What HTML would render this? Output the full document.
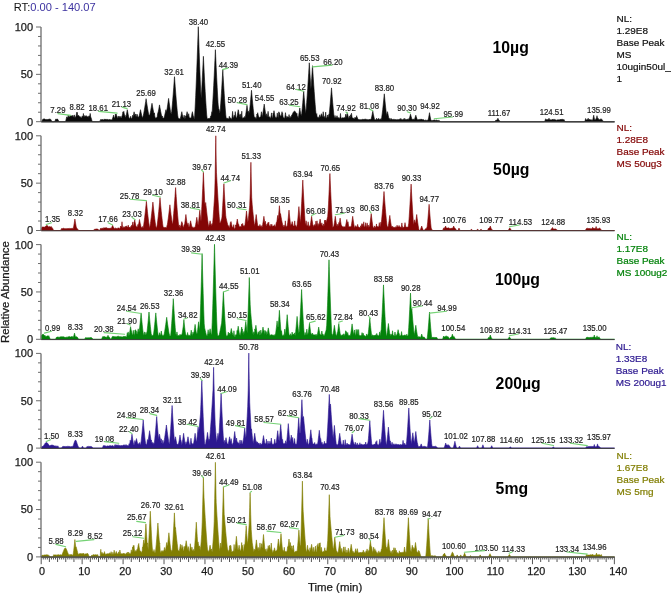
<!DOCTYPE html>
<html><head><meta charset="utf-8"><style>
html,body{margin:0;padding:0;background:#fff;}
svg{display:block;will-change:transform;}
</style></head><body>
<svg width="672" height="593" viewBox="0 0 672 593">
<rect width="672" height="593" fill="#fff"/>
<path d="M41.2,121.7 41.2,121.7 41.7,121.21 42.2,120.44 42.7,119.53 42.9,119.14 43.2,119.29 43.7,118.78 43.709,118.76 44.2,118.92 44.7,119.03 45.2,119.29 45.208,119.29 45.7,119.52 46.2,119.57 46.7,119.49 46.927,119.3 47.2,119.45 47.7,119.52 48.2,119.58 48.674,119.02 48.7,119.1 49.2,119.21 49.7,118.97 50.2,118.93 50.213,118.93 50.7,119.45 51.2,120.23 51.7,121.09 52.2,121.7 54.2,121.7 54.7,121.37 55.2,120.45 55.7,119.11 56.2,119.27 56.7,119.24 57.2,119.08 57.658,119.08 57.7,119.24 58.2,120.07 58.7,121.07 59.2,121.7 65.2,121.7 65.7,120.88 66.2,119.01 66.7,116.83 67.2,117.5 67.7,117.75 68.195,115.06 68.2,115.11 68.7,117.18 69.2,116.98 69.7,116.43 69.768,116.02 70.2,115.4 70.7,116.38 70.867,115.59 71.2,116.28 71.7,116.08 72.2,116.33 72.304,115.32 72.7,116.82 73.11,115.5 73.2,116.26 73.7,117.17 74.2,116.54 74.363,114.9 74.7,117.24 75.2,117.5 75.36,116.72 75.7,117.68 76.2,115.35 76.7,112.75 76.8,112.2 77.2,113.16 77.285,112.49 77.7,115.66 78.2,116.11 78.254,115.93 78.5,115.1 78.7,115.78 79.2,116.47 79.386,116.41 79.7,116.39 80.2,116.66 80.372,116.69 80.7,117.21 81.2,117.63 81.7,117.64 82.173,115.89 82.2,116.13 82.7,117.12 83.2,115.28 83.392,113.48 83.7,116.32 84.2,116.97 84.7,115.84 84.763,115.5 85.2,116.12 85.7,116.16 86.2,116.56 86.544,115.65 86.7,116.41 87,116.2 87.2,116.77 87.7,116.97 88.2,116.62 88.281,116.25 88.7,117.42 89.2,115.91 89.23,115.67 89.7,117.15 90.173,113.4 90.2,113.62 90.7,116.92 91.2,118.08 91.7,119.69 92.2,121.7 99.2,121.7 99.7,121.22 100.2,120.4 100.7,119.43 100.8,119.23 101.2,119.63 101.7,119.65 102.2,119.66 102.369,119.18 102.7,119.97 103.2,120.03 103.7,119.89 104.141,118.93 104.2,119.15 104.7,119.57 105.2,119.25 105.264,119.01 105.7,119.6 106.2,119.52 106.7,119.39 106.929,119.35 107.2,119.36 107.7,119.51 107.813,119.56 108.2,119.74 108.7,119.89 108.957,119.38 109.2,119.88 109.7,119.5 109.862,119.18 110.2,119.8 110.7,119.88 111.042,119.66 111.2,119.89 111.7,119.75 112.151,119.45 112.2,119.39 112.7,118.07 113.2,116.62 113.5,115.14 113.7,116.32 114.2,117.79 114.7,118.14 115.2,115.51 115.365,114.26 115.7,115.26 116.1,114 116.2,114.32 116.598,115.56 116.7,115.86 117.2,117.32 117.7,118.61 118.2,116.3 118.241,115.99 118.7,118.33 119.2,117.22 119.403,116.31 119.7,117.62 120.2,118.01 120.7,116.7 120.803,116.22 121.2,117.95 121.7,117.89 122.003,115.72 122.2,115.7 122.7,113.32 123,111.8 123.2,112.82 123.7,111.84 123.8,111.3 123.914,111.91 124.2,113.41 124.7,115.88 125.104,115.36 125.2,116.33 125.7,117.84 126.2,115.52 126.67,113.14 126.7,112.99 127.2,110.26 127.3,109.7 127.7,111.92 127.731,112.09 128.2,114.53 128.7,116.94 128.779,117.18 129.2,118.23 129.7,118.56 130.2,118.02 130.628,116.29 130.7,116.59 131.2,118.57 131.7,118.51 132.2,117.54 132.533,115.29 132.7,116.44 133.2,116.16 133.7,113.81 134.1,111.8 134.2,112.31 134.35,113.07 134.7,114.77 135.2,116.12 135.462,113.94 135.7,115.93 136.2,117.04 136.594,115.58 136.7,115.18 137,114 137.2,114.79 137.651,115.97 137.7,116.22 138.2,118.07 138.514,116.86 138.7,117.59 139.2,115.74 139.7,113.53 140.2,111.18 140.246,110.95 140.5,109.7 140.7,110.69 141.134,112.76 141.2,113.07 141.7,115.31 142.2,117.38 142.7,117.34 142.754,117.08 143.2,116.1 143.7,113.52 144.127,111.15 144.2,110.73 144.7,107.77 145.2,104.65 145.648,101.74 145.7,101.4 146.1,98.7 146.2,99.38 146.7,102.71 147.2,105.92 147.563,108.15 147.7,108.97 148.2,111.87 148.7,114.58 149.155,114.99 149.2,115.25 149.7,115.33 150.2,112.97 150.7,110.45 150.748,110.2 151.2,107.8 151.7,105.02 152,103.3 152.2,104.45 152.501,106.15 152.7,107.25 153.2,109.93 153.7,112.48 154.2,114.46 154.387,112.88 154.7,115.48 155.2,118.19 155.7,118.03 156.092,117.58 156.2,117.92 156.7,118.12 157.2,116.82 157.7,113.33 157.715,113.19 158.2,112.04 158.7,109.4 158.867,108.49 159.2,106.63 159.5,104.9 159.7,106.06 160.002,107.76 160.2,108.86 160.7,111.52 161.2,114.04 161.21,114.09 161.7,116.37 162.2,116.6 162.331,115.96 162.7,117.74 163.2,118.32 163.7,118.04 163.789,117.75 164.2,117.38 164.7,115.31 164.753,115.08 165.2,113.07 165.7,110.69 165.9,109.7 166.2,111.18 166.7,111.26 166.742,111 167.2,108.11 167.7,104.78 168.2,101.29 168.6,98.4 168.7,99.13 168.731,99.36 169.2,102.71 169.7,106.13 170.149,109.07 170.2,109.39 170.7,112.46 171.2,114.35 171.315,113.5 171.7,111.42 172.2,106.11 172.379,104.1 172.7,100.34 173.2,94.19 173.7,87.7 174.152,81.57 174.2,80.91 174.5,76.7 174.7,79.52 175.2,86.36 175.629,92.01 175.7,92.92 176.2,99.14 176.7,104.99 177.2,110.4 177.557,113.93 177.7,115.26 178.2,118.27 178.7,118.52 178.996,118.14 179.2,118.82 179.7,118.99 180.2,118.81 180.7,116.99 180.935,115.94 181.2,114.7 181.7,112.22 181.8,111.7 182.2,113.73 182.342,114.42 182.7,116.1 183.2,117.93 183.7,117.84 184.166,115.12 184.2,115.38 184.7,118.42 185.2,118.34 185.64,115.89 185.7,116.24 186.2,116.1 186.7,113.73 186.976,112.34 187.1,111.7 187.2,112.22 187.7,114.7 188.2,116.99 188.691,113.7 188.7,113.77 189.2,117.23 189.7,117.98 190.2,117.96 190.216,117.87 190.7,118.22 191.2,117.43 191.7,115.18 191.98,113.24 192.2,112.73 192.4,111.7 192.7,113.23 193.2,115.64 193.607,116.57 193.7,117.1 194.2,118.66 194.47,118.3 194.7,115.19 195.2,106.15 195.621,97.38 195.7,95.64 196.2,84.03 196.7,71.51 197.2,58.22 197.234,57.29 197.7,44.26 198.2,29.68 198.3,26.7 198.7,38.5 198.987,46.73 199.2,52.71 199.7,66.28 200.2,79.12 200.233,79.94 200.7,91.12 201.2,98.54 201.287,97.07 201.7,89.85 202.2,80.57 202.7,70.77 202.832,68.11 203.2,60.52 203.4,56.3 203.7,62.6 203.791,64.49 204.2,72.77 204.65,81.52 204.7,82.47 205.2,91.64 205.7,100.2 206.168,107.55 206.2,108.03 206.7,114.92 207.2,118.92 207.7,118.76 207.902,118.4 208.2,118.56 208.7,118.52 209.077,118.21 209.2,118.53 209.7,118.51 210.2,118 210.597,116.31 210.7,116.76 211.2,115.18 211.7,112.73 211.9,111.7 212.109,112.69 212.2,111.39 212.7,103.62 213.2,94.97 213.345,92.32 213.7,85.61 214.2,75.65 214.7,65.16 214.916,60.48 215.2,54.2 215.4,49.7 215.7,56.43 216.2,67.3 216.7,77.68 216.768,79.06 217.2,87.53 217.7,96.76 218.058,102.92 218.2,105 218.7,108.83 219.2,109.7 219.7,112.72 219.9,113.19 220.2,110.56 220.7,103.88 221.2,96.57 221.403,93.44 221.7,88.72 222.2,80.41 222.7,71.69 222.8,69.9 223.109,75.38 223.2,76.97 223.7,85.44 224.2,93.49 224.526,98.46 224.7,101.03 225.2,107.97 225.7,114.18 225.774,115.02 226.2,118.36 226.7,118.35 227.2,118.34 227.594,118.19 227.7,118.5 228.2,118.81 228.7,118.99 229.2,117 229.335,116.24 229.7,118.22 230.2,118.14 230.294,117.82 230.7,118.23 231.2,118.61 231.7,119.46 232.2,115.95 232.6,111.37 232.7,112.57 233.2,117.29 233.7,117.74 234.2,115.53 234.254,115.13 234.7,117.33 235.2,112.48 235.28,111.64 235.7,115.87 236.2,118.1 236.7,118.05 237.195,115.55 237.2,115.52 237.7,112.72 238.2,109.7 238.624,111.02 238.7,111.82 239.2,115.52 239.528,114.66 239.7,116.23 240.2,117.58 240.7,114.19 240.731,113.92 241.2,117.66 241.7,112.36 241.77,111.22 242.2,117.66 242.7,118.41 242.949,117.67 243.2,118.11 243.7,117.77 244.2,117.65 244.565,116.52 244.7,117.28 245.2,117.58 245.7,114.56 246.2,111.21 246.541,108.77 246.7,107.59 247,105.3 247.2,106.83 247.7,110.51 248.2,113.92 248.424,111.2 248.7,114.99 249.2,112.07 249.234,111.74 249.7,109.42 250.2,104.53 250.7,99.29 251.126,94.59 251.2,93.75 251.5,90.3 251.7,92.61 252.2,98.21 252.657,103.06 252.7,103.51 253.2,108.47 253.69,112.95 253.7,113.04 254.2,117.09 254.7,117.45 255.093,116.91 255.2,117.5 255.7,118.22 256.2,118.42 256.7,116.17 256.959,114 257.2,114.97 257.7,112.7 258.2,114.97 258.352,115.62 258.7,117.07 259.2,117.56 259.7,117.19 260.2,117.03 260.316,117.05 260.7,116.77 261.2,113.23 261.395,111.74 261.7,114.05 262.2,117.04 262.62,114.66 262.7,114.18 263.2,111.04 263.7,107.67 263.953,105.89 264.2,104.1 264.7,107.67 265.2,111.04 265.615,113.66 265.7,114.18 266.2,117.04 266.7,113.81 266.708,113.75 267.2,117.22 267.7,114.71 268.09,111.37 268.2,112.34 268.7,116.45 269.2,117.98 269.7,116.69 269.721,116.6 270.2,118.32 270.7,118.08 271.2,115.53 271.502,112.9 271.7,114.64 272.2,117.95 272.7,117.27 273.121,113.24 273.2,114.04 273.7,112.38 274,110.7 274.2,111.83 274.7,114.52 274.881,115.45 275.2,117 275.7,117.83 276.131,117.46 276.2,117.78 276.7,117.86 277.2,113.79 277.293,112.94 277.7,116.48 278.2,117.85 278.7,113.18 278.814,111.79 279.2,113.62 279.4,112.7 279.7,114.08 280.2,116.25 280.7,115.95 280.753,115.68 281.2,115.64 281.7,113.23 282,111.7 282.2,112.73 282.6,113.04 282.7,114.2 283.2,117.43 283.676,117.65 283.7,117.77 284.2,118.15 284.7,117.97 285.2,114.64 285.467,112.66 285.7,114.4 286.2,117.82 286.7,117.62 286.94,116.2 287.2,117.2 287.7,117.06 288.002,117.16 288.2,117.27 288.7,116.76 289.056,114.57 289.2,115.48 289.7,117.66 290.2,117.7 290.672,116.49 290.7,116.64 291.2,117.01 291.7,115.1 291.701,115.09 292.2,114.6 292.522,113.84 292.7,113.44 293.2,112.43 293.7,111.69 294.141,111.3 294.2,111.27 294.7,111.23 295.2,111.57 295.447,111.87 295.7,112.26 296.2,113.22 296.7,114.36 296.87,113.22 297.2,115.58 297.7,116.78 298.2,117.89 298.606,115.81 298.7,115.25 299.2,112.11 299.7,108.71 299.8,108 300.115,110.2 300.2,110.78 300.7,114.03 301.063,114.94 301.2,115.65 301.7,113.62 302.2,108.67 302.7,103.23 302.774,102.39 303.2,97.39 303.7,91.2 304.092,96.08 304.2,97.39 304.7,103.23 305.2,108.67 305.7,113.62 305.92,111.83 306.2,108.79 306.7,102.5 307.2,95.69 307.585,90.13 307.7,88.43 308.2,80.79 308.661,73.43 308.7,72.8 309.2,64.5 309.3,62.8 309.613,68.07 309.7,69.51 310.2,77.63 310.7,85.42 310.9,88.43 311.023,88.31 311.2,85.75 311.7,78.28 311.844,76.07 312.2,70.5 312.5,65.7 312.681,68.61 312.7,68.91 313.2,76.75 313.7,84.28 313.758,85.13 314.2,91.48 314.7,98.3 315.2,104.68 315.629,109.76 315.7,110.55 316.2,115.77 316.7,113.91 316.745,113.5 317.2,117.36 317.7,117.53 318.172,116.79 318.2,117.01 318.7,118.33 319.2,117.62 319.7,115.07 319.757,114.76 320.2,117.06 320.7,116.48 321.2,114.52 321.4,113.7 321.653,114.29 321.7,114.6 322.2,116.85 322.7,116.32 323.2,111.82 323.207,111.75 323.7,116.2 324.2,117.77 324.517,116.53 324.7,117.54 325.2,117.91 325.661,112.08 325.7,112.62 326.2,118.08 326.7,118.32 327.2,116.48 327.461,114.96 327.7,116.35 328.2,117.52 328.664,114.71 328.7,114.96 329.2,114.06 329.7,109.15 330.2,103.74 330.6,99.12 330.7,97.92 331.2,91.75 331.5,87.9 331.619,89.44 331.7,90.48 332.2,96.71 332.7,102.61 332.817,103.93 333.2,108.1 333.7,113.13 333.845,114.47 334.2,117.53 334.7,117.48 335.026,115.47 335.2,116.56 335.7,118.02 336.2,117.65 336.7,116.62 336.962,115.82 337,115.7 337.2,116.32 337.7,117.79 338.2,118.16 338.633,117.47 338.7,117.74 339.2,118.14 339.7,118.29 340.2,116.69 340.478,113.44 340.7,116.07 341.2,118.54 341.7,118.14 341.819,118.05 342.2,117.84 342.662,117.8 342.7,117.8 343.2,117.89 343.7,117.87 344.2,117.7 344.259,117.68 344.7,117.6 345.2,117.79 345.7,114.53 345.747,114.09 346.2,117.46 346.7,115.4 347.2,113.17 347.3,112.7 347.452,113.4 347.7,114.53 348.2,116.66 348.7,118.41 349.2,117.45 349.377,115.89 349.7,117.85 350.2,117.32 350.582,114.77 350.7,115.58 351.2,115.3 351.488,113.25 351.7,114.77 352.2,118.06 352.7,118.02 353.2,118.11 353.219,118 353.7,118.44 354.2,118.71 354.7,118.56 355.03,117.12 355.2,117.88 355.7,118.02 356.2,117.83 356.646,115.66 356.7,115.93 357.2,118.3 357.468,117.63 357.7,118.61 358.2,120.28 358.6,119.29 358.7,119.57 359.2,119.51 359.7,119.75 360.2,119.66 360.235,119.55 360.7,119.79 361.2,119.73 361.465,119.57 361.7,119.76 362.2,119.84 362.584,118.95 362.7,119.38 363.2,119.6 363.7,119.36 364.056,119.27 364.2,119.27 364.7,119.35 365.2,119.48 365.7,119.11 365.803,118.86 366.2,119.49 366.7,119.52 367.2,119.68 367.61,119.38 367.7,119.61 368.2,119.98 368.7,119.86 369.06,119.02 369.2,119.38 369.7,119.56 370.2,119.57 370.7,119.27 370.71,119.24 371.2,118.92 371.7,116.76 372.11,114.8 372.2,114.35 372.7,111.74 372.8,111.2 373.2,113.33 373.481,114.76 373.7,115.82 374.2,118.09 374.613,119.55 374.7,119.72 375.2,119.75 375.7,119.85 376.2,119.47 376.605,118.22 376.7,118.52 377.2,119.49 377.7,119.32 377.719,119.32 378.2,119.33 378.7,118.29 378.705,118.28 379.2,119.49 379.7,119.44 380.051,119.32 380.2,119.42 380.7,119.37 380.911,118.64 381.2,119.63 381.7,117.58 382.2,113.83 382.556,110.86 382.7,109.6 383.2,104.99 383.7,100.07 384.092,96.01 384.2,94.87 384.3,93.8 384.7,98.02 385.2,103.06 385.7,107.8 386.061,111.01 386.2,112.19 386.7,115.64 387.2,113.23 387.5,111.7 387.7,112.73 387.824,113.35 388.2,115.18 388.7,117.43 389.2,119.43 389.7,118.39 389.714,118.34 390.2,119.87 390.7,119.46 391.048,118.29 391.2,118.81 391.7,119.36 392.2,119.42 392.606,119.47 392.7,119.47 393.2,119.42 393.7,119.36 394.2,119.43 394.544,119.27 394.7,119.64 395.2,119.87 395.7,119.51 395.783,119.29 396.2,119.83 396.7,119.7 397.2,119.68 397.7,119.47 397.712,119.44 398.2,119.67 398.7,119.48 399.2,119.28 399.631,119.2 399.7,119.23 400.2,119.37 400.7,118.89 400.862,118.34 401.2,119.46 401.7,119.63 401.882,119.2 402.2,119.64 402.7,119.76 403.2,119.92 403.7,118.87 403.784,118.66 404.2,119.68 404.7,118.53 404.743,118.36 405.2,119.42 405.7,119.44 406.036,119.44 406.2,119.49 406.7,119.44 407.2,119.33 407.228,119.33 407.7,119.32 408.2,119.5 408.7,118.96 408.823,118.6 409.2,118.81 409.7,117.16 410.2,115.35 410.487,114.25 410.5,114.2 410.7,114.97 411.2,116.81 411.7,118.49 411.827,118.9 412.2,119.61 412.7,119.38 412.824,119.15 413.2,119.24 413.7,119.3 414.2,119.47 414.422,119.41 414.7,118.64 415.2,117.15 415.583,115.92 415.7,115.54 415.8,115.2 416.2,116.52 416.7,118.06 417.2,119.46 417.509,119.5 417.7,119.89 418.2,119.68 418.7,119.52 419.2,119.49 419.481,119.31 419.7,119.52 420.2,119.48 420.631,119.23 420.7,119.35 421.2,119.27 421.7,119.36 421.994,119.02 422.2,119.45 422.7,119.8 423.2,119.84 423.7,119.59 423.713,119.57 424.2,119.92 424.7,120.47 425.2,120.42 425.6,119.87 425.7,120.01 426.2,120.45 426.7,120.33 427.2,120.32 427.7,120.15 427.903,119.85 428.2,119.76 428.7,117.33 429.2,114.53 429.5,112.7 429.7,113.93 429.905,115.14 430.2,116.8 430.7,119.32 431.2,120.4 431.7,120.61 432.2,120.51 432.7,120.47 433.2,120.49 433.491,120 433.7,120.36 434.2,119.7 434.7,120.31 435.2,120.31 435.7,120.42 436.2,120.55 436.604,119.76 436.7,119.99 437.2,120.58 437.7,120.56 438.2,120.19 438.226,120.14 438.7,120.66 439.2,120.44 439.7,120.95 440.2,121.28 440.7,121.7 494.2,121.7 494.7,121.38 495.2,120.86 495.7,120.43 496.2,120.29 496.497,120.01 496.7,120.24 497.2,119.79 497.7,118.68 497.9,118.2 498.2,118.91 498.7,120 499.2,120.51 499.7,120.88 500.2,121.27 500.7,121.7 544.2,121.7 544.7,121.24 545.2,120.13 545.6,118.75 545.7,119.12 546.2,119.72 546.7,119.62 546.852,119.61 547.2,119.65 547.7,119.83 547.918,119.42 548.2,120 548.7,118.91 549,118.2 549.2,118.68 549.659,119.71 549.7,119.79 550.2,120.04 550.7,119.91 550.906,119.52 551.2,120.07 551.7,119.9 552.2,119.69 552.485,119.02 552.7,119.61 553.2,119.69 553.7,119.75 554.028,118.95 554.2,119.38 554.7,119.81 555.2,119.83 555.7,119.97 555.795,119.75 556.2,120.15 556.7,120.22 557.2,119.86 557.262,119.77 557.7,119.96 558.2,119.86 558.42,119.86 558.7,119.87 559.2,119.88 559.7,119.78 560.113,119.27 560.2,119.52 560.7,119.59 561.2,119.62 561.324,119.32 561.7,119.91 562.168,118.91 562.2,119.01 562.7,120.04 563.2,120 563.7,119.71 563.863,119.18 564.2,120.23 564.7,120.7 565.2,121.16 565.7,121.7 584.2,121.7 584.7,121.32 585.2,120.37 585.6,118.47 585.7,118.98 586.2,120.05 586.7,120 587.037,119.43 587.2,119.77 587.7,119.57 588.164,118.2 588.2,118.31 588.7,119.76 589.2,119.92 589.666,119.17 589.7,119.3 590.2,119.97 590.7,119.93 590.973,119.47 591.2,119.86 591.7,120.22 592.2,120.24 592.7,120.1 592.96,119.01 593.2,117.86 593.7,115.2 594.2,117.86 594.513,119.34 594.7,119.86 595.2,119.81 595.7,119.5 596.04,118.71 596.2,119.09 596.7,117.21 596.871,116.36 597,115.7 597.2,116.72 597.7,119.05 598.077,118.26 598.2,118.6 598.7,119.86 598.973,119.46 599.2,120.05 599.7,119.81 599.811,119.55 600.2,120.09 600.7,118.96 600.8,118.7 601.2,119.7 601.598,118.88 601.7,119.13 602.2,119.89 602.7,120.5 603.2,121.13 603.7,121.7 614.2,121.7 614.6,121.7Z" fill="#0a0a0a" stroke="#0a0a0a" stroke-width="0.6" stroke-linejoin="round"/>
<line x1="41.2" y1="122.00" x2="614.6" y2="122.00" stroke="#3a3a3a" stroke-width="1"/>
<path d="M41.2,230.5 41.2,229.26 41.7,228.03 42.1,226.92 42.2,227.21 42.7,226.95 43.2,227.06 43.7,227.01 43.91,226.99 44.2,227 44.7,227.2 45.2,226.66 45.56,226.23 45.7,226.09 46.2,225.68 46.615,225.52 46.7,225.51 47.2,225.58 47.7,225.9 47.948,226.14 48.2,226.42 48.7,227.06 49.2,226.81 49.662,226.44 49.7,226.57 50.2,226.74 50.7,227.08 51.2,227.21 51.372,226.59 51.7,227.45 52.2,227.67 52.7,228.5 53.2,229.55 53.7,230.46 54.2,230.48 54.7,230.49 55.2,230.5 60.2,230.5 60.7,230.06 61.2,229.42 61.6,228.4 61.7,228.72 62.2,228.64 62.7,228.48 63.2,228.32 63.56,228.29 63.7,228.3 64.2,228.45 64.7,228.63 65.2,228.71 65.476,228.39 65.7,228.69 66.2,228.69 66.7,228.59 66.709,228.58 67.2,228.91 67.7,228.54 67.871,228.08 68.2,228.75 68.7,228.54 69.2,228.43 69.296,228.43 69.7,228.46 70.2,228.51 70.455,228.51 70.7,228.48 71.2,228.41 71.7,228.42 71.817,228.21 72.2,228.58 72.7,228.53 72.791,228.31 73.2,228.66 73.7,226.23 73.842,225.46 74.2,223.42 74.7,220.31 74.9,219 75.2,220.95 75.689,223.94 75.7,224 76.2,226.75 76.7,228.37 76.707,228.34 77.2,228.5 77.7,229.13 78.2,229.86 78.7,230.5 93.2,230.5 93.7,230.13 94.2,229.7 94.6,228.99 94.7,229.21 95.2,229.25 95.7,229.12 95.954,229 96.2,228.98 96.7,228.93 97.2,228.95 97.7,229.02 97.712,229 98.2,229.53 98.7,230.08 99.2,230.5 99.7,229.93 100.2,229.26 100.6,228.24 100.7,228.52 101.2,228.44 101.7,228.38 102.2,228.44 102.508,227.91 102.7,228.37 103.2,228.48 103.7,228.12 103.862,227.63 104.2,228.01 104.7,227.91 105.2,227.99 105.442,227.65 105.7,228.12 106.2,228.15 106.467,227.57 106.7,228.11 107.2,228.14 107.7,228.33 107.85,228.07 108.2,228.56 108.7,228.19 108.771,228.03 109.2,228.53 109.7,228.33 110.176,228.1 110.2,228.17 110.7,228.24 111.2,228.24 111.7,227.53 111.866,227.13 112.2,226.27 112.6,225.2 112.7,225.47 113.2,226.79 113.7,228.01 113.802,227.88 114.2,228.41 114.7,228.4 115.2,228.36 115.491,227.78 115.7,228.41 116.2,228.53 116.433,228.23 116.7,228.57 117.2,228.42 117.7,228.15 118.2,227.97 118.371,227.95 118.7,227.98 119.2,228.31 119.7,228.97 120.2,227.56 120.6,226.06 120.7,226.45 121.2,227.1 121.7,225.64 122.007,221.76 122.2,224.26 122.7,227.69 123.2,227.46 123.7,227.28 123.971,226.59 124.2,227.28 124.7,227.31 125.2,227.16 125.552,226.35 125.7,226.84 126.2,226.62 126.454,225.86 126.7,226.69 127.2,227 127.7,227.28 128.2,225.22 128.218,225.12 128.7,227.29 129.2,227.35 129.7,227.57 130.023,227.08 130.2,227.74 130.7,227.63 130.98,226.22 131.2,227.28 131.7,225.52 131.78,224.99 132.2,226.85 132.7,222.45 132.749,221.91 133.2,226.58 133.7,225.04 134.158,222.1 134.2,222.57 134.7,219.9 135.2,222.57 135.289,223.02 135.7,225.04 136.2,227.28 136.7,226.76 136.789,226.46 137.2,227.37 137.7,226.37 137.959,224.42 138.2,226.24 138.7,223.84 139.032,222.1 139.2,221.18 139.5,219.5 139.7,220.63 140.2,223.32 140.6,224.45 140.7,225.33 141.2,227.46 141.7,227.56 142.2,227.53 142.438,226.5 142.7,227.56 143.2,227.76 143.7,224.92 144.2,221.24 144.348,220.08 144.7,217.18 145.2,212.81 145.7,208.18 145.716,208.03 146.2,203.31 146.4,201.3 146.7,204.3 147.2,209.12 147.436,211.32 147.7,213.71 148.2,218.02 148.7,222.01 149.2,225.6 149.414,226.98 149.7,227.91 150.2,225.07 150.421,223.54 150.7,221.49 151.2,217.55 151.7,213.3 152.2,208.79 152.415,206.78 152.7,204.05 152.9,202.1 153.2,205.02 153.7,209.71 154.2,214.17 154.323,215.23 154.7,218.36 155.128,221.71 155.2,222.24 155.7,225.73 155.986,226.94 156.2,227.44 156.7,227.61 157.2,225 157.691,221.04 157.7,220.96 158.2,216.48 158.7,211.64 159.2,206.49 159.572,202.48 159.7,201.07 160,197.7 160.2,199.96 160.7,205.43 161.2,210.63 161.291,211.55 161.7,215.54 162.2,220.1 162.571,223.21 162.7,224.23 163.2,227.79 163.7,227.3 163.825,226.89 164.2,227.74 164.7,227.71 165.192,226.97 165.2,227.01 165.7,227.9 166.2,227.76 166.7,227.33 167.022,225.41 167.2,225.59 167.7,222.35 168.2,218.78 168.7,214.93 168.836,213.85 169.2,210.85 169.7,206.57 169.9,204.8 169.923,205 170.2,207.44 170.7,211.69 171.031,214.38 171.2,215.72 171.7,219.52 172.2,223.03 172.208,223.08 172.7,224.27 173.2,219.13 173.7,213.38 173.936,210.49 174.2,207.13 174.7,200.47 174.982,196.55 175.2,193.45 175.6,187.6 175.7,189.08 176.2,196.3 176.225,196.65 176.7,203.18 177.2,209.68 177.698,215.72 177.7,215.74 178.2,221.27 178.7,226.1 179.2,225.39 179.289,224.92 179.7,227 180.2,227.64 180.538,225.86 180.7,226.31 181.2,224.27 181.7,222.06 181.8,221.6 182.2,223.4 182.29,222.8 182.7,225.52 183.2,227.25 183.7,226.88 184.127,224.87 184.2,225.22 184.7,223.66 185.2,220.06 185.7,216.14 185.9,214.5 185.913,214.61 186.2,216.95 186.7,220.81 186.818,221.67 187.2,224.34 187.7,224.77 188.033,222.88 188.2,223.84 188.7,226.54 189.2,227 189.584,225.58 189.7,225.07 190.2,222.77 190.6,220.8 190.7,221.3 191.2,223.71 191.45,224.85 191.7,225.94 192.2,227.72 192.7,227.52 192.882,226.74 193.2,228.01 193.7,227.83 194.2,227.49 194.436,227.35 194.7,227.25 195.2,227 195.7,224.29 196.02,222.38 196.2,221.26 196.7,217.98 196.8,217.3 197.2,219.98 197.7,223.11 197.881,224.18 198.2,225.12 198.7,220.95 199.2,216.29 199.7,211.25 199.702,211.23 199.8,210.2 200.2,214.32 200.7,219.14 201.04,221.14 201.2,218.52 201.7,209.49 201.854,206.5 202.2,199.45 202.7,188.57 203.2,177 203.4,172.2 203.469,173.87 203.7,179.37 204.2,190.81 204.7,201.53 205.2,207.25 205.408,205.3 205.7,202.5 206.2,207.25 206.7,211.79 207.131,215.51 207.2,216.09 207.7,220.1 208.2,223.79 208.382,224.99 208.7,226.65 209.2,225.07 209.467,223.86 209.7,222.77 210.1,220.8 210.2,221.3 210.593,223.21 210.7,223.71 211.2,225.94 211.7,225.1 211.932,223.66 212.2,225.31 212.7,222.73 213.132,217.4 213.2,216.51 213.7,209.56 214.2,202.03 214.7,194 215.11,178.35 215.2,173.14 215.7,142.31 215.8,135.8 216.2,161.18 216.457,172.27 216.7,176.7 217.2,185.54 217.7,194 217.907,197.38 218.2,202.03 218.7,209.56 218.981,213.54 219.2,216.51 219.7,222.73 219.866,222.76 220.2,223.22 220.7,221.71 221.2,220.14 221.7,218.5 221.852,218 222,216.68 222.2,213.67 222.7,205.62 223.2,196.92 223.332,194.52 223.7,187.65 223.9,183.8 224.2,189.54 224.7,198.7 224.98,203.59 225.2,207.29 225.7,215.19 226,217.5 226.2,218.39 226.7,220.56 226.839,221.15 227.2,222.63 227.7,224.57 228.2,226.38 228.7,226.25 228.82,225.57 229.2,227.65 229.7,227.03 230.2,223.73 230.36,222.51 230.7,222.88 231,221.5 231.2,222.42 231.7,224.63 232.023,225.96 232.2,226.65 232.7,227.35 233.2,227.53 233.7,225.08 233.752,224.63 234.2,228.22 234.7,228.87 235.2,228.1 235.6,224.9 235.7,225.76 236.2,225.09 236.7,222.45 237.146,219.91 237.2,219.59 237.3,219 237.7,221.33 238.2,224.06 238.7,224.34 238.714,224.25 239.2,226.4 239.7,226.76 240.2,226.84 240.378,226.38 240.7,226.75 241.2,226.77 241.662,223.95 241.7,224.31 242.2,225.78 242.654,223.42 242.7,223.66 243.2,226.23 243.7,226.12 244.033,225.57 244.2,226.03 244.7,226.19 244.965,224.84 245.2,222.99 245.7,218.69 246.2,213.99 246.482,211.18 246.5,211 246.7,213 247.2,217.78 247.654,221.78 247.7,222.17 248.2,220.17 248.7,215.71 249.2,210.92 249.542,207.47 249.7,205.84 250.2,193.35 250.7,171.6 250.9,162.3 250.954,164.84 251,166.99 251.2,176.13 251.7,197.41 252.2,204.79 252.585,208.77 252.7,209.93 252.9,211.9 253.2,214.78 253.7,219.31 254.2,223.44 254.239,223.74 254.7,225.64 255.2,222.26 255.24,221.98 255.7,218.53 256.2,214.5 256.636,218.03 256.7,218.53 257.2,222.26 257.7,225.64 258.2,225.9 258.227,225.76 258.7,226.3 259.2,226.24 259.7,226.08 259.932,224.48 260.2,226.1 260.7,226.45 261.2,225.81 261.235,225.62 261.7,227.14 262.2,227.03 262.7,224.43 262.712,224.36 263.2,221.24 263.7,217.76 263.9,216.3 264.2,218.47 264.251,218.84 264.7,221.9 265.2,224.52 265.475,221.28 265.7,223.95 266.2,226 266.7,225.55 267.015,223.96 267.2,224.9 267.7,224.06 267.919,222.62 268.2,224.47 268.7,222.31 268.73,222.06 269.2,225.73 269.7,226.54 269.926,225.42 270.2,226.77 270.7,225.73 270.974,224.13 271.2,225.45 271.7,225.78 271.886,224.35 272.2,226.34 272.7,226.29 273.2,226.07 273.7,225.96 273.744,225.97 274.2,226.18 274.55,224.68 274.7,225.53 275.2,227 275.7,225.98 276.2,223.09 276.318,222.36 276.7,222.73 277.2,219.2 277.7,215.4 278.029,217.93 278.2,219.2 278.7,214.32 279.2,208.25 279.4,205.7 279.7,209.5 279.705,209.56 280.2,215.34 280.5,213.6 280.7,214.76 281.2,217.58 281.602,219.75 281.7,220.26 282.2,222.79 282.488,223.77 282.7,225.02 283.2,227.22 283.7,226.37 283.954,225.05 284.2,226.33 284.7,226.48 285.2,222.94 285.341,220.83 285.7,225.96 286.2,226.38 286.7,226.15 287.198,225.91 287.2,225.91 287.7,222.64 288.2,218.14 288.281,217.37 288.7,213.22 289,210.1 289.2,212.2 289.271,212.93 289.7,217.19 290.2,221.78 290.7,225.86 291.112,224.68 291.2,225.1 291.7,223.84 292.2,221.6 292.7,223.84 293.092,225.49 293.2,225.92 293.7,226.09 294.2,225.95 294.7,221.05 294.714,220.9 295.2,225.7 295.7,225.59 295.738,225.41 296.2,226.68 296.7,227.09 297.2,224.3 297.462,221.36 297.7,220.29 298.2,214.91 298.7,209.06 298.9,206.6 298.912,206.75 299.2,210.26 299.7,216.02 300.2,221.3 300.423,222.63 300.7,218.64 301.2,210.63 301.588,203.82 301.7,201.77 302.2,192.22 302.7,182.09 302.771,180.61 302.8,180 303.2,188.24 303.7,198.03 304.095,205.31 304.2,207.18 304.7,215.55 304.984,219.89 305.2,222.94 305.7,224.81 306.137,220.78 306.2,221.38 306.7,225.87 307.021,225.35 307.2,226.07 307.7,225.48 308.143,221.76 308.2,222.26 308.7,226.21 309.2,226.17 309.353,225.68 309.7,226.43 310.2,225.62 310.7,222.55 311.083,219.99 311.2,219.18 311.6,216.3 311.7,217.03 311.996,219.15 312.2,220.56 312.7,223.82 313.2,226.67 313.7,225.68 313.741,225.5 314.2,226.11 314.7,224.74 314.75,224.39 315.2,225.93 315.7,223.88 315.951,221.09 316.2,223.85 316.7,224.4 317.023,220.8 317.2,222.82 317.7,226.49 318.15,223.55 318.2,223.89 318.7,226.54 319.2,224.06 319.7,221.33 320.038,219.37 320.1,219 320.2,219.59 320.7,222.45 321.2,225.09 321.7,224.27 321.89,222.9 322.2,225.1 322.7,226.05 323.2,226.18 323.636,223.96 323.7,224.6 324.2,225.76 324.643,220.15 324.7,220.92 325.2,222.37 325.473,220.04 325.7,221.99 326.2,222.56 326.363,220.82 326.7,220.59 327.2,218.53 327.582,216.9 327.7,216.39 328.2,209.96 328.5,204.17 328.551,203.16 328.7,200.14 329.2,189.51 329.7,178.2 329.9,173.5 330.2,180.51 330.6,189.51 330.7,191.69 331.2,202.17 331.681,211.47 331.7,211.82 332.2,220.41 332.7,227.49 333.179,226.79 333.2,226.87 333.7,226.74 334.2,223.82 334.437,222.31 334.7,220.56 335.2,217.03 335.3,216.3 335.7,219.18 336.03,221.44 336.2,222.55 336.7,225.62 337.2,226.6 337.7,224.29 337.729,224.15 338.2,226.34 338.7,223.78 338.84,222.57 339.2,223.56 339.7,220.61 339.764,220.22 340.1,218.1 340.2,218.74 340.7,221.82 341.2,224.66 341.7,225.88 341.73,225.76 342.2,226.65 342.7,226.74 343.11,226.38 343.2,226.79 343.7,227.13 344.2,227.11 344.346,226.64 344.7,227.1 345.2,227.29 345.7,225.32 346.2,222.8 346.283,222.36 346.7,220.07 346.8,219.5 347.2,221.73 347.7,223.46 347.958,221.73 348.2,223.35 348.7,226.42 349.2,227.02 349.7,226.78 349.749,226.55 350.2,226.66 350.7,226.81 351.2,226.19 351.367,225.23 351.7,223.19 352.2,219.88 352.225,219.7 352.7,216.3 353.2,219.88 353.7,223.19 353.796,223.79 354.2,226.19 354.7,227.45 355.2,227.08 355.7,225.87 355.764,225.62 356.2,226.71 356.7,226.89 357.2,227.04 357.645,224.36 357.7,224.87 358.2,226.98 358.7,227.11 359.2,227.44 359.451,227.15 359.7,227.73 360.2,227.75 360.691,225.74 360.7,225.78 361.2,227.24 361.7,224.3 361.79,223.64 362.2,226.55 362.7,224.39 362.773,223.85 363.2,226.87 363.7,222.52 363.765,221.82 364.2,226.26 364.7,226.97 365.2,226.15 365.603,222.72 365.7,223.58 366.2,227.4 366.7,225.68 367.141,222.88 367.2,223.27 367.7,226.38 368.2,225.66 368.304,225.09 368.7,227.2 369.2,226.94 369.7,225.36 370.101,222.54 370.2,221.8 370.7,217.86 370.915,216.06 371.2,213.6 371.7,217.86 372.2,221.8 372.7,225.36 372.81,226.09 373.2,227.59 373.7,227.76 374.2,227.59 374.492,225.92 374.7,227.13 375.2,227.26 375.7,227.3 376.2,225.85 376.461,223.96 376.7,225.7 377.2,226.74 377.7,226.61 377.859,226.63 378.2,226.79 378.7,226.9 379.2,223.47 379.313,222.63 379.7,225.42 380.2,226.75 380.7,223.79 380.956,222.14 381.2,223.71 381.7,219.16 382.2,213.83 382.673,208.4 382.7,208.07 383.2,201.95 383.7,195.51 384,191.5 384.174,193.84 384.2,194.18 384.7,200.69 385.2,206.88 385.361,208.8 385.7,212.71 386.2,218.13 386.418,220.35 386.7,223.05 387.2,227.28 387.7,226.82 387.739,226.6 388.2,226.5 388.7,223.39 389.2,219.93 389.397,218.48 389.7,216.18 389.8,215.4 390.2,218.46 390.554,221.03 390.7,222.05 391.2,225.31 391.7,226.67 392.2,226.94 392.48,226.27 392.7,227.18 393.2,227.23 393.7,227.2 394.2,227.29 394.277,227.19 394.7,227.55 395.2,227.76 395.625,226.69 395.7,227.08 396.2,227.37 396.7,227.05 397.081,225.18 397.2,225.92 397.7,227.02 398.2,227.02 398.7,226.87 399.054,225.41 399.2,226.24 399.7,226.81 400.2,227.15 400.7,227.27 400.823,226.89 401.2,227.63 401.7,224.47 401.87,222.93 402.2,225.83 402.7,227.43 403.2,227.52 403.529,227.12 403.7,227.43 404.2,227.11 404.7,224.7 405.019,222.65 405.2,223.83 405.7,226.82 406.2,227.05 406.7,227.14 406.929,227.01 407.2,227.1 407.7,227.14 408.2,226.82 408.7,223.56 408.771,222.66 409.2,216.77 409.7,209.07 409.764,208.03 410.2,200.66 410.7,191.67 410.857,188.73 411.1,184.1 411.2,186.02 411.7,195.33 411.976,200.24 412.2,204.1 412.7,212.24 413.2,219.61 413.474,223.23 413.7,224.51 414.2,221.97 414.6,219.8 414.7,220.35 415.2,223.01 415.426,222.95 415.7,222.26 416.2,218.53 416.418,216.81 416.7,214.5 417.2,218.53 417.7,222.26 418.2,225.64 418.7,228.53 419.2,230.5 419.7,230.5 420.2,229.94 420.7,228.83 421.2,227.49 421.7,226 422.2,227.49 422.7,228.83 423.2,229.94 423.7,230.5 424.2,230.36 424.7,229.84 425.2,229.2 425.6,228.62 425.7,228.77 426.2,228.4 426.7,228.3 427.2,226.4 427.583,222.71 427.7,221.49 428.2,215.83 428.7,209.61 429.1,204.3 429.114,204.49 429.2,205.65 429.7,212.16 430.2,218.17 430.7,223.56 431.092,227.2 431.2,228.08 431.7,229.28 432.2,229.83 432.7,230.5 442.2,230.5 442.7,229.97 443.2,229.14 443.6,227.93 443.7,228.25 444.2,228.59 444.578,227.72 444.7,228.02 445.2,227.21 445.6,226 445.7,226.31 446.2,227.77 446.463,228.02 446.7,228.05 447.2,228.11 447.7,228.08 448.2,227.75 448.232,227.65 448.7,228 449.2,228.2 449.7,228.46 449.936,228.23 450.2,228.59 450.7,228.53 451.2,228.4 451.427,228 451.7,228.35 452.2,228.03 452.275,227.86 452.7,228.38 453.2,227.49 453.276,227.28 453.7,226 454.2,227.49 454.411,227.87 454.7,227.94 455.2,228.37 455.7,229.06 456.2,229.77 456.7,230.5 457.7,230.5 458.2,229.84 458.7,228.75 459,228 459.2,228.51 459.7,229.64 460.2,230.46 460.7,230.5 469.7,230.5 470.2,230.48 470.7,229.98 471.2,229.3 471.7,229.45 472.2,230.1 472.7,230.5 476.2,230.5 476.7,230.21 477.2,229.59 477.7,229.15 478.2,229.86 478.7,230.4 479.2,230.5 479.7,230.5 480.2,230.1 480.7,229.45 481.2,229.3 481.7,229.98 482.2,230.48 482.7,230.5 487.2,230.5 487.7,229.91 488.2,228.97 488.6,228.1 488.7,228.32 489.2,227.92 489.7,227.77 490.076,226.69 490.2,226.31 490.3,226 490.7,227.21 491.2,228.58 491.7,229.15 492.2,229.81 492.7,230.5 507.7,230.5 508.2,230.28 508.7,229.64 509.2,228.86 509.7,227.99 509.8,227.8 510.2,228.52 510.7,229.35 511.2,230.05 511.7,230.5 549.7,230.5 550.2,230.49 550.7,230.02 551.2,229.34 551.6,228.71 551.7,228.87 552.2,228.26 552.5,227.5 552.688,227.98 552.7,228.01 553.2,228.89 553.7,229.05 554.2,229.11 554.676,228.96 554.7,229 555.2,229.08 555.694,228.9 555.7,228.91 556.2,229.33 556.7,229.66 557.2,230.03 557.7,230.5 584.7,230.5 585.2,230.31 585.7,229.71 586.2,228.96 586.6,228.29 586.7,228.47 587.2,228.44 587.468,228.23 587.7,228.35 588.2,228.4 588.7,228.6 589.2,228.79 589.386,228.28 589.7,228.87 590.2,228.81 590.7,228.7 590.806,228.4 591.2,228.75 591.7,228.8 592.2,228.56 592.552,227.46 592.6,227.3 592.7,227.63 593.2,228.37 593.7,228.31 593.82,228.32 594.2,228.41 594.7,228.54 594.979,228.46 595.2,228.59 595.7,228.08 596.1,226.5 596.103,226.51 596.2,226.91 596.7,228.74 597.2,228.91 597.7,228.56 597.722,228.52 598.2,228.83 598.7,228.64 598.863,228.55 599.2,228.55 599.6,227.8 599.7,228.08 600.042,228.45 600.2,228.75 600.7,229.2 601.2,229.8 601.7,230.5 614.2,230.5 614.6,230.5Z" fill="#830505" stroke="#830505" stroke-width="0.6" stroke-linejoin="round"/>
<line x1="41.2" y1="230.80" x2="614.6" y2="230.80" stroke="#3a3a3a" stroke-width="1"/>
<path d="M41.2,339.3 41.2,335.97 41.7,335.25 42.1,334.78 42.2,334.68 42.7,334.36 43.2,334.32 43.7,334.6 43.849,334.73 44.2,335.12 44.7,335.82 45.2,335.87 45.268,335.62 45.7,336.81 46.2,336.6 46.7,336.26 47.041,336.08 47.2,336.03 47.7,336.05 47.89,335.73 48.2,336.17 48.7,336.19 48.896,335.77 49.2,336.71 49.7,337.81 50.2,339.15 50.7,339.3 55.2,339.3 55.7,338.67 56.2,337.9 56.6,337.05 56.7,337.29 57.2,337.12 57.415,336.99 57.7,337.09 58.2,337.15 58.7,337.31 59.024,336.8 59.2,337.18 59.7,337.35 60.2,337.12 60.7,336.66 61.2,336.84 61.7,336.89 61.953,336.51 62.2,336.92 62.7,336.83 63.2,336.75 63.574,336.78 63.7,336.83 64.2,337.07 64.7,337.31 65.2,337.38 65.532,337 65.7,337.28 66.2,337.17 66.7,337.18 66.846,337.05 67.2,337.22 67.7,337.16 68.006,336.66 68.2,336.94 68.7,336.71 69.2,336.66 69.673,336.43 69.7,336.53 70.2,336.99 70.7,337.05 71.2,336.81 71.306,336.37 71.7,337.06 72.2,337.22 72.7,336.6 72.752,336.37 73.2,337.43 73.7,336.29 74.2,334.36 74.328,333.83 74.5,333.1 74.7,333.95 75.2,335.92 75.309,336.32 75.7,336.95 76.2,336.87 76.303,336.84 76.7,336.73 77.2,336.97 77.7,337.76 78.2,338.61 78.7,339.3 84.2,339.3 84.7,338.92 85.2,338.29 85.6,337.52 85.7,337.72 86.2,337.99 86.465,337.64 86.7,337.99 87.2,338.01 87.334,337.79 87.7,337.87 88.2,337.77 88.551,337.72 88.7,337.76 89.2,337.77 89.568,337.67 89.7,337.72 90.2,337.61 90.7,337.55 90.724,337.55 91.2,337.62 91.7,337.78 92.2,338.26 92.7,338.67 93.2,339.3 101.2,339.3 101.7,338.76 102.2,337.8 102.6,336.64 102.7,336.94 103.2,337.02 103.426,336.5 103.7,336.85 104.2,336.67 104.424,336.33 104.7,336.68 105.2,336.88 105.397,336.95 105.7,337.11 106.2,337.2 106.7,337.16 106.942,336.87 107.2,336.88 107.7,335.91 107.952,335.4 108,335.3 108.2,335.71 108.7,336.69 109.2,337.14 109.295,336.92 109.7,337.74 110.2,338.48 110.7,339.3 111.2,338.86 111.7,337.94 112.2,336.84 112.3,336.61 112.7,336.44 113.2,336.63 113.342,336.15 113.7,336.98 114.2,337.11 114.485,336.51 114.7,337 115.2,336.82 115.7,336.75 116.107,336.66 116.2,336.78 116.7,336.76 117.2,336.57 117.7,336.31 117.71,336.31 118.2,336.2 118.7,336.34 118.773,336.38 119.2,336.6 119.7,336.75 119.775,336.65 120.2,336.75 120.7,336.73 121.075,336.36 121.2,336.65 121.7,337.04 122.129,336.67 122.2,336.84 122.7,336.95 123.2,336.65 123.7,336.45 123.924,335.99 124.2,336.44 124.7,336.52 124.77,336.52 125.2,336.5 125.7,336.38 126.2,337.07 126.7,336.68 127.2,333.51 127.3,332.81 127.7,335.48 128.2,331.93 128.204,331.9 128.7,335.97 129.2,334.97 129.626,332.67 129.7,332.25 130.2,329.26 130.6,326.7 130.7,327.35 131.2,330.48 131.619,330.82 131.7,331.74 132.2,335.1 132.7,334.84 133.2,331.16 133.305,330.34 133.7,333.36 134.2,335.6 134.7,333.36 135.013,330.23 135.2,331.17 135.5,329.7 135.7,330.69 136.2,331.11 136.24,330.81 136.7,334.11 137.102,334.35 137.2,333.9 137.7,331.44 138.116,329.26 138.2,328.8 138.7,331.44 139.2,331.49 139.7,327.11 139.81,326.09 140.2,322.32 140.7,317.21 141.1,312.9 141.2,313.99 141.516,317.37 141.7,319.29 142.2,324.28 142.7,328.91 143.2,333.1 143.511,333.93 143.7,335.32 144.2,334.87 144.593,331.89 144.7,332.74 145.2,335.2 145.7,334.15 146,332.3 146.2,333.55 146.7,334.47 147.2,330.35 147.7,325.73 147.986,322.91 148.2,320.71 148.7,315.36 149,312 149.2,314.25 149.567,318.26 149.7,319.67 150.2,324.76 150.403,326.72 150.7,329.46 151.2,333.69 151.621,335.09 151.7,335.41 152.2,335.59 152.7,335.4 153.023,335.22 153.2,335.13 153.7,333.1 154.192,328.98 154.2,328.91 154.7,324.28 155.2,319.29 155.64,314.64 155.7,313.99 155.8,312.9 156.2,317.21 156.441,319.71 156.7,322.32 157.2,327.11 157.687,331.38 157.7,331.49 158.2,335.35 158.7,335.41 159.2,334.79 159.636,332.67 159.7,332.99 160.2,335.37 160.7,335.04 161.2,331.81 161.32,330.98 161.7,333.55 162.2,335.65 162.7,336.05 163.054,334.81 163.2,335.45 163.7,336.2 164.2,334.03 164.662,331.36 164.7,331.13 165.2,327.98 165.7,324.6 166.186,321.14 166.2,321.03 166.7,317.3 167.2,321.03 167.592,323.85 167.7,324.6 168.2,327.98 168.7,331.13 169.2,334.03 169.525,334.64 169.7,335.41 170.2,335.88 170.7,335.31 171.2,329.77 171.51,325.86 171.7,323.32 172.2,316.2 172.7,308.53 172.965,304.26 173.2,300.38 173.3,298.7 173.7,305.32 174.2,313.19 174.215,313.42 174.7,320.55 175.2,327.28 175.233,327.7 175.7,333.22 176.2,335.82 176.7,333.45 176.947,331.91 177.2,333.49 177.7,336.04 178.2,335.82 178.7,335.78 178.895,335.11 179.2,335.83 179.7,335.73 180.045,334.2 180.2,335.39 180.7,335.08 181.2,335.05 181.7,335.11 181.876,333.86 182.2,333.5 182.7,329.89 182.75,329.51 183.2,326.71 183.624,322.72 183.7,321.98 183.9,320 184.2,322.96 184.7,327.61 185.2,331.87 185.613,333.79 185.7,334.28 186.2,335.52 186.7,335.32 186.701,335.32 187.2,335.38 187.581,332.48 187.7,333.68 188.2,335.38 188.7,335.22 189.2,335.24 189.348,335.17 189.7,335.57 190.2,335.99 190.7,334.11 191.2,330.5 191.247,330.15 191.7,333.47 192.2,335.85 192.7,333.98 193.017,332.04 193.2,333.18 193.7,334.18 194.2,330.96 194.7,327.42 194.915,325.82 195.1,324.4 195.2,325.17 195.7,328.87 196.2,332.29 196.484,332.74 196.7,333.94 197.2,333.28 197.7,329.5 197.906,327.83 198.2,325.35 198.6,321.8 198.7,322.7 199.2,327.05 199.562,329.99 199.7,331.05 200.2,318.29 200.7,303.31 201.2,286.7 201.349,281.48 201.7,268.77 202.1,253.6 202.2,257.45 202.7,276.08 202.883,282.61 203,286.7 203.2,293.52 203.7,309.52 204.2,323.71 204.637,327.95 204.7,328.23 205.2,330.36 205.7,332.38 206.2,334.27 206.329,334.73 206.7,336 207.2,335.86 207.7,333.47 208.148,329.76 208.2,330.2 208.7,334.26 209.2,333.42 209.611,331.39 209.7,330.93 210.1,328.8 210.2,329.34 210.7,331.95 211.05,333.66 211.2,334.36 211.7,334.29 212.2,322.48 212.7,308.16 212.852,303.44 213.2,292.09 213.7,274.62 214.2,255.98 214.295,252.32 214.5,244.3 214.7,252.13 215.2,270.98 215.561,283.9 215.7,288.7 216.2,305.07 216.405,311.33 216.7,319.78 217.2,332.2 217.7,335.88 217.892,335.64 218.2,336.02 218.7,335.86 218.862,335.33 219.2,334.71 219.7,332.55 220.2,330.21 220.598,328.25 220.7,327.73 221.2,325.12 221.5,323.5 221.7,322.15 221.801,320.55 222.2,313.95 222.681,305.42 222.7,305.07 223.2,295.62 223.4,291.7 223.7,297.55 224.2,306.89 224.438,311.14 224.7,315.64 225.2,323.7 225.695,330.81 225.7,330.87 226.2,336.3 226.7,336.11 226.899,335.59 227.2,335.81 227.7,335.67 228.2,332.85 228.325,332.07 228.7,334.32 229.2,334.5 229.517,333.01 229.7,333.88 230.2,334.22 230.7,331.74 231.2,329.06 231.205,329.03 231.3,328.5 231.7,330.69 232.2,333.25 232.538,333.17 232.7,334.26 233.2,335.93 233.7,334.01 233.953,330.8 234.2,333.93 234.7,337.14 235.2,336.49 235.6,334.73 235.7,335.19 236.2,334.9 236.7,333.89 237.093,330.54 237.2,331.48 237.7,329.5 238.2,326.2 238.7,329.5 238.791,330.07 239.2,332.56 239.7,334.88 239.719,334.81 240.2,335.59 240.7,333.02 241.2,330.17 241.47,328.54 241.7,327.1 242.2,329.71 242.282,329.04 242.7,332.35 243.2,334.91 243.7,332.5 243.85,331.5 244.2,333.77 244.7,330.88 245.2,326.77 245.7,322.33 245.748,321.88 245.8,321.4 246.2,325.03 246.7,329.28 247.2,333.14 247.424,329.13 247.7,322.92 248.2,310.22 248.7,296.04 249.081,284.44 249.2,280.69 249.3,277.5 249.7,290.03 250,298.98 250.03,299.85 250.2,304.7 250.7,312.54 251.2,318.1 251.265,318.8 251.7,323.34 252.2,328.2 252.585,331.59 252.7,332.61 253.2,335.16 253.7,332.35 253.801,331.74 254.2,334.06 254.7,331.32 254.87,328.93 255.2,330.17 255.7,326.74 255.9,325.3 256.2,327.44 256.7,330.82 256.75,331.14 257.2,333.91 257.7,334.66 258.2,332.68 258.329,331.95 258.7,333.99 259.2,332.14 259.3,330.8 259.7,335.3 260.2,334.7 260.7,331.06 260.83,330.05 261.2,332.87 261.7,334.6 262.2,331.91 262.441,330.52 262.7,328.97 263,327.1 263.2,328.35 263.7,331.34 264.15,330.54 264.2,331.03 264.7,335.01 265.2,330.96 265.249,330.5 265.7,334.32 266.169,331.5 266.2,331.69 266.7,334.67 267.2,333.94 267.469,332.56 267.7,331.32 268.2,328.49 268.3,327.9 268.673,329.92 268.7,330.21 269.2,332.92 269.7,335.38 270.074,334.88 270.2,335.4 270.7,334.95 271.2,334.7 271.409,334.7 271.7,334.8 272.2,335.08 272.33,334.77 272.7,335.23 273.2,335.19 273.7,335.19 274.006,335.31 274.2,335.44 274.7,335.83 274.993,334.34 275.2,335.84 275.7,332.97 276.2,329 276.38,327.47 276.7,324.63 277.1,320.9 277.186,321.72 277.2,321.85 277.7,326.42 278.2,326.91 278.7,320.38 278.75,319.69 279.2,313.28 279.4,310.3 279.7,314.74 279.712,314.91 280.2,321.73 280.7,328.13 281.2,333.23 281.508,330.72 281.7,332.3 282.2,335.59 282.7,335.76 283.2,335.86 283.449,334.72 283.7,335.66 284.2,335.21 284.7,329.69 284.744,329.08 285.2,334.78 285.7,331.82 286.2,326.64 286.282,325.73 286.7,320.89 287.2,314.7 287.698,320.87 287.7,320.89 288.2,326.64 288.7,331.82 289.2,335.87 289.428,334.91 289.7,335.71 290.2,335.42 290.519,333.74 290.7,334.73 291.2,335.39 291.7,335.29 292.125,332.03 292.2,332.73 292.7,334.68 293.2,334.7 293.452,333.98 293.7,335.05 294.2,334.15 294.421,332.87 294.7,334.47 295.2,335.41 295.668,331.72 295.7,331.42 296.2,326.48 296.7,321.04 297.1,316.4 297.2,317.58 297.414,320.07 297.7,323.27 298.2,328.52 298.7,333.23 299.2,331.85 299.28,330.76 299.7,324.56 300.2,316.3 300.607,309.01 300.7,307.28 301.2,297.62 301.6,289.5 301.7,291.56 302.076,299.13 302.2,301.55 302.7,310.97 303.2,319.7 303.424,323.36 303.7,327.61 304.2,334.4 304.7,335.49 305.138,332.46 305.2,332.91 305.7,335.18 306.2,334.49 306.7,330.3 306.829,329.13 307.2,332.41 307.7,335.22 308.2,333.1 308.468,331.24 308.7,329.55 309.2,325.67 309.5,323.2 309.624,324.23 309.7,324.85 310.2,328.8 310.555,331.41 310.7,332.42 311.2,334.65 311.377,333.77 311.7,335.3 312.2,334.58 312.503,333.08 312.7,334.07 313.2,335.1 313.7,334.63 313.701,334.63 314.2,334.89 314.7,334.83 315.2,335.08 315.534,334.51 315.7,335.29 316.2,335.88 316.7,334.41 316.711,334.36 317.2,335.59 317.7,333.02 318.2,330.17 318.542,328.09 318.7,327.1 319.2,330.17 319.7,333.02 320.076,334.72 320.2,334.67 320.7,334.72 321.2,334.89 321.7,331.97 321.854,331.01 322.2,333.13 322.7,335.23 322.984,334.09 323.2,334.97 323.7,335.76 324.2,335.86 324.371,335.15 324.7,334.48 325.2,333.02 325.7,331.46 326.009,330.47 326.2,329.83 326.7,325.22 327.2,313.24 327.5,305.32 327.7,299.79 327.855,295.37 328.2,285.17 328.7,269.58 328.935,261.94 329,259.8 329.2,266.35 329.7,282.13 330.2,296.95 330.6,308.02 330.7,310.66 331.2,322.97 331.7,333.36 332.2,334.78 332.258,334.53 332.7,335.95 333.2,333.32 333.7,330.17 334.2,326.74 334.247,326.4 334.4,325.3 334.7,327.44 335.2,330.82 335.7,333.91 335.703,333.93 336.2,335.51 336.7,335.58 337.2,333.31 337.376,332.3 337.7,331.86 338.2,328.24 338.7,324.32 338.741,323.98 338.8,323.5 339.2,326.7 339.7,330.46 340.2,333.87 340.61,334.93 340.7,335.29 341.2,335.39 341.7,335.13 342.2,335.08 342.593,334.64 342.7,335.08 343.2,335.77 343.7,333.81 343.713,333.73 344.2,335.98 344.694,334.46 344.7,334.5 345.2,334.29 345.631,330.72 345.7,331.31 346.2,333.55 346.492,331.62 346.7,333.01 347.2,335.07 347.7,332.58 347.725,332.45 348.2,334.82 348.7,335.41 349.2,335.49 349.339,335.39 349.7,335.42 350.2,335.41 350.7,334 351.178,330.83 351.2,330.68 351.7,327.02 352.1,323.9 352.2,324.7 352.305,325.52 352.7,328.52 353.192,331.91 353.2,331.96 353.7,334.85 354.2,332.5 354.509,329.95 354.7,331.55 355.2,335.23 355.7,335.03 356.146,329.45 356.2,330.24 356.7,334.58 357.2,330.15 357.266,329.52 357.7,333.47 358.2,335.58 358.623,329.51 358.7,330.7 359.2,336.09 359.7,335.45 359.715,335.39 360.2,336.07 360.557,335.51 360.7,335.66 361.2,335.31 361.7,335.23 362.06,332.58 362.2,333.99 362.7,335.45 363.086,333.06 363.2,333.92 363.7,335.28 364.2,335.43 364.653,335.63 364.7,335.83 365.2,336.19 365.7,336.25 366.2,335.73 366.54,333.96 366.7,334.81 367.2,335.78 367.7,335.05 367.725,334.9 368.2,333.71 368.7,329.37 369.2,324.53 369.524,321.18 369.7,319.29 369.8,318.2 370.2,322.48 370.496,325.49 370.7,327.49 371.2,332.04 371.557,334.94 371.7,335.75 372.2,335.65 372.425,334.72 372.7,335.85 373.2,335.81 373.308,335.13 373.7,336.24 374.2,335.91 374.51,335.05 374.7,335.51 375.2,335.32 375.7,335.3 375.772,334.8 376.2,335.46 376.7,333.66 376.756,333.38 377.2,335.21 377.7,335.24 378.084,335.35 378.2,335.57 378.7,335.99 379.2,335.03 379.617,331.92 379.7,332.57 380.2,335.91 380.7,332.62 380.934,330.74 381.2,329.67 381.7,321.47 382.136,313.49 382.2,312.26 382.7,302.26 383.2,291.59 383.438,286.3 383.5,284.9 383.7,289.38 384.2,300.18 384.325,302.78 384.7,310.32 385.2,319.7 385.325,321.91 385.7,328.12 386.2,335.23 386.572,335.39 386.7,335.71 387.2,332.55 387.494,330.5 387.7,328.99 388.2,325.12 388.4,323.5 388.7,325.92 389.123,329.16 389.2,329.73 389.7,333.21 390.2,335.44 390.7,335.22 391.038,333.96 391.2,335.12 391.7,335.33 392.2,333.86 392.531,330.79 392.7,332.4 393.2,336.09 393.431,335.4 393.7,335.95 394.2,335.89 394.7,334.08 394.998,332.04 395.2,333.45 395.7,335.85 396.2,335.44 396.298,335.36 396.7,335.12 397.2,333.93 397.7,331.65 397.882,330.77 398.1,329.7 398.2,330.2 398.7,332.58 399.113,333.38 399.2,333.85 399.7,335.66 400.2,336 400.623,335.66 400.7,336.02 401.2,334.13 401.556,331.58 401.7,332.64 402.2,335.64 402.7,335.55 403.2,335.6 403.418,335.6 403.7,335.54 404.2,335.3 404.7,335.08 405.2,335.14 405.269,334.89 405.7,335.5 406.2,335.88 406.7,334.4 406.752,334.14 407.2,335.94 407.7,335.88 408.2,334.91 408.685,327.94 408.7,327.7 409.2,319.2 409.7,309.75 410.169,300.19 410.2,299.54 410.5,293.1 410.7,297.42 411.2,307.77 411.35,310.73 411.7,309.78 411.8,308.5 412.2,313.52 412.202,313.55 412.7,319.5 413.2,325.07 413.294,326.07 413.7,330.18 414.2,334.69 414.7,332.71 415.063,330.33 415.2,329.5 415.7,326.02 415.8,325.3 416.2,328.14 416.407,329.55 416.7,331.46 417.2,334.48 417.7,336.82 418.2,337.53 418.6,336.54 418.7,336.8 419.2,336.81 419.7,337.04 419.879,336.88 420.2,337.19 420.7,337.18 421.056,336.29 421.2,335.83 421.7,334.1 422.2,335.83 422.212,335.86 422.7,337.37 423.2,337.22 423.435,336.99 423.7,336.96 424.2,337.03 424.7,337.69 425.2,338.52 425.7,339.3 426.7,339.3 427.2,338.28 427.7,334.08 428.2,328.79 428.7,322.76 429.2,316.18 429.5,312 429.7,314.8 430.2,321.49 430.7,327.63 431.2,333.09 431.7,337.57 432.2,337.81 432.6,337.12 432.7,337.3 433.2,337.31 433.7,337.46 434.029,337.32 434.2,337.48 434.7,337.46 435.2,337.51 435.443,337.11 435.7,337.64 436.2,337.63 436.498,337.12 436.7,337.47 437.2,338.27 437.7,338.95 438.2,339.3 442.2,339.3 442.7,338.69 443.2,337.32 443.6,336.02 443.7,336.36 444.2,336.88 444.7,336.8 445.2,336.54 445.203,336.54 445.7,336.28 446.2,336.23 446.7,336.13 446.703,336.12 447.2,336.6 447.7,336.68 448.153,336.67 448.2,336.86 448.7,337.62 449.2,338.51 449.7,338.66 450.2,337.82 450.6,337.05 450.7,337.25 451.2,337.02 451.7,336.47 452.2,334.81 452.4,334.1 452.48,334.39 452.7,335.15 453.2,336.78 453.7,336.73 454.096,336.44 454.2,336.68 454.7,337.75 455.2,338.61 455.7,339.3 487.2,339.3 487.7,338.9 488.2,338.27 488.6,337.4 488.7,337.63 489.2,337.65 489.7,336.7 489.872,336.23 490.2,335.3 490.3,335 490.7,336.15 490.732,336.24 491.2,337.46 491.7,338.45 492.2,338.84 492.7,339.3 507.2,339.3 507.7,339.19 508.2,338.64 508.7,337.94 509.2,337.14 509.4,336.8 509.7,337.31 510.2,338.09 510.7,338.76 511.2,339.26 511.7,339.3 549.2,339.3 549.7,338.94 550.2,338.41 550.7,338.04 551.2,337.87 551.491,337.77 551.7,337.84 552.2,337.81 552.7,337.86 553.2,337.97 553.533,337.53 553.7,337.75 554.2,338.16 554.7,337.96 554.814,337.78 555.2,338.13 555.7,338.46 556.2,338.88 556.7,339.3 585.2,339.3 585.7,338.77 586.2,337.95 586.6,337.17 586.7,337.38 587.2,337.36 587.7,337.34 588.2,337.42 588.396,337.15 588.7,337.6 589.2,337.75 589.63,337.37 589.7,337.58 590.2,337.57 590.7,337.34 590.702,337.34 591.2,337.36 591.7,337.39 591.938,337.39 592.2,337.36 592.7,337.23 593.2,337.12 593.7,337.15 593.863,336.84 594.2,335.44 594.3,335 594.7,336.7 595.2,337.61 595.501,337.42 595.7,337.56 596.2,337.53 596.7,336.85 596.808,336.48 597,335.8 597.2,336.51 597.7,337.63 597.923,337.32 598.2,337.44 598.7,337.23 599.063,336.82 599.2,337.3 599.7,337.96 600.2,338.66 600.7,339.3 614.2,339.3 614.6,339.3Z" fill="#03820a" stroke="#03820a" stroke-width="0.6" stroke-linejoin="round"/>
<line x1="41.2" y1="339.60" x2="614.6" y2="339.60" stroke="#3a3a3a" stroke-width="1"/>
<path d="M41.2,448.1 41.2,447.61 41.7,446.94 42.1,446.16 42.2,446.43 42.7,446.5 43.188,446.1 43.2,446.13 43.7,445.46 44.2,444.7 44.413,444.38 44.7,443.95 45.2,443.27 45.7,442.78 46.141,442.54 46.2,442.52 46.7,442.55 47.2,442.86 47.587,443.26 47.7,443.4 48.2,444.09 48.7,444.86 48.771,444.97 49.2,445.61 49.7,445.86 50.2,445.59 50.271,445.56 50.7,445.37 51.2,445.2 51.7,445.11 52.001,445.1 52.2,445.11 52.7,445.18 52.982,445.26 53.2,445.33 53.7,445.54 54.2,445.81 54.42,445.93 54.7,446.08 55.2,446.02 55.308,445.77 55.7,446.17 56.2,446.38 56.617,445.74 56.7,445.95 57.2,446.53 57.7,446.33 57.905,445.86 58.2,446.53 58.7,447.44 59.2,447.93 59.7,447.99 60.2,448.03 60.7,448.06 61.2,448.07 61.7,447.7 62.2,447.18 62.6,446.45 62.7,446.65 63.2,446.57 63.689,446.19 63.7,446.21 64.2,446.76 64.7,446.67 64.918,446.12 65.2,446.83 65.7,446.69 65.911,446.42 66.2,446.56 66.7,446.52 67.195,446.16 67.2,446.17 67.7,446.53 68.117,446.46 68.2,446.44 68.7,446.36 69.2,446.41 69.7,446.47 69.781,446.3 70.2,446.72 70.7,446.77 71.2,446.64 71.397,446.27 71.7,446.69 72.2,446.38 72.226,446.32 72.7,446.7 73.2,445.63 73.697,444.22 73.7,444.21 74.2,442.6 74.7,441.16 75.179,440.28 75.2,440.26 75.7,440.17 76.048,440.62 76.2,440.93 76.7,442.29 77.2,443.89 77.7,445.37 78.2,446.52 78.7,447.28 79.2,447.72 79.7,447.94 80.2,448.04 80.7,448.08 81.2,448.09 81.7,447.57 82.2,446.7 82.5,446.1 82.7,446.51 83.2,447.41 83.7,448.07 84.2,448.1 85.7,448.1 86.2,447.68 86.7,447.07 87,446.55 87.2,446.81 87.7,446.5 88.2,446.4 88.52,446.4 88.7,446.42 89.2,446.49 89.436,446.45 89.7,446.52 90.2,446.48 90.7,446.48 91.2,446.59 91.307,446.6 91.7,446.75 92.2,447.16 92.7,447.51 93.2,448.1 102.2,448.1 102.7,447.2 103.2,446.01 103.4,445.44 103.7,445.92 104.2,445.76 104.7,445.85 104.962,445.53 105.2,446.08 105.7,446.23 105.834,445.88 106.2,446.32 106.7,446.21 107.2,446.09 107.7,445.92 107.756,445.77 108.2,446.12 108.7,446.05 109.2,445.85 109.7,445.66 109.701,445.66 110.2,445.64 110.7,445.8 111.008,445.62 111.2,445.98 111.7,446.05 112.2,445.95 112.365,445.36 112.7,446.05 113.2,445.88 113.263,445.77 113.7,446.54 114.2,446.59 114.7,445.25 114.9,444.66 115.2,445.51 115.7,445.2 115.916,444.64 116.2,445.29 116.7,445.33 116.893,445.02 117.2,445.25 117.7,445.13 118.2,444.79 118.215,444.71 118.7,445.39 119.2,445.69 119.656,445.15 119.7,445.28 120.2,445.77 120.7,445.64 121.2,445.63 121.568,445.15 121.7,445.55 122.2,445.67 122.7,445.45 123.2,445.16 123.315,445.11 123.7,445.02 124.2,445.13 124.7,445.33 125.034,444.63 125.2,445.07 125.7,445.43 126.2,445.11 126.359,444.69 126.7,445.58 127.2,445.83 127.7,445.57 127.796,445.37 128.2,446.2 128.7,445.25 129.1,443.73 129.2,444.12 129.7,444.29 130.2,440.46 130.231,440.17 130.7,442.75 131.2,439.68 131.26,439.29 131.7,436.33 132,434.2 132.2,435.63 132.7,439.03 132.957,440.68 133.2,442.16 133.7,444.86 134.2,444.47 134.7,441.79 134.924,440.49 135.2,442.08 135.7,442.35 136.2,440.05 136.5,438.6 136.571,438.95 136.7,439.58 137.2,441.9 137.7,443.93 138.2,444.15 138.407,443.58 138.7,444.33 139.2,444.31 139.7,442.69 139.764,442.39 140.2,444.33 140.7,444.63 141.197,440.68 141.2,440.65 141.7,436.09 142.2,431.08 142.7,425.7 142.763,425 143.2,420 143.7,425.7 143.835,427.18 144.2,431.08 144.7,436.09 144.829,437.32 145.2,440.65 145.671,443.91 145.7,443.93 146.2,444.28 146.7,444.65 147.2,441.44 147.431,439.54 147.7,441.74 148.2,440.06 148.235,439.85 148.7,436.91 149.2,433.54 149.6,430.7 149.642,431 149.7,431.42 150.2,434.91 150.7,438.2 151.2,441.25 151.471,440.18 151.7,441.63 152.2,444.25 152.7,442.79 152.801,442.3 153.2,444.16 153.7,443.94 153.927,442.97 154.2,444.12 154.7,439.73 154.859,438.16 155.2,434.6 155.7,428.96 155.8,427.78 156.2,422.91 156.7,416.5 157.2,422.91 157.7,428.96 157.726,429.26 158.2,434.6 158.574,438.49 158.7,438.64 159.2,435.91 159.5,434.2 159.7,435.35 160.103,437.58 160.2,438.1 160.7,440.7 161.2,440.66 161.356,438.85 161.7,442.71 162.2,443.86 162.7,441 162.836,440.17 163.2,442.34 163.7,443.69 164.2,440.78 164.484,438.98 164.7,437.56 165.2,434.11 165.666,430.7 165.7,430.44 166.2,426.59 166.4,425 166.691,427.3 166.7,427.37 167.2,431.19 167.7,434.82 167.716,434.93 168.2,438.23 168.7,441.38 169.2,444.22 169.525,443.32 169.7,441.72 170.2,435.49 170.7,428.42 170.801,426.91 171.2,420.71 171.7,412.45 171.975,407.7 172.1,405.5 172.2,407.26 172.7,415.81 173.2,423.86 173.7,431.34 173.823,433.07 174.2,438.1 174.7,441.26 175.2,438.53 175.5,436.8 175.7,437.96 175.762,438.31 176.2,440.73 176.7,443.27 177.2,444.97 177.612,444.22 177.7,444.59 178.2,444.25 178.696,443.11 178.7,443.09 179.2,440.23 179.7,437.09 179.803,436.42 180,435.1 180.2,436.44 180.7,439.62 181.115,440.8 181.2,441.32 181.7,444.21 181.953,444.4 182.2,443.01 182.7,439.81 182.764,439.38 183.2,436.3 183.6,433.3 183.7,434.06 184.122,437.18 184.2,437.74 184.7,441.14 185.2,444.18 185.7,444.3 186.005,441.78 186.2,443.56 186.7,443.75 187.2,441.26 187.579,439.05 187.7,438.53 188,436.8 188.2,437.96 188.7,440.73 189.2,443.27 189.536,444.47 189.7,444.74 190.2,445.05 190.7,441.03 190.984,438.26 191.2,440.39 191.7,443.72 191.839,443.09 192.2,444.28 192.7,444.31 192.815,443.86 193.2,444.33 193.7,443.01 194.2,439.81 194.25,439.48 194.7,436.3 195.1,433.3 195.2,434.06 195.413,435.66 195.7,437.74 196.2,441.14 196.7,440.88 197.154,436.78 197.2,436.34 197.7,431.36 198.1,427.1 198.2,428.19 198.557,431.95 198.7,432.5 199.2,427.68 199.7,422.59 200.2,417.25 200.493,414.01 200.7,409.47 200.9,404.44 201.2,396.64 201.7,383.01 201.8,380.2 201.986,385.41 202.2,391.27 202.7,404.44 203.2,416.74 203.7,428 203.81,430.32 204.2,437.94 204.7,444.98 204.999,444.12 205.2,444.64 205.7,443.32 206.166,439.91 206.2,440.17 206.7,438.59 207.2,434.8 207.5,432.4 207.51,432.48 207.7,434.01 208.2,437.86 208.7,441.39 209.02,439.14 209.2,440.75 209.7,438.75 210.2,432.73 210.441,429.61 210.7,426.11 211.2,418.98 211.7,411.43 212.113,404.9 212.2,403.49 212.7,395.22 213,390.1 213.054,389.45 213.2,383.69 213.6,367.3 213.7,371.48 214.2,391.55 214.7,410.08 214.702,410.15 215.2,424.72 215.7,431.45 216.014,435.39 216.2,437.6 216.7,442.4 216.824,441.62 217.2,439.14 217.7,435.57 218,433.3 218.149,434.44 218.2,434.82 218.7,438.44 219.2,431.82 219.7,422.7 220.016,416.49 220.2,412.73 220.7,402.07 220.817,399.49 221.1,393.1 221.2,395.38 221.7,406.41 222.157,415.94 222.2,416.81 222.7,426.46 223.2,435.19 223.208,435.32 223.7,442.33 224.2,440.82 224.244,440.27 224.7,444.09 225.2,441.8 225.7,439.29 226,437.7 226.2,438.77 226.7,441.31 227.2,443.66 227.684,444.05 227.7,444.05 228.2,444.14 228.7,441.77 229.2,439.09 229.269,438.71 229.6,436.8 229.7,437.38 230.2,440.19 230.7,442.29 231.142,438.65 231.2,439.14 231.7,443.17 232.2,444.91 232.679,443.72 232.7,443.81 233.2,443.06 233.7,439.56 234.2,435.68 234.7,431.5 235.2,435.68 235.6,438.61 235.7,439.46 236.2,441.44 236.584,438.01 236.7,439.08 237.2,443.34 237.7,442.53 237.781,441.72 238.2,444.19 238.7,442.93 238.709,442.87 239.2,444.7 239.7,442.25 240.045,439.97 240.2,441.01 240.7,444.12 241.2,443.83 241.7,440.49 241.721,440.3 242.2,443.92 242.7,443.67 243.2,440.7 243.259,440.33 243.7,437.75 244.2,433.06 244.491,430.16 244.7,428 245.2,433.06 245.7,437.75 246.052,436.41 246.2,434.12 246.7,425.74 247.014,420.06 247.2,416.56 247.7,406.71 248.2,390.56 248.287,385.4 248.7,359.63 248.8,353.1 249.092,371.87 249.2,378.56 249.7,402.6 250.2,412.7 250.7,422.16 250.895,425.66 251.2,430.88 251.5,428.9 251.7,430.87 252.2,435.57 252.7,439.89 252.784,440.17 253.2,443.6 253.7,440.48 253.973,438.63 254.2,437.03 254.7,433.3 255.2,437.03 255.7,440.33 255.724,440.09 256.2,443.6 256.7,441.67 256.747,441.38 257.2,443.52 257.603,442.01 257.7,442.76 258.2,444.05 258.7,443.29 258.752,442.99 259.2,444.59 259.7,444.47 260.131,442.91 260.2,443.19 260.7,444.47 261.2,444.6 261.489,443.92 261.7,444.48 262.2,443.29 262.7,440.53 262.723,440.4 263.2,437.51 263.5,435.6 263.606,436.28 263.7,436.88 264.2,439.94 264.598,442.21 264.7,442.76 265.2,443.92 265.7,444.01 266.2,441.77 266.422,439.14 266.7,442.41 267.2,444.84 267.7,442.96 267.997,440.93 268.2,442.34 268.7,444.06 269.2,444.09 269.7,442.77 269.928,441.19 270.2,443.07 270.7,443.54 271.2,439.47 271.331,438.01 271.7,442.01 272.2,444.23 272.501,444.1 272.7,444.47 273.2,444.43 273.606,443.99 273.7,444.29 274.2,443 274.7,439.53 274.738,439.25 275.2,442.5 275.7,444.35 276.2,442.81 276.584,440.03 276.7,439.14 277.2,435.08 277.7,430.7 277.943,432.87 278.2,435.08 278.7,439.14 279.2,440.93 279.278,440.19 279.7,435.95 280.164,430.85 280.2,430.44 280.7,424.5 281.009,428.22 281.2,430.44 281.7,435.95 282.2,440.93 282.587,439.38 282.7,440.42 283.2,444.22 283.688,443.5 283.7,443.54 284.2,443.65 284.7,443.43 285.2,443.58 285.592,440.77 285.7,442.02 286.2,444.3 286.7,441.61 286.742,441.21 287.2,436.57 287.554,432.64 287.7,430.95 288.2,424.87 288.3,423.6 288.7,428.57 288.989,431.99 289.2,434.38 289.7,439.67 290.123,441.8 290.2,441.98 290.7,439 291.075,436.6 291.2,435.77 291.3,435.1 291.7,437.74 292.2,440.82 292.689,437.45 292.7,437.57 293.2,442.84 293.7,444.29 294.2,440.87 294.497,438.49 294.7,440.14 295.2,443.84 295.7,444.31 296.2,444.3 296.347,444.04 296.7,444.36 297.2,438.92 297.7,432.55 298.122,426.64 298.2,425.5 298.7,417.9 299.2,425.5 299.239,426.08 299.7,432.55 300.2,432.98 300.7,424.12 300.856,421.18 301.2,414.42 301.7,404.03 301.9,399.7 302.2,406.16 302.552,413.46 302.7,416.42 303.2,419.75 303.5,416.5 303.7,418.67 304.15,423.43 304.2,423.94 304.7,428.96 305.2,433.69 305.7,438.08 305.712,438.18 306.2,442.06 306.7,443.65 307.2,440.21 307.32,439.25 307.7,442.22 308.2,444.69 308.451,444.13 308.7,444.59 309.2,442.85 309.504,440.04 309.7,439.49 310.2,435.29 310.7,430.75 310.8,429.8 311.127,432.85 311.2,433.51 311.7,437.86 311.98,438.01 312.2,441.11 312.7,443.62 313.2,443.93 313.573,443.92 313.7,444.1 314.2,444.07 314.684,442.46 314.7,442.59 315.2,444.32 315.7,444.68 316.2,444.85 316.596,443.81 316.7,444.16 317.2,444.23 317.7,443.38 318.013,441.15 318.2,439.72 318.7,435.64 319.2,431.22 319.3,430.3 319.589,432.93 319.7,433.91 320.2,438.14 320.7,438.82 320.72,438.65 321.2,442.47 321.7,443.76 321.991,442.15 322.2,443.31 322.7,444.42 323.177,444.06 323.2,444.19 323.7,444.52 324.2,442.61 324.425,441.33 324.7,442.89 325.2,443.91 325.304,443.81 325.7,443.56 326.2,443.56 326.7,442.82 326.718,442.58 327.2,435.49 327.648,427.9 327.7,426.97 328.2,417.55 328.7,407.4 328.799,405.31 329.2,396.62 329.3,394.4 329.7,403.16 330.2,408.62 330.5,404.1 330.6,405.62 330.7,407.13 331.2,414.46 331.7,421.45 332.2,428.03 332.264,428.84 332.7,434.15 333.2,438.4 333.7,433.29 333.898,431.14 334.2,427.73 334.4,425.4 334.7,428.88 335.2,434.35 335.535,437.76 335.7,439.36 336.2,443.76 336.7,444.98 337.137,444.5 337.2,444.69 337.7,445.25 338.2,443.6 338.7,440.48 338.86,439.41 339.2,437.03 339.7,433.3 340.2,437.03 340.491,439.07 340.7,440.48 341.2,443.6 341.665,444.52 341.7,444.52 342.2,444.59 342.7,444.69 343.2,440.84 343.282,440.15 343.7,443.5 344.2,445.19 344.7,444.94 345.2,439.78 345.207,439.7 345.7,444.87 346.2,444.83 346.7,444.6 347.086,443.05 347.2,443.89 347.7,444.22 348.2,444.44 348.7,444.78 348.836,444.2 349.2,444.97 349.7,444.95 350.2,444.92 350.7,443.32 350.775,442.89 351.2,440.32 351.7,437.02 351.856,435.94 352.1,434.2 352.2,434.92 352.7,438.37 352.748,438.69 353.2,441.56 353.619,442.51 353.7,442.98 354.2,444.58 354.7,444.58 355.2,443 355.296,442.23 355.7,444.44 356.2,444.67 356.7,445.06 357.2,443.1 357.228,442.91 357.7,445.26 358.2,445.05 358.677,444.77 358.7,444.85 359.2,444.96 359.7,444.22 359.899,442.74 360.2,444.78 360.7,444.44 361.033,444.12 361.2,444.22 361.7,444.3 361.904,444.41 362.2,444.59 362.7,444.83 363.002,444.77 363.2,444.86 363.7,444.83 364.2,444.73 364.408,444.08 364.7,444.99 365.2,445.04 365.679,442.03 365.7,442.17 366.2,444.9 366.7,444.59 367.119,443.86 367.2,444.16 367.7,443.96 368.2,440.81 368.427,438.45 368.7,435.3 369.2,429.06 369.7,422.31 369.8,420.9 369.806,420.98 370.2,426.42 370.7,432.87 371.2,438.74 371.673,443.6 371.7,443.85 372.2,444.98 372.7,445.02 373.135,444.8 373.2,445.01 373.7,444.98 374.146,444 374.2,444.24 374.7,444.31 375.2,444.25 375.7,443.18 375.919,441.67 376.2,443.59 376.7,441.57 376.788,440.67 377.2,444.65 377.7,444.79 377.93,444.4 378.2,445.05 378.7,445.33 379.2,443.44 379.7,440.18 379.836,439.23 380.2,441.72 380.7,444.62 381.2,441.41 381.615,436.73 381.7,435.71 382.2,429.31 382.7,422.36 382.917,419.2 383.2,414.95 383.5,410.3 383.7,413.41 384.2,420.92 384.513,425.39 384.7,427.97 385.2,434.48 385.7,440.33 385.723,440.58 386.2,445.04 386.7,443.33 387.166,439.43 387.2,439.13 387.7,434.4 388.2,429.26 388.368,427.45 388.4,427.1 388.7,430.32 389.2,435.38 389.7,440.01 390.2,441.56 390.308,440.97 390.7,443.07 391.2,444.64 391.7,444.49 392.073,442.23 392.2,443.02 392.7,445.39 393.2,444.02 393.291,443.7 393.7,444.96 394.2,444.75 394.7,444.74 395.02,443.69 395.2,444.34 395.7,444.63 396.2,444.37 396.379,444.29 396.7,444.23 397.2,444.4 397.516,444.62 397.7,444.76 398.2,444.87 398.349,444.25 398.7,445.07 399.2,444.99 399.7,445.01 400.2,444.31 400.229,444.18 400.7,445.26 401.2,445.08 401.7,444.7 402.2,444.4 402.214,444.39 402.7,443.5 403.048,440.36 403.2,441.77 403.7,444.62 404.2,444.57 404.68,443.17 404.7,443.31 405.2,444.67 405.7,445.02 406.2,444.98 406.642,441.51 406.7,440.81 407.2,434.17 407.7,426.68 408.2,418.52 408.282,417.13 408.7,409.8 408.8,408 409.2,415.1 409.7,423.49 409.774,424.68 410.2,431.26 410.7,438.27 411.2,444.05 411.338,443.22 411.7,440.9 412.2,437.39 412.7,433.59 412.8,432.8 413.2,435.9 413.221,436.06 413.7,439.54 414.165,442.62 414.2,442.84 414.7,440.29 415.2,436.48 415.7,432.36 415.762,431.83 415.8,431.5 416.2,434.87 416.7,438.81 417.2,442.39 417.38,442.78 417.7,444.3 418.2,446.41 418.6,446.55 418.7,446.69 419.2,446.6 419.451,446.27 419.7,446.65 420.2,446.32 420.274,446.18 420.7,445.29 421.2,443.9 421.7,445.29 422.033,446.14 422.2,446.54 422.7,446.66 423.2,446.54 423.7,446.39 423.974,446.34 424.2,446.33 424.7,446.41 425.109,446.44 425.2,446.55 425.7,446.63 426.2,446.76 426.7,447.15 427.2,447.64 427.7,445.51 428.2,440.65 428.7,434.88 429.2,428.43 429.7,421.45 429.8,420 430.2,425.7 430.7,432.37 431.2,438.44 431.7,443.7 432.2,446.9 432.6,446.21 432.7,446.42 433.2,446.39 433.7,446.54 433.991,446.17 434.2,446.51 434.7,446.44 435.2,446.4 435.676,446.19 435.7,446.23 436.2,446.61 436.7,446.97 437.2,447.47 437.7,448.1 443.7,448.1 444.2,447.48 444.7,446.24 445.2,444.76 445.4,444.11 445.7,443.1 446.2,444.72 446.7,445.04 446.83,444.94 447.2,445.35 447.7,445.44 447.98,444.54 448.2,445.26 448.7,445.28 449.2,445.48 449.7,446.24 450.2,447.01 450.7,448.1 452.7,448.1 453.2,447.79 453.7,446.3 454.2,444.4 454.7,442.23 454.9,441.3 455.2,442.68 455.7,444.8 456.2,446.64 456.7,448 457.2,448.1 458.2,448.1 458.7,447.57 459.2,446.7 459.5,446.1 459.7,446.51 460.2,447.41 460.7,448.07 461.2,448.1 476.2,448.1 476.7,447.64 477.2,446.65 477.6,445.7 477.7,445.95 478.2,447.07 478.7,447.95 479.2,448.1 481.2,448.1 481.7,448.05 482.2,446.96 482.7,445.47 482.9,444.8 483.2,445.79 483.7,447.23 484.2,448.1 490.2,448.1 490.7,447.8 491.2,446.86 491.7,445.7 492.2,446.86 492.7,447.8 493.2,448.1 508.7,448.1 509.2,448 509.7,447.46 510.2,446.75 510.7,447.19 511.2,447.81 511.7,448.1 551.7,448.1 552.2,448 552.7,447.46 553.2,446.75 553.7,447.19 554.2,447.81 554.7,448.1 585.2,448.1 585.7,447.69 586.2,447.21 586.6,446.57 586.7,446.81 587.2,446.72 587.7,446.69 588.2,446.4 588.247,446.28 588.7,446.77 589.2,446.81 589.593,446.26 589.7,446.48 590.2,446.55 590.522,446.45 590.7,446.42 591.2,446.4 591.7,446.47 592.2,446.52 592.358,446.52 592.7,446.49 593.2,446.47 593.7,446.54 593.763,446.36 594.2,444.87 594.3,444.5 594.7,445.92 594.94,446.58 595.2,446.84 595.7,446.74 596.2,446.64 596.598,446.58 596.7,446.62 597.2,445.16 597.5,443.9 597.7,444.75 598.2,446.46 598.299,446.36 598.7,446.35 599.2,446.52 599.7,447.06 600.2,447.62 600.7,448.1 614.2,448.1 614.6,448.1Z" fill="#2c1890" stroke="#2c1890" stroke-width="0.6" stroke-linejoin="round"/>
<line x1="41.2" y1="448.40" x2="614.6" y2="448.40" stroke="#3a3a3a" stroke-width="1"/>
<path d="M41.2,556.9 41.2,556.44 41.7,555.82 42.1,554.97 42.2,555.27 42.7,555.33 43.2,555.33 43.7,555.16 44.099,555 44.2,554.97 44.7,554.88 45.2,554.91 45.7,554.93 45.999,554.73 46.2,554.86 46.7,554.76 47.2,554.78 47.692,554.95 47.7,554.95 48.2,555.17 48.7,555.27 49.2,555.64 49.7,556.09 50.2,556.9 52.2,556.9 52.7,556.57 53.2,555.85 53.7,554.99 53.9,554.61 54.2,555.08 54.7,554.97 55.2,554.98 55.7,555.01 55.765,554.85 56.2,555.28 56.7,555.24 57.04,554.6 57.2,554.91 57.7,555.08 58.2,554.96 58.662,554.53 58.7,554.6 59.2,554.97 59.7,554.91 60.2,554.77 60.269,554.76 60.7,554.72 61.2,554.93 61.386,554.92 61.7,555.14 62.2,554.22 62.7,553.08 63.2,551.77 63.7,550.44 64.2,549.25 64.588,548.55 64.7,548.39 65.2,548.01 65.7,548.18 66.047,548.6 66.2,548.86 66.7,549.93 67.2,551.23 67.583,552.26 67.7,552.57 68.2,553.79 68.7,554.8 69.2,555.47 69.7,554.56 69.8,554.36 70.2,555.03 70.7,554.97 70.9,554.31 71.2,554.83 71.7,554.66 72.2,554.84 72.7,555.45 73.2,554.11 73.7,550.44 74.2,546.18 74.7,541.48 74.9,539.5 75.2,542.45 75.7,547.07 76.2,546.9 76.7,548.93 77.2,550.84 77.6,552.28 77.7,552.63 78.2,554.25 78.7,554.26 79.2,553.95 79.367,553.82 79.7,553.62 80.2,553.51 80.7,553.61 80.932,553.67 81.2,553.72 81.7,553.69 81.822,553.51 82.2,553.61 82.7,553.68 83.2,553.97 83.674,553.06 83.7,553.13 84.2,554.4 84.7,554.25 85.2,553.96 85.245,553.85 85.7,553.96 86.2,554 86.7,553.96 87.059,553.23 87.2,553.69 87.7,553.45 88.2,554.24 88.7,555.35 89.2,556.9 90.2,556.9 90.7,556.65 91.2,556.04 91.7,555.29 91.9,554.97 92.2,555.4 92.7,555.19 93.2,554.94 93.441,554.46 93.7,554.84 94.2,554.85 94.494,554.89 94.7,554.91 95.2,554.89 95.677,554.54 95.7,554.61 96.2,554.8 96.7,554.94 97.2,555.16 97.633,554.44 97.7,554.66 98.2,555.95 98.7,556.48 99.2,556.9 99.7,556.9 100.2,555.56 100.7,550.49 100.8,549.3 101.2,553.62 101.7,553.15 102,552.2 102.109,552.55 102.2,552.84 102.7,553.74 103.2,553.82 103.232,553.72 103.7,553.95 104.2,552.6 104.441,551.61 104.7,552.67 105.2,554.28 105.7,554.45 106.074,553.85 106.2,554.15 106.7,554.04 107.2,553.77 107.492,553.71 107.7,553.71 108.2,553.77 108.596,553.64 108.7,553.76 109.2,553.61 109.7,553.28 109.87,552.68 110.2,553.61 110.7,553.94 111.132,551.68 111.2,552.13 111.7,554.31 112.2,554.2 112.7,553.52 112.872,552.29 113.2,554.15 113.7,554.07 114.16,550.19 114.2,550.56 114.7,553.8 115.2,553.5 115.7,553.13 115.709,553.09 116.2,551.78 116.3,551.4 116.7,552.87 116.957,553.6 117.2,553.87 117.7,553.83 118.2,553.75 118.635,551.88 118.7,552.17 119.2,553.67 119.7,551.13 119.904,550.01 120.2,551.63 120.7,553.93 121.2,553.8 121.376,553.66 121.7,553.83 122.2,553.83 122.281,553.8 122.7,553.67 123.2,553.48 123.7,553.47 124.082,553.08 124.2,553.44 124.7,554.07 125.2,554.15 125.303,553.77 125.7,554.19 126.2,553.91 126.472,552.96 126.7,553.76 127.2,552.66 127.317,552.11 127.7,553.85 128.2,554.01 128.665,552.06 128.7,552.22 129.2,553.48 129.7,553.56 130.2,553.73 130.37,553.77 130.7,553.8 131.2,550.65 131.309,549.86 131.7,552.58 132.2,551.54 132.6,547.01 132.7,548.44 133.2,546.09 133.3,545.5 133.7,547.46 133.916,545.36 134.2,548.1 134.7,551.59 135.2,551.59 135.7,550.84 135.787,550.4 136.2,551.37 136.7,550.92 137.1,549.34 137.2,550.36 137.7,548.15 138.2,545.2 138.7,543.97 138.751,543.43 139,546.02 139.2,547.21 139.669,549.7 139.7,549.85 140.2,551.96 140.517,550.91 140.7,551.8 141.2,552.4 141.7,552.11 142.2,550.76 142.466,547.29 142.7,548.15 143.2,544.18 143.7,539.9 144,542.5 144.2,544.18 144.7,542.8 145.2,535.37 145.7,527.29 145.9,523.9 145.949,524.74 146.2,528.95 146.7,536.91 147.2,544.19 147.485,542.95 147.7,545.52 148.2,549.89 148.435,546.43 148.7,542.19 149.2,533.38 149.7,523.71 150.186,513.65 150.2,513.35 150.3,511.2 150.7,519.65 151.2,529.6 151.497,535.16 151.7,538.78 152.2,546.97 152.7,551.85 153.09,551.22 153.2,551.78 153.7,551.82 154.027,549.53 154.2,550.94 154.7,552.46 155.2,552.38 155.7,549.94 155.787,549.07 156.2,544.69 156.7,538.84 157.064,534.28 157.2,532.52 157.7,525.79 157.9,523 158.091,525.67 158.2,527.17 158.7,533.82 159.2,540.05 159.7,543.86 159.735,543.21 160.2,550.9 160.7,552.43 161.2,552.23 161.565,550.69 161.7,551.39 162.2,551.86 162.525,550.68 162.7,551.95 163.2,551.83 163.418,550.72 163.7,551.44 164.2,549.37 164.44,547.51 164.7,549.53 165.2,550.96 165.7,548.94 165.842,547.92 166.2,546.13 166.7,542.5 166.796,543.21 167.2,546.13 167.626,544.7 167.7,544.06 168.2,539.57 168.7,534.79 168.9,532.8 168.946,533.26 169.2,535.76 169.7,540.49 170.2,544.92 170.49,547.34 170.7,549 171.2,551.36 171.7,551.25 171.922,550.27 172.2,550.95 172.7,544.31 173.2,536.02 173.7,526.87 173.79,525.14 174.2,517.01 174.4,512.9 174.7,519.04 174.926,523.51 175.2,528.76 175.5,527.5 175.7,529.52 175.756,530.08 176.2,534.43 176.7,539.09 176.869,540.61 177.2,543.49 177.7,547.58 177.973,549.65 178.2,550.77 178.7,550.83 179.2,551.21 179.7,548.68 179.769,548.27 180.2,545.59 180.4,544.3 180.7,546.23 180.871,547.29 181.2,549.27 181.7,548.04 181.956,544.84 182.2,547.91 182.7,547.42 182.789,546.57 183.2,550.32 183.7,551.25 184.2,546.85 184.216,546.7 184.7,549.55 185.088,546.1 185.2,547.09 185.7,543.99 185.895,542.72 186.2,540.7 186.7,543.99 186.822,544.76 187.2,547.09 187.7,549.98 188.2,547.7 188.336,546.6 188.7,549.49 189.2,551.94 189.7,550.85 190.2,545.67 190.309,543.72 190.6,546.1 190.7,546.66 191.2,549.34 191.7,549.45 191.956,547.12 192.2,549.35 192.7,551.06 193.2,551.34 193.606,549.39 193.7,550.3 194.2,551.27 194.7,545.73 195.2,539.04 195.31,537.47 195.7,531.7 196.2,523.83 196.3,522.2 196.7,528.61 197.2,536.17 197.235,536.68 197.7,543.14 198,541.9 198.042,542.12 198.2,542.93 198.7,545.43 199.2,547.81 199.582,545.91 199.7,547.37 200.2,550.45 200.662,547.05 200.7,547.3 201.2,541.13 201.7,534.34 202.2,522.75 202.22,522.07 202.7,504.77 203.2,485.21 203.4,477 203.652,487.31 203.7,489.23 204,497.4 204.2,500.91 204.7,509.47 205.2,517.68 205.374,520.45 205.7,525.51 206.2,532.91 206.7,539.82 207.046,544.26 207.2,546.13 207.7,551.15 207.94,550.45 208.2,551.15 208.7,551.55 209.2,550.35 209.7,546.96 209.773,546.18 210.1,545.2 210.2,545.8 210.7,548.71 211.2,551.39 211.526,548.98 211.7,550.74 212.2,551.66 212.7,546.13 212.955,542.99 213.2,539.82 213.7,532.91 214.2,521.78 214.208,521.43 214.7,498.62 215.2,473.08 215.4,462.3 215.7,478.36 215.9,488.67 216.091,498.18 216.2,502.65 216.7,511.14 216.974,515.64 217.2,519.28 217.7,527.03 218.2,534.34 218.54,539.02 218.7,541.13 219.2,547.3 219.7,550.88 220.2,547.25 220.449,543.07 220.7,545.2 221.2,548.15 221.7,540.96 222.124,529.2 222.2,526.94 222.7,511.16 223.2,494 223.4,486.8 223.439,488.22 223.7,497.53 224.2,514.44 224.3,515.1 224.7,520 225.058,524.26 225.2,525.92 225.7,531.58 226.048,535.36 226.2,536.97 226.7,542.04 227.2,546.73 227.7,550.73 227.819,549.84 228.2,551.12 228.7,551.54 229.2,549.8 229.63,545.65 229.7,546.35 230.2,546.99 230.5,545.2 230.7,546.4 230.92,545.85 231.2,548.74 231.7,551.9 232.2,552.01 232.7,551.44 232.765,551.08 233.2,551.22 233.7,550.34 234.108,544.47 234.2,545.85 234.7,552.22 235.2,548.1 235.6,544.42 235.7,543.46 236.2,538.42 236.4,536.3 236.7,539.45 236.752,539.99 237.2,544.42 237.7,548.97 238.2,550.35 238.21,550.3 238.7,547.57 239.1,545.2 239.2,545.8 239.7,548.71 240.16,550.51 240.2,550.76 240.7,551 241.2,548.06 241.682,542.56 241.7,542.76 242.2,548.44 242.579,545.28 242.7,546.69 243.2,551.46 243.7,550.18 244.16,544.38 244.2,544.9 244.7,547.42 245.2,540.84 245.7,533.56 246.002,528.87 246.2,525.7 246.7,533.56 246.835,535.58 247.2,540.84 247.7,543.7 248.2,537.5 248.547,532.89 248.7,530.79 249.2,523.67 249.401,517.5 249.7,507.36 250,496.67 250.1,493 250.2,496.67 250.7,514.2 250.707,514.44 251.2,529.4 251.547,534.16 251.7,536.19 252.2,542.5 252.4,543.4 252.7,545.47 253.057,547.82 253.2,548.72 253.7,551.7 254.2,550.43 254.356,549.18 254.7,550.87 255.2,549.63 255.7,545.81 255.807,544.94 256.2,541.65 256.4,539.9 256.7,542.5 257.2,546.6 257.7,549.3 257.788,548.75 258.2,551.23 258.7,547.75 258.757,547.33 259.2,550.48 259.7,547.38 259.972,542.92 260.2,546.7 260.7,550.61 261.2,545.82 261.412,543.62 261.7,546.58 262.2,548.27 262.7,543.33 262.816,542.12 263.2,537.93 263.5,534.5 263.7,536.8 264.007,540.22 264.2,542.29 264.7,547.33 265.2,551.81 265.634,549.29 265.7,549.69 266.2,552.14 266.7,550.75 267.058,548.54 267.2,549.44 267.7,551.71 268.2,546.06 268.231,545.65 268.7,549.81 269.2,546.99 269.5,545.2 269.538,545.43 269.7,546.4 270.2,549.27 270.7,549.87 271.2,543.84 271.266,543 271.7,548.37 272.2,552.32 272.7,552.49 273.032,550.38 273.2,551.47 273.7,551.39 274.2,549.19 274.339,548.55 274.5,547.8 274.7,548.73 275.2,550.96 275.7,551.31 276.043,550.96 276.2,550.82 276.7,550.68 277.2,549.25 277.301,548.47 277.7,545.22 278.2,540.84 278.4,539 278.7,541.74 278.919,543.67 279.2,546.06 279.7,547.96 279.807,546.92 280.2,542.85 280.7,537.25 281,533.7 281.2,536.08 281.464,539.13 281.7,541.76 282.2,546.99 282.7,551.07 282.834,550.21 283.2,551.29 283.7,551.25 284.2,548.07 284.269,547.28 284.7,550.99 285.2,551.39 285.7,552.01 286.108,551.29 286.2,551.77 286.7,552.33 287.2,550.17 287.644,546.8 287.7,547.24 288.2,546.06 288.7,541.74 289,539 289.179,540.65 289.2,540.84 289.7,545.22 290.2,546.35 290.419,542.53 290.7,547.37 291.2,548.93 291.458,545.81 291.7,548.75 292.2,550.36 292.7,547.75 293,546.1 293.2,547.21 293.389,545.32 293.7,548.44 294.2,552.28 294.7,552.36 295.2,551.81 295.352,551.49 295.7,551.33 296.2,551.23 296.7,551.34 296.981,551.36 297.2,550.81 297.7,545.45 298.058,541.19 298.2,539.41 298.7,532.85 298.9,530.1 299.2,534.2 299.7,540.67 299.827,542.23 300.2,546.58 300.7,544.42 301.01,535.19 301.2,528.76 301.7,510.21 302.2,489.74 302.4,481.1 302.7,493.97 302.978,505.37 303.1,509.8 303.2,511.43 303.7,519.35 304.2,526.91 304.277,528.04 304.7,534.05 305.2,540.7 305.231,541.09 305.7,546.77 306.2,551.44 306.451,551.21 306.7,551.57 307.2,548.8 307.535,545.25 307.7,547.03 308.2,551.54 308.547,549.69 308.7,550.52 309.2,551.61 309.7,551.39 310.006,547.73 310.2,550.29 310.7,549.85 311.196,546.88 311.2,546.86 311.6,544.3 311.7,544.95 312.2,548.08 312.7,550.97 312.769,551.21 313.2,551.71 313.7,547.31 313.707,547.24 314.2,551.6 314.7,551.94 315.2,548.26 315.459,546.15 315.7,548.13 316.2,551.89 316.7,551.75 317.124,545.32 317.2,546.65 317.7,546.35 317.943,543.61 318.2,546.51 318.7,547.17 319.155,544.04 319.2,543.72 319.3,543 319.7,545.82 320.113,542.76 320.2,544.58 320.7,551.71 321.2,549.21 321.407,547.34 321.7,549.96 322.2,552.35 322.7,551.88 323.099,551.54 323.2,551.59 323.7,551.59 324.2,551.62 324.7,548.21 324.732,547.75 325.2,550.92 325.7,550.69 325.751,550.7 326.2,550.96 326.7,550.45 326.828,549.43 327.2,546.3 327.7,540.42 328.2,527.63 328.526,518.47 328.7,513.36 329.2,497.91 329.3,494.7 329.7,507.31 330,516.32 330.2,519.26 330.6,523.88 330.7,525.01 331.2,530.53 331.7,535.8 331.876,537.59 332.2,540.78 332.7,545.42 333.2,549.66 333.636,548.02 333.7,547.63 334.2,543.11 334.7,538.22 334.8,537.2 335.2,541.2 335.494,543.99 335.7,545.87 336.2,550.12 336.7,552.04 336.83,551.34 337.2,553.03 337.7,552.58 337.799,552.18 338.2,552.25 338.7,549.02 339.2,545.45 339.466,543.43 339.7,541.6 340.2,545.45 340.285,546.08 340.7,549.02 341.2,552.07 341.7,548.43 341.709,548.36 342.2,551.94 342.7,553.33 343.2,550.24 343.578,546.91 343.7,548.02 344.2,552.21 344.7,550.44 345.028,546.88 345.2,548.79 345.7,552.62 346.2,552.71 346.7,551.78 346.888,549.89 347.2,552.46 347.7,552.53 348.2,549.26 348.349,548.18 348.7,550.66 349.2,553.54 349.7,552.26 350.15,549.87 350.2,550.14 350.7,547.47 351.2,544.3 351.379,545.46 351.7,547.47 352.2,550.41 352.7,552.39 353.138,551.3 353.2,551.74 353.7,552.45 354.2,552.8 354.415,552.9 354.7,552.68 355.2,550.76 355.554,549.32 355.7,548.7 356.2,550.76 356.7,552.68 357.2,550.1 357.394,548.67 357.7,550.89 358.2,552.94 358.543,552.72 358.7,552.67 359.2,552.67 359.7,552.75 360.078,552.14 360.2,552.66 360.7,552.44 361.2,552.37 361.28,552.39 361.7,552.65 362.2,553.12 362.516,551.94 362.7,553.14 363.2,550.87 363.329,550.14 363.7,552.19 364.2,553.17 364.7,552.42 364.84,551.72 365.2,553.31 365.7,553.06 366.11,550.78 366.2,551.62 366.7,551.59 367.095,548.91 367.2,549.64 367.7,552.63 368.2,550.7 368.241,550.44 368.7,552.84 369.2,549.98 369.263,549.54 369.7,546.33 370.2,542.36 370.4,540.7 370.575,542.16 370.7,543.18 371.2,547.09 371.7,546.78 371.709,546.71 372.2,550.36 372.7,552.77 373.2,550.84 373.634,547.18 373.7,547.76 374.2,551.87 374.7,549.8 374.877,548.71 375.2,550.67 375.7,551.31 375.8,550.46 376.2,553.24 376.7,552.76 376.877,551.79 377.2,553.24 377.7,553.18 378.2,553.3 378.7,551.74 378.858,550.85 379.2,552.74 379.7,552.88 379.964,552.07 380.2,552.46 380.7,552.34 381.2,550.25 381.337,549.25 381.7,549.96 382.2,544.05 382.588,538.96 382.7,537.42 383.2,530.21 383.7,522.52 384,517.7 384.054,518.58 384.2,520.93 384.7,528.71 385.2,536.02 385.7,542.78 385.848,544.65 386.2,548.85 386.7,548.42 386.861,547.08 387.2,549.46 387.7,545.55 388.2,541.29 388.4,539.5 388.645,541.68 388.7,542.16 389.2,546.36 389.7,550.2 389.889,550.17 390.2,552.16 390.7,553.19 391.102,550.85 391.2,551.64 391.7,553.26 392.2,553.47 392.697,550.02 392.7,550.04 393.2,552.68 393.7,549.23 393.91,547.66 394.2,549.81 394.7,550.95 395.127,547.89 395.2,548.43 395.7,551.93 396.195,550.14 396.2,550.18 396.7,552.59 397.2,552.89 397.398,552.47 397.7,553.34 398.2,553.6 398.7,553.49 399.2,551.67 399.348,550.82 399.7,552.78 400.2,553.05 400.627,552.26 400.7,552.57 401.2,552.83 401.7,552.45 401.924,552.03 402.2,552.23 402.7,552.38 403.2,552.77 403.513,552.25 403.7,553.06 404.2,549.64 404.514,547.06 404.7,548.61 405.2,552.42 405.399,551.87 405.7,553.43 406.2,552.06 406.7,545.69 407.2,538.3 407.382,535.41 407.7,530.14 408.2,521.37 408.4,517.7 408.7,523.17 409.2,531.83 409.354,534.37 409.7,539.84 410.2,547.06 410.45,549.54 410.7,550.94 411.2,551.39 411.7,548.71 411.784,548.24 412.2,545.8 412.3,545.2 412.7,547.57 413.097,547.11 413.2,548.15 413.7,550.35 413.983,548.13 414.2,549.84 414.7,548.18 415.2,544.7 415.5,542.5 415.7,543.98 415.873,545.23 416.2,547.51 416.7,550.75 417.2,552.88 417.689,552.06 417.7,552.1 418.2,552.44 418.573,550.42 418.7,551.13 419.2,552.15 419.4,551.4 419.7,552.52 420.2,554.23 420.7,555.72 421.2,556.82 421.7,556.9 425.7,556.9 426.2,552.17 426.7,545.26 427.2,537.19 427.7,528.24 428.2,518.6 428.7,528.24 429.2,537.19 429.7,545.26 430.2,552.17 430.7,555.71 431.2,555.75 431.7,555.74 432.2,555.75 432.7,555.68 433.2,555.93 433.7,555.98 434.2,555.91 434.7,555.8 435.2,555.84 435.7,556.15 436.2,556.53 436.7,556.9 441.7,556.9 442.2,556.83 442.7,556.04 443.2,555 443.6,554.04 443.7,554.29 444.2,553.87 444.416,553.32 444.5,553.1 444.7,553.62 445.2,554.75 445.7,555.36 446.2,556.16 446.7,556.9 449.7,556.9 450.2,556.77 450.7,555.9 451.2,554.78 451.6,553.76 451.7,553.95 452.2,552.58 452.4,551.9 452.7,552.91 453.2,554.17 453.346,553.6 453.7,554.94 454.2,555.98 454.7,556.9 455.7,556.9 456.2,556.65 456.7,555.87 457.2,554.9 457.7,555.87 458.2,556.65 458.7,556.9 459.2,556.9 459.7,556.65 460.2,555.87 460.7,554.9 461.2,555.87 461.7,556.65 462.2,556.9 462.7,556.9 463.2,556.26 463.7,555.28 464.2,554.12 464.6,553.1 464.7,553.36 465.2,554.6 465.7,555.7 466.2,556.59 466.7,556.9 469.2,556.9 469.7,556.5 470.2,555.85 470.7,555.7 471.2,556.38 471.7,556.88 472.2,556.9 478.7,556.9 479.2,556.65 479.7,555.87 480.2,554.9 480.7,555.87 481.2,556.65 481.7,556.9 487.7,556.9 488.2,556.85 488.7,556.21 489.2,555.35 489.7,554.35 490,553.7 490.2,554.14 490.7,555.16 491.2,556.05 491.7,556.75 492.2,556.9 507.2,556.9 507.7,556.79 508.2,556.26 508.7,555.59 509.2,554.83 509.4,554.5 509.7,554.99 510.2,555.74 510.7,556.38 511.2,556.86 511.7,556.9 585.2,556.9 585.7,556.44 586.2,555.41 586.6,554.41 586.7,554.67 587.2,555.29 587.568,555.01 587.7,555.15 588.2,555.06 588.7,555.08 589.2,555.08 589.461,555.02 589.7,554.97 590.2,554.79 590.7,554.69 591.177,554.76 591.2,554.76 591.7,554.95 592.2,555.08 592.6,554.2 592.7,554.48 592.785,554.57 593.2,555.08 593.7,555.13 594.2,555.16 594.252,555.02 594.7,555.33 595.2,555.24 595.7,555.03 596.2,554.24 596.204,554.23 596.5,553.1 596.7,553.87 597.2,554.89 597.7,554.91 598.177,554.82 598.2,554.84 598.7,554.79 599.2,554.88 599.412,554.54 599.7,555.09 600.2,555.28 600.7,555.3 601.2,554.79 601.298,554.52 601.7,555.56 602.2,556.32 602.7,556.9 614.2,556.9 614.6,556.9Z" fill="#817e02" stroke="#817e02" stroke-width="0.6" stroke-linejoin="round"/>
<line x1="41.2" y1="557.20" x2="614.6" y2="557.20" stroke="#3a3a3a" stroke-width="1"/>
<line x1="41" y1="27.00" x2="41" y2="121.70" stroke="#6d6d6d" stroke-width="1.3"/>
<line x1="36.00" y1="121.70" x2="41" y2="121.70" stroke="#6d6d6d" stroke-width="1"/>
<line x1="38.00" y1="112.23" x2="41" y2="112.23" stroke="#6d6d6d" stroke-width="1"/>
<line x1="38.00" y1="102.76" x2="41" y2="102.76" stroke="#6d6d6d" stroke-width="1"/>
<line x1="38.00" y1="93.29" x2="41" y2="93.29" stroke="#6d6d6d" stroke-width="1"/>
<line x1="38.00" y1="83.82" x2="41" y2="83.82" stroke="#6d6d6d" stroke-width="1"/>
<line x1="36.00" y1="74.35" x2="41" y2="74.35" stroke="#6d6d6d" stroke-width="1"/>
<line x1="38.00" y1="64.88" x2="41" y2="64.88" stroke="#6d6d6d" stroke-width="1"/>
<line x1="38.00" y1="55.41" x2="41" y2="55.41" stroke="#6d6d6d" stroke-width="1"/>
<line x1="38.00" y1="45.94" x2="41" y2="45.94" stroke="#6d6d6d" stroke-width="1"/>
<line x1="38.00" y1="36.47" x2="41" y2="36.47" stroke="#6d6d6d" stroke-width="1"/>
<line x1="36.00" y1="27.00" x2="41" y2="27.00" stroke="#6d6d6d" stroke-width="1"/>
<text x="33" y="125.60" font-size="11" text-anchor="end" fill="#1a1a1a" stroke="#1a1a1a" stroke-width="0.25" font-family="Liberation Sans, sans-serif">0</text>
<text x="33" y="78.25" font-size="11" text-anchor="end" fill="#1a1a1a" stroke="#1a1a1a" stroke-width="0.25" font-family="Liberation Sans, sans-serif">50</text>
<text x="33" y="30.90" font-size="11" text-anchor="end" fill="#1a1a1a" stroke="#1a1a1a" stroke-width="0.25" font-family="Liberation Sans, sans-serif">100</text>
<line x1="41" y1="135.80" x2="41" y2="230.50" stroke="#6d6d6d" stroke-width="1.3"/>
<line x1="36.00" y1="230.50" x2="41" y2="230.50" stroke="#6d6d6d" stroke-width="1"/>
<line x1="38.00" y1="221.03" x2="41" y2="221.03" stroke="#6d6d6d" stroke-width="1"/>
<line x1="38.00" y1="211.56" x2="41" y2="211.56" stroke="#6d6d6d" stroke-width="1"/>
<line x1="38.00" y1="202.09" x2="41" y2="202.09" stroke="#6d6d6d" stroke-width="1"/>
<line x1="38.00" y1="192.62" x2="41" y2="192.62" stroke="#6d6d6d" stroke-width="1"/>
<line x1="36.00" y1="183.15" x2="41" y2="183.15" stroke="#6d6d6d" stroke-width="1"/>
<line x1="38.00" y1="173.68" x2="41" y2="173.68" stroke="#6d6d6d" stroke-width="1"/>
<line x1="38.00" y1="164.21" x2="41" y2="164.21" stroke="#6d6d6d" stroke-width="1"/>
<line x1="38.00" y1="154.74" x2="41" y2="154.74" stroke="#6d6d6d" stroke-width="1"/>
<line x1="38.00" y1="145.27" x2="41" y2="145.27" stroke="#6d6d6d" stroke-width="1"/>
<line x1="36.00" y1="135.80" x2="41" y2="135.80" stroke="#6d6d6d" stroke-width="1"/>
<text x="33" y="234.40" font-size="11" text-anchor="end" fill="#1a1a1a" stroke="#1a1a1a" stroke-width="0.25" font-family="Liberation Sans, sans-serif">0</text>
<text x="33" y="187.05" font-size="11" text-anchor="end" fill="#1a1a1a" stroke="#1a1a1a" stroke-width="0.25" font-family="Liberation Sans, sans-serif">50</text>
<text x="33" y="139.70" font-size="11" text-anchor="end" fill="#1a1a1a" stroke="#1a1a1a" stroke-width="0.25" font-family="Liberation Sans, sans-serif">100</text>
<line x1="41" y1="244.60" x2="41" y2="339.30" stroke="#6d6d6d" stroke-width="1.3"/>
<line x1="36.00" y1="339.30" x2="41" y2="339.30" stroke="#6d6d6d" stroke-width="1"/>
<line x1="38.00" y1="329.83" x2="41" y2="329.83" stroke="#6d6d6d" stroke-width="1"/>
<line x1="38.00" y1="320.36" x2="41" y2="320.36" stroke="#6d6d6d" stroke-width="1"/>
<line x1="38.00" y1="310.89" x2="41" y2="310.89" stroke="#6d6d6d" stroke-width="1"/>
<line x1="38.00" y1="301.42" x2="41" y2="301.42" stroke="#6d6d6d" stroke-width="1"/>
<line x1="36.00" y1="291.95" x2="41" y2="291.95" stroke="#6d6d6d" stroke-width="1"/>
<line x1="38.00" y1="282.48" x2="41" y2="282.48" stroke="#6d6d6d" stroke-width="1"/>
<line x1="38.00" y1="273.01" x2="41" y2="273.01" stroke="#6d6d6d" stroke-width="1"/>
<line x1="38.00" y1="263.54" x2="41" y2="263.54" stroke="#6d6d6d" stroke-width="1"/>
<line x1="38.00" y1="254.07" x2="41" y2="254.07" stroke="#6d6d6d" stroke-width="1"/>
<line x1="36.00" y1="244.60" x2="41" y2="244.60" stroke="#6d6d6d" stroke-width="1"/>
<text x="33" y="343.20" font-size="11" text-anchor="end" fill="#1a1a1a" stroke="#1a1a1a" stroke-width="0.25" font-family="Liberation Sans, sans-serif">0</text>
<text x="33" y="295.85" font-size="11" text-anchor="end" fill="#1a1a1a" stroke="#1a1a1a" stroke-width="0.25" font-family="Liberation Sans, sans-serif">50</text>
<text x="33" y="248.50" font-size="11" text-anchor="end" fill="#1a1a1a" stroke="#1a1a1a" stroke-width="0.25" font-family="Liberation Sans, sans-serif">100</text>
<line x1="41" y1="353.40" x2="41" y2="448.10" stroke="#6d6d6d" stroke-width="1.3"/>
<line x1="36.00" y1="448.10" x2="41" y2="448.10" stroke="#6d6d6d" stroke-width="1"/>
<line x1="38.00" y1="438.63" x2="41" y2="438.63" stroke="#6d6d6d" stroke-width="1"/>
<line x1="38.00" y1="429.16" x2="41" y2="429.16" stroke="#6d6d6d" stroke-width="1"/>
<line x1="38.00" y1="419.69" x2="41" y2="419.69" stroke="#6d6d6d" stroke-width="1"/>
<line x1="38.00" y1="410.22" x2="41" y2="410.22" stroke="#6d6d6d" stroke-width="1"/>
<line x1="36.00" y1="400.75" x2="41" y2="400.75" stroke="#6d6d6d" stroke-width="1"/>
<line x1="38.00" y1="391.28" x2="41" y2="391.28" stroke="#6d6d6d" stroke-width="1"/>
<line x1="38.00" y1="381.81" x2="41" y2="381.81" stroke="#6d6d6d" stroke-width="1"/>
<line x1="38.00" y1="372.34" x2="41" y2="372.34" stroke="#6d6d6d" stroke-width="1"/>
<line x1="38.00" y1="362.87" x2="41" y2="362.87" stroke="#6d6d6d" stroke-width="1"/>
<line x1="36.00" y1="353.40" x2="41" y2="353.40" stroke="#6d6d6d" stroke-width="1"/>
<text x="33" y="452.00" font-size="11" text-anchor="end" fill="#1a1a1a" stroke="#1a1a1a" stroke-width="0.25" font-family="Liberation Sans, sans-serif">0</text>
<text x="33" y="404.65" font-size="11" text-anchor="end" fill="#1a1a1a" stroke="#1a1a1a" stroke-width="0.25" font-family="Liberation Sans, sans-serif">50</text>
<text x="33" y="357.30" font-size="11" text-anchor="end" fill="#1a1a1a" stroke="#1a1a1a" stroke-width="0.25" font-family="Liberation Sans, sans-serif">100</text>
<line x1="41" y1="462.20" x2="41" y2="556.90" stroke="#6d6d6d" stroke-width="1.3"/>
<line x1="36.00" y1="556.90" x2="41" y2="556.90" stroke="#6d6d6d" stroke-width="1"/>
<line x1="38.00" y1="547.43" x2="41" y2="547.43" stroke="#6d6d6d" stroke-width="1"/>
<line x1="38.00" y1="537.96" x2="41" y2="537.96" stroke="#6d6d6d" stroke-width="1"/>
<line x1="38.00" y1="528.49" x2="41" y2="528.49" stroke="#6d6d6d" stroke-width="1"/>
<line x1="38.00" y1="519.02" x2="41" y2="519.02" stroke="#6d6d6d" stroke-width="1"/>
<line x1="36.00" y1="509.55" x2="41" y2="509.55" stroke="#6d6d6d" stroke-width="1"/>
<line x1="38.00" y1="500.08" x2="41" y2="500.08" stroke="#6d6d6d" stroke-width="1"/>
<line x1="38.00" y1="490.61" x2="41" y2="490.61" stroke="#6d6d6d" stroke-width="1"/>
<line x1="38.00" y1="481.14" x2="41" y2="481.14" stroke="#6d6d6d" stroke-width="1"/>
<line x1="38.00" y1="471.67" x2="41" y2="471.67" stroke="#6d6d6d" stroke-width="1"/>
<line x1="36.00" y1="462.20" x2="41" y2="462.20" stroke="#6d6d6d" stroke-width="1"/>
<text x="33" y="560.80" font-size="11" text-anchor="end" fill="#1a1a1a" stroke="#1a1a1a" stroke-width="0.25" font-family="Liberation Sans, sans-serif">0</text>
<text x="33" y="513.45" font-size="11" text-anchor="end" fill="#1a1a1a" stroke="#1a1a1a" stroke-width="0.25" font-family="Liberation Sans, sans-serif">50</text>
<text x="33" y="466.10" font-size="11" text-anchor="end" fill="#1a1a1a" stroke="#1a1a1a" stroke-width="0.25" font-family="Liberation Sans, sans-serif">100</text>
<line x1="41" y1="557.00" x2="614.6" y2="557.00" stroke="#555" stroke-width="1.2"/>
<line x1="41.20" y1="557.00" x2="41.20" y2="564.20" stroke="#555" stroke-width="1"/>
<line x1="43.25" y1="557.00" x2="43.25" y2="559.50" stroke="#555" stroke-width="1"/>
<line x1="45.29" y1="557.00" x2="45.29" y2="559.50" stroke="#555" stroke-width="1"/>
<line x1="47.34" y1="557.00" x2="47.34" y2="559.50" stroke="#555" stroke-width="1"/>
<line x1="49.39" y1="557.00" x2="49.39" y2="562.00" stroke="#555" stroke-width="1"/>
<line x1="51.44" y1="557.00" x2="51.44" y2="559.50" stroke="#555" stroke-width="1"/>
<line x1="53.48" y1="557.00" x2="53.48" y2="559.50" stroke="#555" stroke-width="1"/>
<line x1="55.53" y1="557.00" x2="55.53" y2="559.50" stroke="#555" stroke-width="1"/>
<line x1="57.58" y1="557.00" x2="57.58" y2="562.00" stroke="#555" stroke-width="1"/>
<line x1="59.62" y1="557.00" x2="59.62" y2="559.50" stroke="#555" stroke-width="1"/>
<line x1="61.67" y1="557.00" x2="61.67" y2="559.50" stroke="#555" stroke-width="1"/>
<line x1="63.72" y1="557.00" x2="63.72" y2="559.50" stroke="#555" stroke-width="1"/>
<line x1="65.76" y1="557.00" x2="65.76" y2="562.00" stroke="#555" stroke-width="1"/>
<line x1="67.81" y1="557.00" x2="67.81" y2="559.50" stroke="#555" stroke-width="1"/>
<line x1="69.86" y1="557.00" x2="69.86" y2="559.50" stroke="#555" stroke-width="1"/>
<line x1="71.91" y1="557.00" x2="71.91" y2="559.50" stroke="#555" stroke-width="1"/>
<line x1="73.95" y1="557.00" x2="73.95" y2="562.00" stroke="#555" stroke-width="1"/>
<line x1="76.00" y1="557.00" x2="76.00" y2="559.50" stroke="#555" stroke-width="1"/>
<line x1="78.05" y1="557.00" x2="78.05" y2="559.50" stroke="#555" stroke-width="1"/>
<line x1="80.09" y1="557.00" x2="80.09" y2="559.50" stroke="#555" stroke-width="1"/>
<line x1="82.14" y1="557.00" x2="82.14" y2="564.20" stroke="#555" stroke-width="1"/>
<line x1="84.19" y1="557.00" x2="84.19" y2="559.50" stroke="#555" stroke-width="1"/>
<line x1="86.23" y1="557.00" x2="86.23" y2="559.50" stroke="#555" stroke-width="1"/>
<line x1="88.28" y1="557.00" x2="88.28" y2="559.50" stroke="#555" stroke-width="1"/>
<line x1="90.33" y1="557.00" x2="90.33" y2="562.00" stroke="#555" stroke-width="1"/>
<line x1="92.38" y1="557.00" x2="92.38" y2="559.50" stroke="#555" stroke-width="1"/>
<line x1="94.42" y1="557.00" x2="94.42" y2="559.50" stroke="#555" stroke-width="1"/>
<line x1="96.47" y1="557.00" x2="96.47" y2="559.50" stroke="#555" stroke-width="1"/>
<line x1="98.52" y1="557.00" x2="98.52" y2="562.00" stroke="#555" stroke-width="1"/>
<line x1="100.56" y1="557.00" x2="100.56" y2="559.50" stroke="#555" stroke-width="1"/>
<line x1="102.61" y1="557.00" x2="102.61" y2="559.50" stroke="#555" stroke-width="1"/>
<line x1="104.66" y1="557.00" x2="104.66" y2="559.50" stroke="#555" stroke-width="1"/>
<line x1="106.70" y1="557.00" x2="106.70" y2="562.00" stroke="#555" stroke-width="1"/>
<line x1="108.75" y1="557.00" x2="108.75" y2="559.50" stroke="#555" stroke-width="1"/>
<line x1="110.80" y1="557.00" x2="110.80" y2="559.50" stroke="#555" stroke-width="1"/>
<line x1="112.85" y1="557.00" x2="112.85" y2="559.50" stroke="#555" stroke-width="1"/>
<line x1="114.89" y1="557.00" x2="114.89" y2="562.00" stroke="#555" stroke-width="1"/>
<line x1="116.94" y1="557.00" x2="116.94" y2="559.50" stroke="#555" stroke-width="1"/>
<line x1="118.99" y1="557.00" x2="118.99" y2="559.50" stroke="#555" stroke-width="1"/>
<line x1="121.03" y1="557.00" x2="121.03" y2="559.50" stroke="#555" stroke-width="1"/>
<line x1="123.08" y1="557.00" x2="123.08" y2="564.20" stroke="#555" stroke-width="1"/>
<line x1="125.13" y1="557.00" x2="125.13" y2="559.50" stroke="#555" stroke-width="1"/>
<line x1="127.17" y1="557.00" x2="127.17" y2="559.50" stroke="#555" stroke-width="1"/>
<line x1="129.22" y1="557.00" x2="129.22" y2="559.50" stroke="#555" stroke-width="1"/>
<line x1="131.27" y1="557.00" x2="131.27" y2="562.00" stroke="#555" stroke-width="1"/>
<line x1="133.31" y1="557.00" x2="133.31" y2="559.50" stroke="#555" stroke-width="1"/>
<line x1="135.36" y1="557.00" x2="135.36" y2="559.50" stroke="#555" stroke-width="1"/>
<line x1="137.41" y1="557.00" x2="137.41" y2="559.50" stroke="#555" stroke-width="1"/>
<line x1="139.46" y1="557.00" x2="139.46" y2="562.00" stroke="#555" stroke-width="1"/>
<line x1="141.50" y1="557.00" x2="141.50" y2="559.50" stroke="#555" stroke-width="1"/>
<line x1="143.55" y1="557.00" x2="143.55" y2="559.50" stroke="#555" stroke-width="1"/>
<line x1="145.60" y1="557.00" x2="145.60" y2="559.50" stroke="#555" stroke-width="1"/>
<line x1="147.64" y1="557.00" x2="147.64" y2="562.00" stroke="#555" stroke-width="1"/>
<line x1="149.69" y1="557.00" x2="149.69" y2="559.50" stroke="#555" stroke-width="1"/>
<line x1="151.74" y1="557.00" x2="151.74" y2="559.50" stroke="#555" stroke-width="1"/>
<line x1="153.79" y1="557.00" x2="153.79" y2="559.50" stroke="#555" stroke-width="1"/>
<line x1="155.83" y1="557.00" x2="155.83" y2="562.00" stroke="#555" stroke-width="1"/>
<line x1="157.88" y1="557.00" x2="157.88" y2="559.50" stroke="#555" stroke-width="1"/>
<line x1="159.93" y1="557.00" x2="159.93" y2="559.50" stroke="#555" stroke-width="1"/>
<line x1="161.97" y1="557.00" x2="161.97" y2="559.50" stroke="#555" stroke-width="1"/>
<line x1="164.02" y1="557.00" x2="164.02" y2="564.20" stroke="#555" stroke-width="1"/>
<line x1="166.07" y1="557.00" x2="166.07" y2="559.50" stroke="#555" stroke-width="1"/>
<line x1="168.11" y1="557.00" x2="168.11" y2="559.50" stroke="#555" stroke-width="1"/>
<line x1="170.16" y1="557.00" x2="170.16" y2="559.50" stroke="#555" stroke-width="1"/>
<line x1="172.21" y1="557.00" x2="172.21" y2="562.00" stroke="#555" stroke-width="1"/>
<line x1="174.25" y1="557.00" x2="174.25" y2="559.50" stroke="#555" stroke-width="1"/>
<line x1="176.30" y1="557.00" x2="176.30" y2="559.50" stroke="#555" stroke-width="1"/>
<line x1="178.35" y1="557.00" x2="178.35" y2="559.50" stroke="#555" stroke-width="1"/>
<line x1="180.40" y1="557.00" x2="180.40" y2="562.00" stroke="#555" stroke-width="1"/>
<line x1="182.44" y1="557.00" x2="182.44" y2="559.50" stroke="#555" stroke-width="1"/>
<line x1="184.49" y1="557.00" x2="184.49" y2="559.50" stroke="#555" stroke-width="1"/>
<line x1="186.54" y1="557.00" x2="186.54" y2="559.50" stroke="#555" stroke-width="1"/>
<line x1="188.58" y1="557.00" x2="188.58" y2="562.00" stroke="#555" stroke-width="1"/>
<line x1="190.63" y1="557.00" x2="190.63" y2="559.50" stroke="#555" stroke-width="1"/>
<line x1="192.68" y1="557.00" x2="192.68" y2="559.50" stroke="#555" stroke-width="1"/>
<line x1="194.73" y1="557.00" x2="194.73" y2="559.50" stroke="#555" stroke-width="1"/>
<line x1="196.77" y1="557.00" x2="196.77" y2="562.00" stroke="#555" stroke-width="1"/>
<line x1="198.82" y1="557.00" x2="198.82" y2="559.50" stroke="#555" stroke-width="1"/>
<line x1="200.87" y1="557.00" x2="200.87" y2="559.50" stroke="#555" stroke-width="1"/>
<line x1="202.91" y1="557.00" x2="202.91" y2="559.50" stroke="#555" stroke-width="1"/>
<line x1="204.96" y1="557.00" x2="204.96" y2="564.20" stroke="#555" stroke-width="1"/>
<line x1="207.01" y1="557.00" x2="207.01" y2="559.50" stroke="#555" stroke-width="1"/>
<line x1="209.05" y1="557.00" x2="209.05" y2="559.50" stroke="#555" stroke-width="1"/>
<line x1="211.10" y1="557.00" x2="211.10" y2="559.50" stroke="#555" stroke-width="1"/>
<line x1="213.15" y1="557.00" x2="213.15" y2="562.00" stroke="#555" stroke-width="1"/>
<line x1="215.19" y1="557.00" x2="215.19" y2="559.50" stroke="#555" stroke-width="1"/>
<line x1="217.24" y1="557.00" x2="217.24" y2="559.50" stroke="#555" stroke-width="1"/>
<line x1="219.29" y1="557.00" x2="219.29" y2="559.50" stroke="#555" stroke-width="1"/>
<line x1="221.34" y1="557.00" x2="221.34" y2="562.00" stroke="#555" stroke-width="1"/>
<line x1="223.38" y1="557.00" x2="223.38" y2="559.50" stroke="#555" stroke-width="1"/>
<line x1="225.43" y1="557.00" x2="225.43" y2="559.50" stroke="#555" stroke-width="1"/>
<line x1="227.48" y1="557.00" x2="227.48" y2="559.50" stroke="#555" stroke-width="1"/>
<line x1="229.52" y1="557.00" x2="229.52" y2="562.00" stroke="#555" stroke-width="1"/>
<line x1="231.57" y1="557.00" x2="231.57" y2="559.50" stroke="#555" stroke-width="1"/>
<line x1="233.62" y1="557.00" x2="233.62" y2="559.50" stroke="#555" stroke-width="1"/>
<line x1="235.67" y1="557.00" x2="235.67" y2="559.50" stroke="#555" stroke-width="1"/>
<line x1="237.71" y1="557.00" x2="237.71" y2="562.00" stroke="#555" stroke-width="1"/>
<line x1="239.76" y1="557.00" x2="239.76" y2="559.50" stroke="#555" stroke-width="1"/>
<line x1="241.81" y1="557.00" x2="241.81" y2="559.50" stroke="#555" stroke-width="1"/>
<line x1="243.85" y1="557.00" x2="243.85" y2="559.50" stroke="#555" stroke-width="1"/>
<line x1="245.90" y1="557.00" x2="245.90" y2="564.20" stroke="#555" stroke-width="1"/>
<line x1="247.95" y1="557.00" x2="247.95" y2="559.50" stroke="#555" stroke-width="1"/>
<line x1="249.99" y1="557.00" x2="249.99" y2="559.50" stroke="#555" stroke-width="1"/>
<line x1="252.04" y1="557.00" x2="252.04" y2="559.50" stroke="#555" stroke-width="1"/>
<line x1="254.09" y1="557.00" x2="254.09" y2="562.00" stroke="#555" stroke-width="1"/>
<line x1="256.13" y1="557.00" x2="256.13" y2="559.50" stroke="#555" stroke-width="1"/>
<line x1="258.18" y1="557.00" x2="258.18" y2="559.50" stroke="#555" stroke-width="1"/>
<line x1="260.23" y1="557.00" x2="260.23" y2="559.50" stroke="#555" stroke-width="1"/>
<line x1="262.28" y1="557.00" x2="262.28" y2="562.00" stroke="#555" stroke-width="1"/>
<line x1="264.32" y1="557.00" x2="264.32" y2="559.50" stroke="#555" stroke-width="1"/>
<line x1="266.37" y1="557.00" x2="266.37" y2="559.50" stroke="#555" stroke-width="1"/>
<line x1="268.42" y1="557.00" x2="268.42" y2="559.50" stroke="#555" stroke-width="1"/>
<line x1="270.46" y1="557.00" x2="270.46" y2="562.00" stroke="#555" stroke-width="1"/>
<line x1="272.51" y1="557.00" x2="272.51" y2="559.50" stroke="#555" stroke-width="1"/>
<line x1="274.56" y1="557.00" x2="274.56" y2="559.50" stroke="#555" stroke-width="1"/>
<line x1="276.61" y1="557.00" x2="276.61" y2="559.50" stroke="#555" stroke-width="1"/>
<line x1="278.65" y1="557.00" x2="278.65" y2="562.00" stroke="#555" stroke-width="1"/>
<line x1="280.70" y1="557.00" x2="280.70" y2="559.50" stroke="#555" stroke-width="1"/>
<line x1="282.75" y1="557.00" x2="282.75" y2="559.50" stroke="#555" stroke-width="1"/>
<line x1="284.79" y1="557.00" x2="284.79" y2="559.50" stroke="#555" stroke-width="1"/>
<line x1="286.84" y1="557.00" x2="286.84" y2="564.20" stroke="#555" stroke-width="1"/>
<line x1="288.89" y1="557.00" x2="288.89" y2="559.50" stroke="#555" stroke-width="1"/>
<line x1="290.93" y1="557.00" x2="290.93" y2="559.50" stroke="#555" stroke-width="1"/>
<line x1="292.98" y1="557.00" x2="292.98" y2="559.50" stroke="#555" stroke-width="1"/>
<line x1="295.03" y1="557.00" x2="295.03" y2="562.00" stroke="#555" stroke-width="1"/>
<line x1="297.08" y1="557.00" x2="297.08" y2="559.50" stroke="#555" stroke-width="1"/>
<line x1="299.12" y1="557.00" x2="299.12" y2="559.50" stroke="#555" stroke-width="1"/>
<line x1="301.17" y1="557.00" x2="301.17" y2="559.50" stroke="#555" stroke-width="1"/>
<line x1="303.22" y1="557.00" x2="303.22" y2="562.00" stroke="#555" stroke-width="1"/>
<line x1="305.26" y1="557.00" x2="305.26" y2="559.50" stroke="#555" stroke-width="1"/>
<line x1="307.31" y1="557.00" x2="307.31" y2="559.50" stroke="#555" stroke-width="1"/>
<line x1="309.36" y1="557.00" x2="309.36" y2="559.50" stroke="#555" stroke-width="1"/>
<line x1="311.40" y1="557.00" x2="311.40" y2="562.00" stroke="#555" stroke-width="1"/>
<line x1="313.45" y1="557.00" x2="313.45" y2="559.50" stroke="#555" stroke-width="1"/>
<line x1="315.50" y1="557.00" x2="315.50" y2="559.50" stroke="#555" stroke-width="1"/>
<line x1="317.55" y1="557.00" x2="317.55" y2="559.50" stroke="#555" stroke-width="1"/>
<line x1="319.59" y1="557.00" x2="319.59" y2="562.00" stroke="#555" stroke-width="1"/>
<line x1="321.64" y1="557.00" x2="321.64" y2="559.50" stroke="#555" stroke-width="1"/>
<line x1="323.69" y1="557.00" x2="323.69" y2="559.50" stroke="#555" stroke-width="1"/>
<line x1="325.73" y1="557.00" x2="325.73" y2="559.50" stroke="#555" stroke-width="1"/>
<line x1="327.78" y1="557.00" x2="327.78" y2="564.20" stroke="#555" stroke-width="1"/>
<line x1="329.83" y1="557.00" x2="329.83" y2="559.50" stroke="#555" stroke-width="1"/>
<line x1="331.87" y1="557.00" x2="331.87" y2="559.50" stroke="#555" stroke-width="1"/>
<line x1="333.92" y1="557.00" x2="333.92" y2="559.50" stroke="#555" stroke-width="1"/>
<line x1="335.97" y1="557.00" x2="335.97" y2="562.00" stroke="#555" stroke-width="1"/>
<line x1="338.01" y1="557.00" x2="338.01" y2="559.50" stroke="#555" stroke-width="1"/>
<line x1="340.06" y1="557.00" x2="340.06" y2="559.50" stroke="#555" stroke-width="1"/>
<line x1="342.11" y1="557.00" x2="342.11" y2="559.50" stroke="#555" stroke-width="1"/>
<line x1="344.16" y1="557.00" x2="344.16" y2="562.00" stroke="#555" stroke-width="1"/>
<line x1="346.20" y1="557.00" x2="346.20" y2="559.50" stroke="#555" stroke-width="1"/>
<line x1="348.25" y1="557.00" x2="348.25" y2="559.50" stroke="#555" stroke-width="1"/>
<line x1="350.30" y1="557.00" x2="350.30" y2="559.50" stroke="#555" stroke-width="1"/>
<line x1="352.34" y1="557.00" x2="352.34" y2="562.00" stroke="#555" stroke-width="1"/>
<line x1="354.39" y1="557.00" x2="354.39" y2="559.50" stroke="#555" stroke-width="1"/>
<line x1="356.44" y1="557.00" x2="356.44" y2="559.50" stroke="#555" stroke-width="1"/>
<line x1="358.49" y1="557.00" x2="358.49" y2="559.50" stroke="#555" stroke-width="1"/>
<line x1="360.53" y1="557.00" x2="360.53" y2="562.00" stroke="#555" stroke-width="1"/>
<line x1="362.58" y1="557.00" x2="362.58" y2="559.50" stroke="#555" stroke-width="1"/>
<line x1="364.63" y1="557.00" x2="364.63" y2="559.50" stroke="#555" stroke-width="1"/>
<line x1="366.67" y1="557.00" x2="366.67" y2="559.50" stroke="#555" stroke-width="1"/>
<line x1="368.72" y1="557.00" x2="368.72" y2="564.20" stroke="#555" stroke-width="1"/>
<line x1="370.77" y1="557.00" x2="370.77" y2="559.50" stroke="#555" stroke-width="1"/>
<line x1="372.81" y1="557.00" x2="372.81" y2="559.50" stroke="#555" stroke-width="1"/>
<line x1="374.86" y1="557.00" x2="374.86" y2="559.50" stroke="#555" stroke-width="1"/>
<line x1="376.91" y1="557.00" x2="376.91" y2="562.00" stroke="#555" stroke-width="1"/>
<line x1="378.96" y1="557.00" x2="378.96" y2="559.50" stroke="#555" stroke-width="1"/>
<line x1="381.00" y1="557.00" x2="381.00" y2="559.50" stroke="#555" stroke-width="1"/>
<line x1="383.05" y1="557.00" x2="383.05" y2="559.50" stroke="#555" stroke-width="1"/>
<line x1="385.10" y1="557.00" x2="385.10" y2="562.00" stroke="#555" stroke-width="1"/>
<line x1="387.14" y1="557.00" x2="387.14" y2="559.50" stroke="#555" stroke-width="1"/>
<line x1="389.19" y1="557.00" x2="389.19" y2="559.50" stroke="#555" stroke-width="1"/>
<line x1="391.24" y1="557.00" x2="391.24" y2="559.50" stroke="#555" stroke-width="1"/>
<line x1="393.28" y1="557.00" x2="393.28" y2="562.00" stroke="#555" stroke-width="1"/>
<line x1="395.33" y1="557.00" x2="395.33" y2="559.50" stroke="#555" stroke-width="1"/>
<line x1="397.38" y1="557.00" x2="397.38" y2="559.50" stroke="#555" stroke-width="1"/>
<line x1="399.43" y1="557.00" x2="399.43" y2="559.50" stroke="#555" stroke-width="1"/>
<line x1="401.47" y1="557.00" x2="401.47" y2="562.00" stroke="#555" stroke-width="1"/>
<line x1="403.52" y1="557.00" x2="403.52" y2="559.50" stroke="#555" stroke-width="1"/>
<line x1="405.57" y1="557.00" x2="405.57" y2="559.50" stroke="#555" stroke-width="1"/>
<line x1="407.61" y1="557.00" x2="407.61" y2="559.50" stroke="#555" stroke-width="1"/>
<line x1="409.66" y1="557.00" x2="409.66" y2="564.20" stroke="#555" stroke-width="1"/>
<line x1="411.71" y1="557.00" x2="411.71" y2="559.50" stroke="#555" stroke-width="1"/>
<line x1="413.75" y1="557.00" x2="413.75" y2="559.50" stroke="#555" stroke-width="1"/>
<line x1="415.80" y1="557.00" x2="415.80" y2="559.50" stroke="#555" stroke-width="1"/>
<line x1="417.85" y1="557.00" x2="417.85" y2="562.00" stroke="#555" stroke-width="1"/>
<line x1="419.90" y1="557.00" x2="419.90" y2="559.50" stroke="#555" stroke-width="1"/>
<line x1="421.94" y1="557.00" x2="421.94" y2="559.50" stroke="#555" stroke-width="1"/>
<line x1="423.99" y1="557.00" x2="423.99" y2="559.50" stroke="#555" stroke-width="1"/>
<line x1="426.04" y1="557.00" x2="426.04" y2="562.00" stroke="#555" stroke-width="1"/>
<line x1="428.08" y1="557.00" x2="428.08" y2="559.50" stroke="#555" stroke-width="1"/>
<line x1="430.13" y1="557.00" x2="430.13" y2="559.50" stroke="#555" stroke-width="1"/>
<line x1="432.18" y1="557.00" x2="432.18" y2="559.50" stroke="#555" stroke-width="1"/>
<line x1="434.22" y1="557.00" x2="434.22" y2="562.00" stroke="#555" stroke-width="1"/>
<line x1="436.27" y1="557.00" x2="436.27" y2="559.50" stroke="#555" stroke-width="1"/>
<line x1="438.32" y1="557.00" x2="438.32" y2="559.50" stroke="#555" stroke-width="1"/>
<line x1="440.37" y1="557.00" x2="440.37" y2="559.50" stroke="#555" stroke-width="1"/>
<line x1="442.41" y1="557.00" x2="442.41" y2="562.00" stroke="#555" stroke-width="1"/>
<line x1="444.46" y1="557.00" x2="444.46" y2="559.50" stroke="#555" stroke-width="1"/>
<line x1="446.51" y1="557.00" x2="446.51" y2="559.50" stroke="#555" stroke-width="1"/>
<line x1="448.55" y1="557.00" x2="448.55" y2="559.50" stroke="#555" stroke-width="1"/>
<line x1="450.60" y1="557.00" x2="450.60" y2="564.20" stroke="#555" stroke-width="1"/>
<line x1="452.65" y1="557.00" x2="452.65" y2="559.50" stroke="#555" stroke-width="1"/>
<line x1="454.69" y1="557.00" x2="454.69" y2="559.50" stroke="#555" stroke-width="1"/>
<line x1="456.74" y1="557.00" x2="456.74" y2="559.50" stroke="#555" stroke-width="1"/>
<line x1="458.79" y1="557.00" x2="458.79" y2="562.00" stroke="#555" stroke-width="1"/>
<line x1="460.84" y1="557.00" x2="460.84" y2="559.50" stroke="#555" stroke-width="1"/>
<line x1="462.88" y1="557.00" x2="462.88" y2="559.50" stroke="#555" stroke-width="1"/>
<line x1="464.93" y1="557.00" x2="464.93" y2="559.50" stroke="#555" stroke-width="1"/>
<line x1="466.98" y1="557.00" x2="466.98" y2="562.00" stroke="#555" stroke-width="1"/>
<line x1="469.02" y1="557.00" x2="469.02" y2="559.50" stroke="#555" stroke-width="1"/>
<line x1="471.07" y1="557.00" x2="471.07" y2="559.50" stroke="#555" stroke-width="1"/>
<line x1="473.12" y1="557.00" x2="473.12" y2="559.50" stroke="#555" stroke-width="1"/>
<line x1="475.16" y1="557.00" x2="475.16" y2="562.00" stroke="#555" stroke-width="1"/>
<line x1="477.21" y1="557.00" x2="477.21" y2="559.50" stroke="#555" stroke-width="1"/>
<line x1="479.26" y1="557.00" x2="479.26" y2="559.50" stroke="#555" stroke-width="1"/>
<line x1="481.31" y1="557.00" x2="481.31" y2="559.50" stroke="#555" stroke-width="1"/>
<line x1="483.35" y1="557.00" x2="483.35" y2="562.00" stroke="#555" stroke-width="1"/>
<line x1="485.40" y1="557.00" x2="485.40" y2="559.50" stroke="#555" stroke-width="1"/>
<line x1="487.45" y1="557.00" x2="487.45" y2="559.50" stroke="#555" stroke-width="1"/>
<line x1="489.49" y1="557.00" x2="489.49" y2="559.50" stroke="#555" stroke-width="1"/>
<line x1="491.54" y1="557.00" x2="491.54" y2="564.20" stroke="#555" stroke-width="1"/>
<line x1="493.59" y1="557.00" x2="493.59" y2="559.50" stroke="#555" stroke-width="1"/>
<line x1="495.63" y1="557.00" x2="495.63" y2="559.50" stroke="#555" stroke-width="1"/>
<line x1="497.68" y1="557.00" x2="497.68" y2="559.50" stroke="#555" stroke-width="1"/>
<line x1="499.73" y1="557.00" x2="499.73" y2="562.00" stroke="#555" stroke-width="1"/>
<line x1="501.78" y1="557.00" x2="501.78" y2="559.50" stroke="#555" stroke-width="1"/>
<line x1="503.82" y1="557.00" x2="503.82" y2="559.50" stroke="#555" stroke-width="1"/>
<line x1="505.87" y1="557.00" x2="505.87" y2="559.50" stroke="#555" stroke-width="1"/>
<line x1="507.92" y1="557.00" x2="507.92" y2="562.00" stroke="#555" stroke-width="1"/>
<line x1="509.96" y1="557.00" x2="509.96" y2="559.50" stroke="#555" stroke-width="1"/>
<line x1="512.01" y1="557.00" x2="512.01" y2="559.50" stroke="#555" stroke-width="1"/>
<line x1="514.06" y1="557.00" x2="514.06" y2="559.50" stroke="#555" stroke-width="1"/>
<line x1="516.10" y1="557.00" x2="516.10" y2="562.00" stroke="#555" stroke-width="1"/>
<line x1="518.15" y1="557.00" x2="518.15" y2="559.50" stroke="#555" stroke-width="1"/>
<line x1="520.20" y1="557.00" x2="520.20" y2="559.50" stroke="#555" stroke-width="1"/>
<line x1="522.25" y1="557.00" x2="522.25" y2="559.50" stroke="#555" stroke-width="1"/>
<line x1="524.29" y1="557.00" x2="524.29" y2="562.00" stroke="#555" stroke-width="1"/>
<line x1="526.34" y1="557.00" x2="526.34" y2="559.50" stroke="#555" stroke-width="1"/>
<line x1="528.39" y1="557.00" x2="528.39" y2="559.50" stroke="#555" stroke-width="1"/>
<line x1="530.43" y1="557.00" x2="530.43" y2="559.50" stroke="#555" stroke-width="1"/>
<line x1="532.48" y1="557.00" x2="532.48" y2="564.20" stroke="#555" stroke-width="1"/>
<line x1="534.53" y1="557.00" x2="534.53" y2="559.50" stroke="#555" stroke-width="1"/>
<line x1="536.57" y1="557.00" x2="536.57" y2="559.50" stroke="#555" stroke-width="1"/>
<line x1="538.62" y1="557.00" x2="538.62" y2="559.50" stroke="#555" stroke-width="1"/>
<line x1="540.67" y1="557.00" x2="540.67" y2="562.00" stroke="#555" stroke-width="1"/>
<line x1="542.72" y1="557.00" x2="542.72" y2="559.50" stroke="#555" stroke-width="1"/>
<line x1="544.76" y1="557.00" x2="544.76" y2="559.50" stroke="#555" stroke-width="1"/>
<line x1="546.81" y1="557.00" x2="546.81" y2="559.50" stroke="#555" stroke-width="1"/>
<line x1="548.86" y1="557.00" x2="548.86" y2="562.00" stroke="#555" stroke-width="1"/>
<line x1="550.90" y1="557.00" x2="550.90" y2="559.50" stroke="#555" stroke-width="1"/>
<line x1="552.95" y1="557.00" x2="552.95" y2="559.50" stroke="#555" stroke-width="1"/>
<line x1="555.00" y1="557.00" x2="555.00" y2="559.50" stroke="#555" stroke-width="1"/>
<line x1="557.04" y1="557.00" x2="557.04" y2="562.00" stroke="#555" stroke-width="1"/>
<line x1="559.09" y1="557.00" x2="559.09" y2="559.50" stroke="#555" stroke-width="1"/>
<line x1="561.14" y1="557.00" x2="561.14" y2="559.50" stroke="#555" stroke-width="1"/>
<line x1="563.19" y1="557.00" x2="563.19" y2="559.50" stroke="#555" stroke-width="1"/>
<line x1="565.23" y1="557.00" x2="565.23" y2="562.00" stroke="#555" stroke-width="1"/>
<line x1="567.28" y1="557.00" x2="567.28" y2="559.50" stroke="#555" stroke-width="1"/>
<line x1="569.33" y1="557.00" x2="569.33" y2="559.50" stroke="#555" stroke-width="1"/>
<line x1="571.37" y1="557.00" x2="571.37" y2="559.50" stroke="#555" stroke-width="1"/>
<line x1="573.42" y1="557.00" x2="573.42" y2="564.20" stroke="#555" stroke-width="1"/>
<line x1="575.47" y1="557.00" x2="575.47" y2="559.50" stroke="#555" stroke-width="1"/>
<line x1="577.51" y1="557.00" x2="577.51" y2="559.50" stroke="#555" stroke-width="1"/>
<line x1="579.56" y1="557.00" x2="579.56" y2="559.50" stroke="#555" stroke-width="1"/>
<line x1="581.61" y1="557.00" x2="581.61" y2="562.00" stroke="#555" stroke-width="1"/>
<line x1="583.66" y1="557.00" x2="583.66" y2="559.50" stroke="#555" stroke-width="1"/>
<line x1="585.70" y1="557.00" x2="585.70" y2="559.50" stroke="#555" stroke-width="1"/>
<line x1="587.75" y1="557.00" x2="587.75" y2="559.50" stroke="#555" stroke-width="1"/>
<line x1="589.80" y1="557.00" x2="589.80" y2="562.00" stroke="#555" stroke-width="1"/>
<line x1="591.84" y1="557.00" x2="591.84" y2="559.50" stroke="#555" stroke-width="1"/>
<line x1="593.89" y1="557.00" x2="593.89" y2="559.50" stroke="#555" stroke-width="1"/>
<line x1="595.94" y1="557.00" x2="595.94" y2="559.50" stroke="#555" stroke-width="1"/>
<line x1="597.98" y1="557.00" x2="597.98" y2="562.00" stroke="#555" stroke-width="1"/>
<line x1="600.03" y1="557.00" x2="600.03" y2="559.50" stroke="#555" stroke-width="1"/>
<line x1="602.08" y1="557.00" x2="602.08" y2="559.50" stroke="#555" stroke-width="1"/>
<line x1="604.13" y1="557.00" x2="604.13" y2="559.50" stroke="#555" stroke-width="1"/>
<line x1="606.17" y1="557.00" x2="606.17" y2="562.00" stroke="#555" stroke-width="1"/>
<line x1="608.22" y1="557.00" x2="608.22" y2="559.50" stroke="#555" stroke-width="1"/>
<line x1="610.27" y1="557.00" x2="610.27" y2="559.50" stroke="#555" stroke-width="1"/>
<line x1="612.31" y1="557.00" x2="612.31" y2="559.50" stroke="#555" stroke-width="1"/>
<line x1="614.36" y1="557.00" x2="614.36" y2="564.20" stroke="#555" stroke-width="1"/>
<text x="42.00" y="575.2" font-size="10.8" text-anchor="middle" fill="#1a1a1a" stroke="#1a1a1a" stroke-width="0.25" font-family="Liberation Sans, sans-serif">0</text>
<text x="84.34" y="575.2" font-size="10.8" text-anchor="middle" fill="#1a1a1a" stroke="#1a1a1a" stroke-width="0.25" font-family="Liberation Sans, sans-serif">10</text>
<text x="125.28" y="575.2" font-size="10.8" text-anchor="middle" fill="#1a1a1a" stroke="#1a1a1a" stroke-width="0.25" font-family="Liberation Sans, sans-serif">20</text>
<text x="166.22" y="575.2" font-size="10.8" text-anchor="middle" fill="#1a1a1a" stroke="#1a1a1a" stroke-width="0.25" font-family="Liberation Sans, sans-serif">30</text>
<text x="207.16" y="575.2" font-size="10.8" text-anchor="middle" fill="#1a1a1a" stroke="#1a1a1a" stroke-width="0.25" font-family="Liberation Sans, sans-serif">40</text>
<text x="248.10" y="575.2" font-size="10.8" text-anchor="middle" fill="#1a1a1a" stroke="#1a1a1a" stroke-width="0.25" font-family="Liberation Sans, sans-serif">50</text>
<text x="289.04" y="575.2" font-size="10.8" text-anchor="middle" fill="#1a1a1a" stroke="#1a1a1a" stroke-width="0.25" font-family="Liberation Sans, sans-serif">60</text>
<text x="329.98" y="575.2" font-size="10.8" text-anchor="middle" fill="#1a1a1a" stroke="#1a1a1a" stroke-width="0.25" font-family="Liberation Sans, sans-serif">70</text>
<text x="370.92" y="575.2" font-size="10.8" text-anchor="middle" fill="#1a1a1a" stroke="#1a1a1a" stroke-width="0.25" font-family="Liberation Sans, sans-serif">80</text>
<text x="411.86" y="575.2" font-size="10.8" text-anchor="middle" fill="#1a1a1a" stroke="#1a1a1a" stroke-width="0.25" font-family="Liberation Sans, sans-serif">90</text>
<text x="454.40" y="575.2" font-size="10.8" text-anchor="middle" fill="#1a1a1a" stroke="#1a1a1a" stroke-width="0.25" font-family="Liberation Sans, sans-serif">100</text>
<text x="495.34" y="575.2" font-size="10.8" text-anchor="middle" fill="#1a1a1a" stroke="#1a1a1a" stroke-width="0.25" font-family="Liberation Sans, sans-serif">110</text>
<text x="536.28" y="575.2" font-size="10.8" text-anchor="middle" fill="#1a1a1a" stroke="#1a1a1a" stroke-width="0.25" font-family="Liberation Sans, sans-serif">120</text>
<text x="577.22" y="575.2" font-size="10.8" text-anchor="middle" fill="#1a1a1a" stroke="#1a1a1a" stroke-width="0.25" font-family="Liberation Sans, sans-serif">130</text>
<text x="618.16" y="575.2" font-size="10.8" text-anchor="middle" fill="#1a1a1a" stroke="#1a1a1a" stroke-width="0.25" font-family="Liberation Sans, sans-serif">140</text>
<text x="307.9" y="590.6" font-size="11.2" fill="#1a1a1a" stroke="#1a1a1a" stroke-width="0.25" font-family="Liberation Sans, sans-serif" textLength="54.3" lengthAdjust="spacingAndGlyphs">Time (min)</text>
<text transform="translate(9.1,292.1) rotate(-90)" font-size="11" text-anchor="middle" fill="#1a1a1a" stroke="#1a1a1a" stroke-width="0.25" font-family="Liberation Sans, sans-serif" textLength="102" lengthAdjust="spacingAndGlyphs">Relative Abundance</text>
<text x="13.75" y="11" font-size="10" font-family="Liberation Sans, sans-serif" textLength="82" lengthAdjust="spacingAndGlyphs"><tspan fill="#111">RT:</tspan><tspan fill="#3c32a0">0.00 - 140.07</tspan></text>
<text transform="translate(616.50,21.90) scale(1.07,1)" font-size="9.3" fill="#111111" stroke="#111111" stroke-width="0.2" font-family="Liberation Sans, sans-serif">NL:</text>
<text transform="translate(616.50,33.85) scale(1.07,1)" font-size="9.3" fill="#111111" stroke="#111111" stroke-width="0.2" font-family="Liberation Sans, sans-serif">1.29E8</text>
<text transform="translate(616.50,45.80) scale(1.07,1)" font-size="9.3" fill="#111111" stroke="#111111" stroke-width="0.2" font-family="Liberation Sans, sans-serif">Base Peak</text>
<text transform="translate(616.50,57.75) scale(1.07,1)" font-size="9.3" fill="#111111" stroke="#111111" stroke-width="0.2" font-family="Liberation Sans, sans-serif">MS</text>
<text transform="translate(616.50,69.70) scale(1.07,1)" font-size="9.3" fill="#111111" stroke="#111111" stroke-width="0.2" font-family="Liberation Sans, sans-serif">10ugin50ul_</text>
<text transform="translate(616.50,81.65) scale(1.07,1)" font-size="9.3" fill="#111111" stroke="#111111" stroke-width="0.2" font-family="Liberation Sans, sans-serif">1</text>
<text transform="translate(616.50,130.70) scale(1.07,1)" font-size="9.3" fill="#830505" stroke="#830505" stroke-width="0.2" font-family="Liberation Sans, sans-serif">NL:</text>
<text transform="translate(616.50,142.65) scale(1.07,1)" font-size="9.3" fill="#830505" stroke="#830505" stroke-width="0.2" font-family="Liberation Sans, sans-serif">1.28E8</text>
<text transform="translate(616.50,154.60) scale(1.07,1)" font-size="9.3" fill="#830505" stroke="#830505" stroke-width="0.2" font-family="Liberation Sans, sans-serif">Base Peak</text>
<text transform="translate(616.50,166.55) scale(1.07,1)" font-size="9.3" fill="#830505" stroke="#830505" stroke-width="0.2" font-family="Liberation Sans, sans-serif">MS 50ug3</text>
<text transform="translate(616.50,239.70) scale(1.07,1)" font-size="9.3" fill="#03820a" stroke="#03820a" stroke-width="0.2" font-family="Liberation Sans, sans-serif">NL:</text>
<text transform="translate(616.50,251.65) scale(1.07,1)" font-size="9.3" fill="#03820a" stroke="#03820a" stroke-width="0.2" font-family="Liberation Sans, sans-serif">1.17E8</text>
<text transform="translate(616.50,263.60) scale(1.07,1)" font-size="9.3" fill="#03820a" stroke="#03820a" stroke-width="0.2" font-family="Liberation Sans, sans-serif">Base Peak</text>
<text transform="translate(616.50,275.55) scale(1.07,1)" font-size="9.3" fill="#03820a" stroke="#03820a" stroke-width="0.2" font-family="Liberation Sans, sans-serif">MS 100ug2</text>
<text transform="translate(615.70,350.10) scale(1.07,1)" font-size="9.3" fill="#2c1890" stroke="#2c1890" stroke-width="0.2" font-family="Liberation Sans, sans-serif">NL:</text>
<text transform="translate(615.70,362.05) scale(1.07,1)" font-size="9.3" fill="#2c1890" stroke="#2c1890" stroke-width="0.2" font-family="Liberation Sans, sans-serif">1.33E8</text>
<text transform="translate(615.70,374.00) scale(1.07,1)" font-size="9.3" fill="#2c1890" stroke="#2c1890" stroke-width="0.2" font-family="Liberation Sans, sans-serif">Base Peak</text>
<text transform="translate(615.70,385.95) scale(1.07,1)" font-size="9.3" fill="#2c1890" stroke="#2c1890" stroke-width="0.2" font-family="Liberation Sans, sans-serif">MS 200ug1</text>
<text transform="translate(616.50,458.85) scale(1.07,1)" font-size="9.3" fill="#817e02" stroke="#817e02" stroke-width="0.2" font-family="Liberation Sans, sans-serif">NL:</text>
<text transform="translate(616.50,470.80) scale(1.07,1)" font-size="9.3" fill="#817e02" stroke="#817e02" stroke-width="0.2" font-family="Liberation Sans, sans-serif">1.67E8</text>
<text transform="translate(616.50,482.75) scale(1.07,1)" font-size="9.3" fill="#817e02" stroke="#817e02" stroke-width="0.2" font-family="Liberation Sans, sans-serif">Base Peak</text>
<text transform="translate(616.50,494.70) scale(1.07,1)" font-size="9.3" fill="#817e02" stroke="#817e02" stroke-width="0.2" font-family="Liberation Sans, sans-serif">MS 5mg</text>
<text x="492.50" y="52.70" font-size="15.8" font-weight="bold" fill="#000" font-family="Liberation Sans, sans-serif">10µg</text>
<text x="493.10" y="174.80" font-size="15.8" font-weight="bold" fill="#000" font-family="Liberation Sans, sans-serif">50µg</text>
<text x="494.90" y="285.20" font-size="15.8" font-weight="bold" fill="#000" font-family="Liberation Sans, sans-serif">100µg</text>
<text x="495.60" y="389.40" font-size="15.8" font-weight="bold" fill="#000" font-family="Liberation Sans, sans-serif">200µg</text>
<text x="495.60" y="493.50" font-size="15.8" font-weight="bold" fill="#000" font-family="Liberation Sans, sans-serif">5mg</text>
<text transform="translate(57.90,113.00) scale(0.92,1)" font-size="8.5" text-anchor="middle" fill="#1e1e1e" stroke="#1e1e1e" stroke-width="0.2" font-family="Liberation Sans, sans-serif">7.29</text>
<text transform="translate(77.10,109.50) scale(0.92,1)" font-size="8.5" text-anchor="middle" fill="#1e1e1e" stroke="#1e1e1e" stroke-width="0.2" font-family="Liberation Sans, sans-serif">8.82</text>
<text transform="translate(98.20,111.30) scale(0.92,1)" font-size="8.5" text-anchor="middle" fill="#1e1e1e" stroke="#1e1e1e" stroke-width="0.2" font-family="Liberation Sans, sans-serif">18.61</text>
<text transform="translate(121.40,107.30) scale(0.92,1)" font-size="8.5" text-anchor="middle" fill="#1e1e1e" stroke="#1e1e1e" stroke-width="0.2" font-family="Liberation Sans, sans-serif">21.13</text>
<text transform="translate(146.10,95.60) scale(0.92,1)" font-size="8.5" text-anchor="middle" fill="#1e1e1e" stroke="#1e1e1e" stroke-width="0.2" font-family="Liberation Sans, sans-serif">25.69</text>
<text transform="translate(174.10,74.50) scale(0.92,1)" font-size="8.5" text-anchor="middle" fill="#1e1e1e" stroke="#1e1e1e" stroke-width="0.2" font-family="Liberation Sans, sans-serif">32.61</text>
<text transform="translate(198.40,24.50) scale(0.92,1)" font-size="8.5" text-anchor="middle" fill="#1e1e1e" stroke="#1e1e1e" stroke-width="0.2" font-family="Liberation Sans, sans-serif">38.40</text>
<text transform="translate(215.40,47.10) scale(0.92,1)" font-size="8.5" text-anchor="middle" fill="#1e1e1e" stroke="#1e1e1e" stroke-width="0.2" font-family="Liberation Sans, sans-serif">42.55</text>
<text transform="translate(228.40,67.80) scale(0.92,1)" font-size="8.5" text-anchor="middle" fill="#1e1e1e" stroke="#1e1e1e" stroke-width="0.2" font-family="Liberation Sans, sans-serif">44.39</text>
<text transform="translate(237.30,102.70) scale(0.92,1)" font-size="8.5" text-anchor="middle" fill="#1e1e1e" stroke="#1e1e1e" stroke-width="0.2" font-family="Liberation Sans, sans-serif">50.28</text>
<text transform="translate(251.70,88.20) scale(0.92,1)" font-size="8.5" text-anchor="middle" fill="#1e1e1e" stroke="#1e1e1e" stroke-width="0.2" font-family="Liberation Sans, sans-serif">51.40</text>
<text transform="translate(264.60,101.40) scale(0.92,1)" font-size="8.5" text-anchor="middle" fill="#1e1e1e" stroke="#1e1e1e" stroke-width="0.2" font-family="Liberation Sans, sans-serif">54.55</text>
<text transform="translate(288.90,105.00) scale(0.92,1)" font-size="8.5" text-anchor="middle" fill="#1e1e1e" stroke="#1e1e1e" stroke-width="0.2" font-family="Liberation Sans, sans-serif">63.25</text>
<text transform="translate(296.00,89.60) scale(0.92,1)" font-size="8.5" text-anchor="middle" fill="#1e1e1e" stroke="#1e1e1e" stroke-width="0.2" font-family="Liberation Sans, sans-serif">64.12</text>
<text transform="translate(309.70,60.70) scale(0.92,1)" font-size="8.5" text-anchor="middle" fill="#1e1e1e" stroke="#1e1e1e" stroke-width="0.2" font-family="Liberation Sans, sans-serif">65.53</text>
<text transform="translate(332.90,64.80) scale(0.92,1)" font-size="8.5" text-anchor="middle" fill="#1e1e1e" stroke="#1e1e1e" stroke-width="0.2" font-family="Liberation Sans, sans-serif">66.20</text>
<text transform="translate(331.80,84.30) scale(0.92,1)" font-size="8.5" text-anchor="middle" fill="#1e1e1e" stroke="#1e1e1e" stroke-width="0.2" font-family="Liberation Sans, sans-serif">70.92</text>
<text transform="translate(346.00,111.20) scale(0.92,1)" font-size="8.5" text-anchor="middle" fill="#1e1e1e" stroke="#1e1e1e" stroke-width="0.2" font-family="Liberation Sans, sans-serif">74.92</text>
<text transform="translate(369.20,108.50) scale(0.92,1)" font-size="8.5" text-anchor="middle" fill="#1e1e1e" stroke="#1e1e1e" stroke-width="0.2" font-family="Liberation Sans, sans-serif">81.08</text>
<text transform="translate(384.40,91.30) scale(0.92,1)" font-size="8.5" text-anchor="middle" fill="#1e1e1e" stroke="#1e1e1e" stroke-width="0.2" font-family="Liberation Sans, sans-serif">83.80</text>
<text transform="translate(407.00,111.20) scale(0.92,1)" font-size="8.5" text-anchor="middle" fill="#1e1e1e" stroke="#1e1e1e" stroke-width="0.2" font-family="Liberation Sans, sans-serif">90.30</text>
<text transform="translate(430.00,109.40) scale(0.92,1)" font-size="8.5" text-anchor="middle" fill="#1e1e1e" stroke="#1e1e1e" stroke-width="0.2" font-family="Liberation Sans, sans-serif">94.92</text>
<text transform="translate(453.30,117.40) scale(0.92,1)" font-size="8.5" text-anchor="middle" fill="#1e1e1e" stroke="#1e1e1e" stroke-width="0.2" font-family="Liberation Sans, sans-serif">95.99</text>
<text transform="translate(499.00,115.60) scale(0.92,1)" font-size="8.5" text-anchor="middle" fill="#1e1e1e" stroke="#1e1e1e" stroke-width="0.2" font-family="Liberation Sans, sans-serif">111.67</text>
<text transform="translate(551.60,114.65) scale(0.92,1)" font-size="8.5" text-anchor="middle" fill="#1e1e1e" stroke="#1e1e1e" stroke-width="0.2" font-family="Liberation Sans, sans-serif">124.51</text>
<text transform="translate(599.00,112.90) scale(0.92,1)" font-size="8.5" text-anchor="middle" fill="#1e1e1e" stroke="#1e1e1e" stroke-width="0.2" font-family="Liberation Sans, sans-serif">135.99</text>
<text transform="translate(52.50,222.40) scale(0.92,1)" font-size="8.5" text-anchor="middle" fill="#1e1e1e" stroke="#1e1e1e" stroke-width="0.2" font-family="Liberation Sans, sans-serif">1.35</text>
<text transform="translate(75.40,216.00) scale(0.92,1)" font-size="8.5" text-anchor="middle" fill="#1e1e1e" stroke="#1e1e1e" stroke-width="0.2" font-family="Liberation Sans, sans-serif">8.32</text>
<text transform="translate(108.00,222.40) scale(0.92,1)" font-size="8.5" text-anchor="middle" fill="#1e1e1e" stroke="#1e1e1e" stroke-width="0.2" font-family="Liberation Sans, sans-serif">17.66</text>
<text transform="translate(132.00,217.40) scale(0.92,1)" font-size="8.5" text-anchor="middle" fill="#1e1e1e" stroke="#1e1e1e" stroke-width="0.2" font-family="Liberation Sans, sans-serif">23.03</text>
<text transform="translate(129.60,198.80) scale(0.92,1)" font-size="8.5" text-anchor="middle" fill="#1e1e1e" stroke="#1e1e1e" stroke-width="0.2" font-family="Liberation Sans, sans-serif">25.78</text>
<text transform="translate(153.00,195.30) scale(0.92,1)" font-size="8.5" text-anchor="middle" fill="#1e1e1e" stroke="#1e1e1e" stroke-width="0.2" font-family="Liberation Sans, sans-serif">29.10</text>
<text transform="translate(175.90,185.20) scale(0.92,1)" font-size="8.5" text-anchor="middle" fill="#1e1e1e" stroke="#1e1e1e" stroke-width="0.2" font-family="Liberation Sans, sans-serif">32.88</text>
<text transform="translate(190.40,207.70) scale(0.92,1)" font-size="8.5" text-anchor="middle" fill="#1e1e1e" stroke="#1e1e1e" stroke-width="0.2" font-family="Liberation Sans, sans-serif">38.81</text>
<text transform="translate(202.00,170.10) scale(0.92,1)" font-size="8.5" text-anchor="middle" fill="#1e1e1e" stroke="#1e1e1e" stroke-width="0.2" font-family="Liberation Sans, sans-serif">39.67</text>
<text transform="translate(215.70,132.10) scale(0.92,1)" font-size="8.5" text-anchor="middle" fill="#1e1e1e" stroke="#1e1e1e" stroke-width="0.2" font-family="Liberation Sans, sans-serif">42.74</text>
<text transform="translate(230.20,180.80) scale(0.92,1)" font-size="8.5" text-anchor="middle" fill="#1e1e1e" stroke="#1e1e1e" stroke-width="0.2" font-family="Liberation Sans, sans-serif">44.74</text>
<text transform="translate(236.80,208.20) scale(0.92,1)" font-size="8.5" text-anchor="middle" fill="#1e1e1e" stroke="#1e1e1e" stroke-width="0.2" font-family="Liberation Sans, sans-serif">50.31</text>
<text transform="translate(251.20,159.30) scale(0.92,1)" font-size="8.5" text-anchor="middle" fill="#1e1e1e" stroke="#1e1e1e" stroke-width="0.2" font-family="Liberation Sans, sans-serif">51.33</text>
<text transform="translate(280.00,202.90) scale(0.92,1)" font-size="8.5" text-anchor="middle" fill="#1e1e1e" stroke="#1e1e1e" stroke-width="0.2" font-family="Liberation Sans, sans-serif">58.35</text>
<text transform="translate(302.80,177.20) scale(0.92,1)" font-size="8.5" text-anchor="middle" fill="#1e1e1e" stroke="#1e1e1e" stroke-width="0.2" font-family="Liberation Sans, sans-serif">63.94</text>
<text transform="translate(315.80,213.50) scale(0.92,1)" font-size="8.5" text-anchor="middle" fill="#1e1e1e" stroke="#1e1e1e" stroke-width="0.2" font-family="Liberation Sans, sans-serif">66.08</text>
<text transform="translate(330.30,170.50) scale(0.92,1)" font-size="8.5" text-anchor="middle" fill="#1e1e1e" stroke="#1e1e1e" stroke-width="0.2" font-family="Liberation Sans, sans-serif">70.65</text>
<text transform="translate(345.00,213.00) scale(0.92,1)" font-size="8.5" text-anchor="middle" fill="#1e1e1e" stroke="#1e1e1e" stroke-width="0.2" font-family="Liberation Sans, sans-serif">71.93</text>
<text transform="translate(369.50,211.20) scale(0.92,1)" font-size="8.5" text-anchor="middle" fill="#1e1e1e" stroke="#1e1e1e" stroke-width="0.2" font-family="Liberation Sans, sans-serif">80.63</text>
<text transform="translate(384.00,188.70) scale(0.92,1)" font-size="8.5" text-anchor="middle" fill="#1e1e1e" stroke="#1e1e1e" stroke-width="0.2" font-family="Liberation Sans, sans-serif">83.76</text>
<text transform="translate(411.50,180.60) scale(0.92,1)" font-size="8.5" text-anchor="middle" fill="#1e1e1e" stroke="#1e1e1e" stroke-width="0.2" font-family="Liberation Sans, sans-serif">90.33</text>
<text transform="translate(429.20,201.50) scale(0.92,1)" font-size="8.5" text-anchor="middle" fill="#1e1e1e" stroke="#1e1e1e" stroke-width="0.2" font-family="Liberation Sans, sans-serif">94.77</text>
<text transform="translate(454.10,223.10) scale(0.92,1)" font-size="8.5" text-anchor="middle" fill="#1e1e1e" stroke="#1e1e1e" stroke-width="0.2" font-family="Liberation Sans, sans-serif">100.76</text>
<text transform="translate(491.30,223.10) scale(0.92,1)" font-size="8.5" text-anchor="middle" fill="#1e1e1e" stroke="#1e1e1e" stroke-width="0.2" font-family="Liberation Sans, sans-serif">109.77</text>
<text transform="translate(520.50,225.40) scale(0.92,1)" font-size="8.5" text-anchor="middle" fill="#1e1e1e" stroke="#1e1e1e" stroke-width="0.2" font-family="Liberation Sans, sans-serif">114.53</text>
<text transform="translate(553.20,224.50) scale(0.92,1)" font-size="8.5" text-anchor="middle" fill="#1e1e1e" stroke="#1e1e1e" stroke-width="0.2" font-family="Liberation Sans, sans-serif">124.88</text>
<text transform="translate(598.40,222.70) scale(0.92,1)" font-size="8.5" text-anchor="middle" fill="#1e1e1e" stroke="#1e1e1e" stroke-width="0.2" font-family="Liberation Sans, sans-serif">135.93</text>
<text transform="translate(52.70,331.20) scale(0.92,1)" font-size="8.5" text-anchor="middle" fill="#1e1e1e" stroke="#1e1e1e" stroke-width="0.2" font-family="Liberation Sans, sans-serif">0.99</text>
<text transform="translate(75.30,330.30) scale(0.92,1)" font-size="8.5" text-anchor="middle" fill="#1e1e1e" stroke="#1e1e1e" stroke-width="0.2" font-family="Liberation Sans, sans-serif">8.33</text>
<text transform="translate(103.80,332.20) scale(0.92,1)" font-size="8.5" text-anchor="middle" fill="#1e1e1e" stroke="#1e1e1e" stroke-width="0.2" font-family="Liberation Sans, sans-serif">20.38</text>
<text transform="translate(127.00,324.10) scale(0.92,1)" font-size="8.5" text-anchor="middle" fill="#1e1e1e" stroke="#1e1e1e" stroke-width="0.2" font-family="Liberation Sans, sans-serif">21.90</text>
<text transform="translate(126.50,311.40) scale(0.92,1)" font-size="8.5" text-anchor="middle" fill="#1e1e1e" stroke="#1e1e1e" stroke-width="0.2" font-family="Liberation Sans, sans-serif">24.54</text>
<text transform="translate(149.70,309.10) scale(0.92,1)" font-size="8.5" text-anchor="middle" fill="#1e1e1e" stroke="#1e1e1e" stroke-width="0.2" font-family="Liberation Sans, sans-serif">26.53</text>
<text transform="translate(173.60,296.30) scale(0.92,1)" font-size="8.5" text-anchor="middle" fill="#1e1e1e" stroke="#1e1e1e" stroke-width="0.2" font-family="Liberation Sans, sans-serif">32.36</text>
<text transform="translate(187.70,317.50) scale(0.92,1)" font-size="8.5" text-anchor="middle" fill="#1e1e1e" stroke="#1e1e1e" stroke-width="0.2" font-family="Liberation Sans, sans-serif">34.82</text>
<text transform="translate(190.90,252.10) scale(0.92,1)" font-size="8.5" text-anchor="middle" fill="#1e1e1e" stroke="#1e1e1e" stroke-width="0.2" font-family="Liberation Sans, sans-serif">39.39</text>
<text transform="translate(215.30,241.10) scale(0.92,1)" font-size="8.5" text-anchor="middle" fill="#1e1e1e" stroke="#1e1e1e" stroke-width="0.2" font-family="Liberation Sans, sans-serif">42.43</text>
<text transform="translate(228.80,289.20) scale(0.92,1)" font-size="8.5" text-anchor="middle" fill="#1e1e1e" stroke="#1e1e1e" stroke-width="0.2" font-family="Liberation Sans, sans-serif">44.55</text>
<text transform="translate(237.30,318.40) scale(0.92,1)" font-size="8.5" text-anchor="middle" fill="#1e1e1e" stroke="#1e1e1e" stroke-width="0.2" font-family="Liberation Sans, sans-serif">50.15</text>
<text transform="translate(249.70,274.20) scale(0.92,1)" font-size="8.5" text-anchor="middle" fill="#1e1e1e" stroke="#1e1e1e" stroke-width="0.2" font-family="Liberation Sans, sans-serif">51.01</text>
<text transform="translate(279.80,307.30) scale(0.92,1)" font-size="8.5" text-anchor="middle" fill="#1e1e1e" stroke="#1e1e1e" stroke-width="0.2" font-family="Liberation Sans, sans-serif">58.34</text>
<text transform="translate(301.70,286.60) scale(0.92,1)" font-size="8.5" text-anchor="middle" fill="#1e1e1e" stroke="#1e1e1e" stroke-width="0.2" font-family="Liberation Sans, sans-serif">63.65</text>
<text transform="translate(315.80,320.20) scale(0.92,1)" font-size="8.5" text-anchor="middle" fill="#1e1e1e" stroke="#1e1e1e" stroke-width="0.2" font-family="Liberation Sans, sans-serif">65.62</text>
<text transform="translate(329.40,257.40) scale(0.92,1)" font-size="8.5" text-anchor="middle" fill="#1e1e1e" stroke="#1e1e1e" stroke-width="0.2" font-family="Liberation Sans, sans-serif">70.43</text>
<text transform="translate(343.10,320.20) scale(0.92,1)" font-size="8.5" text-anchor="middle" fill="#1e1e1e" stroke="#1e1e1e" stroke-width="0.2" font-family="Liberation Sans, sans-serif">72.84</text>
<text transform="translate(368.40,316.10) scale(0.92,1)" font-size="8.5" text-anchor="middle" fill="#1e1e1e" stroke="#1e1e1e" stroke-width="0.2" font-family="Liberation Sans, sans-serif">80.43</text>
<text transform="translate(383.40,282.10) scale(0.92,1)" font-size="8.5" text-anchor="middle" fill="#1e1e1e" stroke="#1e1e1e" stroke-width="0.2" font-family="Liberation Sans, sans-serif">83.58</text>
<text transform="translate(410.70,290.60) scale(0.92,1)" font-size="8.5" text-anchor="middle" fill="#1e1e1e" stroke="#1e1e1e" stroke-width="0.2" font-family="Liberation Sans, sans-serif">90.28</text>
<text transform="translate(422.60,305.50) scale(0.92,1)" font-size="8.5" text-anchor="middle" fill="#1e1e1e" stroke="#1e1e1e" stroke-width="0.2" font-family="Liberation Sans, sans-serif">90.44</text>
<text transform="translate(447.00,311.40) scale(0.92,1)" font-size="8.5" text-anchor="middle" fill="#1e1e1e" stroke="#1e1e1e" stroke-width="0.2" font-family="Liberation Sans, sans-serif">94.99</text>
<text transform="translate(453.30,331.40) scale(0.92,1)" font-size="8.5" text-anchor="middle" fill="#1e1e1e" stroke="#1e1e1e" stroke-width="0.2" font-family="Liberation Sans, sans-serif">100.54</text>
<text transform="translate(491.80,332.60) scale(0.92,1)" font-size="8.5" text-anchor="middle" fill="#1e1e1e" stroke="#1e1e1e" stroke-width="0.2" font-family="Liberation Sans, sans-serif">109.82</text>
<text transform="translate(519.60,334.40) scale(0.92,1)" font-size="8.5" text-anchor="middle" fill="#1e1e1e" stroke="#1e1e1e" stroke-width="0.2" font-family="Liberation Sans, sans-serif">114.31</text>
<text transform="translate(555.40,334.40) scale(0.92,1)" font-size="8.5" text-anchor="middle" fill="#1e1e1e" stroke="#1e1e1e" stroke-width="0.2" font-family="Liberation Sans, sans-serif">125.47</text>
<text transform="translate(594.60,331.40) scale(0.92,1)" font-size="8.5" text-anchor="middle" fill="#1e1e1e" stroke="#1e1e1e" stroke-width="0.2" font-family="Liberation Sans, sans-serif">135.00</text>
<text transform="translate(51.50,439.30) scale(0.92,1)" font-size="8.5" text-anchor="middle" fill="#1e1e1e" stroke="#1e1e1e" stroke-width="0.2" font-family="Liberation Sans, sans-serif">1.50</text>
<text transform="translate(75.30,437.20) scale(0.92,1)" font-size="8.5" text-anchor="middle" fill="#1e1e1e" stroke="#1e1e1e" stroke-width="0.2" font-family="Liberation Sans, sans-serif">8.33</text>
<text transform="translate(104.40,441.60) scale(0.92,1)" font-size="8.5" text-anchor="middle" fill="#1e1e1e" stroke="#1e1e1e" stroke-width="0.2" font-family="Liberation Sans, sans-serif">19.08</text>
<text transform="translate(128.80,431.50) scale(0.92,1)" font-size="8.5" text-anchor="middle" fill="#1e1e1e" stroke="#1e1e1e" stroke-width="0.2" font-family="Liberation Sans, sans-serif">22.40</text>
<text transform="translate(126.50,417.70) scale(0.92,1)" font-size="8.5" text-anchor="middle" fill="#1e1e1e" stroke="#1e1e1e" stroke-width="0.2" font-family="Liberation Sans, sans-serif">24.99</text>
<text transform="translate(149.40,413.30) scale(0.92,1)" font-size="8.5" text-anchor="middle" fill="#1e1e1e" stroke="#1e1e1e" stroke-width="0.2" font-family="Liberation Sans, sans-serif">28.34</text>
<text transform="translate(172.30,402.70) scale(0.92,1)" font-size="8.5" text-anchor="middle" fill="#1e1e1e" stroke="#1e1e1e" stroke-width="0.2" font-family="Liberation Sans, sans-serif">32.11</text>
<text transform="translate(187.40,424.80) scale(0.92,1)" font-size="8.5" text-anchor="middle" fill="#1e1e1e" stroke="#1e1e1e" stroke-width="0.2" font-family="Liberation Sans, sans-serif">38.42</text>
<text transform="translate(200.40,378.40) scale(0.92,1)" font-size="8.5" text-anchor="middle" fill="#1e1e1e" stroke="#1e1e1e" stroke-width="0.2" font-family="Liberation Sans, sans-serif">39.39</text>
<text transform="translate(213.90,364.60) scale(0.92,1)" font-size="8.5" text-anchor="middle" fill="#1e1e1e" stroke="#1e1e1e" stroke-width="0.2" font-family="Liberation Sans, sans-serif">42.24</text>
<text transform="translate(227.00,391.50) scale(0.92,1)" font-size="8.5" text-anchor="middle" fill="#1e1e1e" stroke="#1e1e1e" stroke-width="0.2" font-family="Liberation Sans, sans-serif">44.09</text>
<text transform="translate(235.60,425.70) scale(0.92,1)" font-size="8.5" text-anchor="middle" fill="#1e1e1e" stroke="#1e1e1e" stroke-width="0.2" font-family="Liberation Sans, sans-serif">49.81</text>
<text transform="translate(248.80,350.10) scale(0.92,1)" font-size="8.5" text-anchor="middle" fill="#1e1e1e" stroke="#1e1e1e" stroke-width="0.2" font-family="Liberation Sans, sans-serif">50.78</text>
<text transform="translate(264.10,422.10) scale(0.92,1)" font-size="8.5" text-anchor="middle" fill="#1e1e1e" stroke="#1e1e1e" stroke-width="0.2" font-family="Liberation Sans, sans-serif">58.57</text>
<text transform="translate(287.60,415.60) scale(0.92,1)" font-size="8.5" text-anchor="middle" fill="#1e1e1e" stroke="#1e1e1e" stroke-width="0.2" font-family="Liberation Sans, sans-serif">62.93</text>
<text transform="translate(302.10,396.80) scale(0.92,1)" font-size="8.5" text-anchor="middle" fill="#1e1e1e" stroke="#1e1e1e" stroke-width="0.2" font-family="Liberation Sans, sans-serif">63.76</text>
<text transform="translate(329.90,392.00) scale(0.92,1)" font-size="8.5" text-anchor="middle" fill="#1e1e1e" stroke="#1e1e1e" stroke-width="0.2" font-family="Liberation Sans, sans-serif">70.48</text>
<text transform="translate(354.30,431.00) scale(0.92,1)" font-size="8.5" text-anchor="middle" fill="#1e1e1e" stroke="#1e1e1e" stroke-width="0.2" font-family="Liberation Sans, sans-serif">76.07</text>
<text transform="translate(359.00,418.60) scale(0.92,1)" font-size="8.5" text-anchor="middle" fill="#1e1e1e" stroke="#1e1e1e" stroke-width="0.2" font-family="Liberation Sans, sans-serif">80.33</text>
<text transform="translate(383.60,407.10) scale(0.92,1)" font-size="8.5" text-anchor="middle" fill="#1e1e1e" stroke="#1e1e1e" stroke-width="0.2" font-family="Liberation Sans, sans-serif">83.56</text>
<text transform="translate(408.80,404.90) scale(0.92,1)" font-size="8.5" text-anchor="middle" fill="#1e1e1e" stroke="#1e1e1e" stroke-width="0.2" font-family="Liberation Sans, sans-serif">89.85</text>
<text transform="translate(431.80,416.80) scale(0.92,1)" font-size="8.5" text-anchor="middle" fill="#1e1e1e" stroke="#1e1e1e" stroke-width="0.2" font-family="Liberation Sans, sans-serif">95.02</text>
<text transform="translate(455.90,438.60) scale(0.92,1)" font-size="8.5" text-anchor="middle" fill="#1e1e1e" stroke="#1e1e1e" stroke-width="0.2" font-family="Liberation Sans, sans-serif">101.02</text>
<text transform="translate(483.40,442.10) scale(0.92,1)" font-size="8.5" text-anchor="middle" fill="#1e1e1e" stroke="#1e1e1e" stroke-width="0.2" font-family="Liberation Sans, sans-serif">107.88</text>
<text transform="translate(511.50,443.40) scale(0.92,1)" font-size="8.5" text-anchor="middle" fill="#1e1e1e" stroke="#1e1e1e" stroke-width="0.2" font-family="Liberation Sans, sans-serif">114.60</text>
<text transform="translate(543.30,443.40) scale(0.92,1)" font-size="8.5" text-anchor="middle" fill="#1e1e1e" stroke="#1e1e1e" stroke-width="0.2" font-family="Liberation Sans, sans-serif">125.15</text>
<text transform="translate(571.20,443.40) scale(0.92,1)" font-size="8.5" text-anchor="middle" fill="#1e1e1e" stroke="#1e1e1e" stroke-width="0.2" font-family="Liberation Sans, sans-serif">133.32</text>
<text transform="translate(599.00,440.40) scale(0.92,1)" font-size="8.5" text-anchor="middle" fill="#1e1e1e" stroke="#1e1e1e" stroke-width="0.2" font-family="Liberation Sans, sans-serif">135.97</text>
<text transform="translate(56.00,544.40) scale(0.92,1)" font-size="8.5" text-anchor="middle" fill="#1e1e1e" stroke="#1e1e1e" stroke-width="0.2" font-family="Liberation Sans, sans-serif">5.88</text>
<text transform="translate(75.40,536.40) scale(0.92,1)" font-size="8.5" text-anchor="middle" fill="#1e1e1e" stroke="#1e1e1e" stroke-width="0.2" font-family="Liberation Sans, sans-serif">8.29</text>
<text transform="translate(95.10,539.10) scale(0.92,1)" font-size="8.5" text-anchor="middle" fill="#1e1e1e" stroke="#1e1e1e" stroke-width="0.2" font-family="Liberation Sans, sans-serif">8.52</text>
<text transform="translate(132.60,536.40) scale(0.92,1)" font-size="8.5" text-anchor="middle" fill="#1e1e1e" stroke="#1e1e1e" stroke-width="0.2" font-family="Liberation Sans, sans-serif">25.12</text>
<text transform="translate(136.70,520.30) scale(0.92,1)" font-size="8.5" text-anchor="middle" fill="#1e1e1e" stroke="#1e1e1e" stroke-width="0.2" font-family="Liberation Sans, sans-serif">25.67</text>
<text transform="translate(150.60,508.10) scale(0.92,1)" font-size="8.5" text-anchor="middle" fill="#1e1e1e" stroke="#1e1e1e" stroke-width="0.2" font-family="Liberation Sans, sans-serif">26.70</text>
<text transform="translate(174.20,509.90) scale(0.92,1)" font-size="8.5" text-anchor="middle" fill="#1e1e1e" stroke="#1e1e1e" stroke-width="0.2" font-family="Liberation Sans, sans-serif">32.61</text>
<text transform="translate(201.90,475.70) scale(0.92,1)" font-size="8.5" text-anchor="middle" fill="#1e1e1e" stroke="#1e1e1e" stroke-width="0.2" font-family="Liberation Sans, sans-serif">39.66</text>
<text transform="translate(215.50,458.60) scale(0.92,1)" font-size="8.5" text-anchor="middle" fill="#1e1e1e" stroke="#1e1e1e" stroke-width="0.2" font-family="Liberation Sans, sans-serif">42.61</text>
<text transform="translate(228.80,484.60) scale(0.92,1)" font-size="8.5" text-anchor="middle" fill="#1e1e1e" stroke="#1e1e1e" stroke-width="0.2" font-family="Liberation Sans, sans-serif">44.49</text>
<text transform="translate(236.50,522.80) scale(0.92,1)" font-size="8.5" text-anchor="middle" fill="#1e1e1e" stroke="#1e1e1e" stroke-width="0.2" font-family="Liberation Sans, sans-serif">50.21</text>
<text transform="translate(252.20,490.40) scale(0.92,1)" font-size="8.5" text-anchor="middle" fill="#1e1e1e" stroke="#1e1e1e" stroke-width="0.2" font-family="Liberation Sans, sans-serif">51.08</text>
<text transform="translate(266.30,530.20) scale(0.92,1)" font-size="8.5" text-anchor="middle" fill="#1e1e1e" stroke="#1e1e1e" stroke-width="0.2" font-family="Liberation Sans, sans-serif">58.67</text>
<text transform="translate(289.40,526.70) scale(0.92,1)" font-size="8.5" text-anchor="middle" fill="#1e1e1e" stroke="#1e1e1e" stroke-width="0.2" font-family="Liberation Sans, sans-serif">62.97</text>
<text transform="translate(302.60,477.50) scale(0.92,1)" font-size="8.5" text-anchor="middle" fill="#1e1e1e" stroke="#1e1e1e" stroke-width="0.2" font-family="Liberation Sans, sans-serif">63.84</text>
<text transform="translate(329.90,490.40) scale(0.92,1)" font-size="8.5" text-anchor="middle" fill="#1e1e1e" stroke="#1e1e1e" stroke-width="0.2" font-family="Liberation Sans, sans-serif">70.43</text>
<text transform="translate(344.70,535.20) scale(0.92,1)" font-size="8.5" text-anchor="middle" fill="#1e1e1e" stroke="#1e1e1e" stroke-width="0.2" font-family="Liberation Sans, sans-serif">71.73</text>
<text transform="translate(369.00,538.70) scale(0.92,1)" font-size="8.5" text-anchor="middle" fill="#1e1e1e" stroke="#1e1e1e" stroke-width="0.2" font-family="Liberation Sans, sans-serif">80.54</text>
<text transform="translate(384.40,515.20) scale(0.92,1)" font-size="8.5" text-anchor="middle" fill="#1e1e1e" stroke="#1e1e1e" stroke-width="0.2" font-family="Liberation Sans, sans-serif">83.78</text>
<text transform="translate(408.40,515.20) scale(0.92,1)" font-size="8.5" text-anchor="middle" fill="#1e1e1e" stroke="#1e1e1e" stroke-width="0.2" font-family="Liberation Sans, sans-serif">89.69</text>
<text transform="translate(431.80,517.00) scale(0.92,1)" font-size="8.5" text-anchor="middle" fill="#1e1e1e" stroke="#1e1e1e" stroke-width="0.2" font-family="Liberation Sans, sans-serif">94.47</text>
<text transform="translate(453.90,548.80) scale(0.92,1)" font-size="8.5" text-anchor="middle" fill="#1e1e1e" stroke="#1e1e1e" stroke-width="0.2" font-family="Liberation Sans, sans-serif">100.60</text>
<text transform="translate(486.40,550.60) scale(0.92,1)" font-size="8.5" text-anchor="middle" fill="#1e1e1e" stroke="#1e1e1e" stroke-width="0.2" font-family="Liberation Sans, sans-serif">103.50</text>
<text transform="translate(513.40,551.50) scale(0.92,1)" font-size="8.5" text-anchor="middle" fill="#1e1e1e" stroke="#1e1e1e" stroke-width="0.2" font-family="Liberation Sans, sans-serif">114.33</text>
<text transform="translate(567.10,551.50) scale(0.92,1)" font-size="8.5" text-anchor="middle" fill="#1e1e1e" stroke="#1e1e1e" stroke-width="0.2" font-family="Liberation Sans, sans-serif">133.34</text>
<text transform="translate(594.60,550.10) scale(0.92,1)" font-size="8.5" text-anchor="middle" fill="#1e1e1e" stroke="#1e1e1e" stroke-width="0.2" font-family="Liberation Sans, sans-serif">134.96</text>
<line x1="57.90" y1="113.60" x2="70.70" y2="115.40" stroke="#74d274" stroke-width="1.1" stroke-linecap="round"/>
<line x1="98.60" y1="111.40" x2="117.10" y2="113.10" stroke="#74d274" stroke-width="1.1" stroke-linecap="round"/>
<line x1="122.10" y1="107.10" x2="127.10" y2="108.60" stroke="#74d274" stroke-width="1.1" stroke-linecap="round"/>
<line x1="222.50" y1="69.60" x2="227.80" y2="68.10" stroke="#74d274" stroke-width="1.1" stroke-linecap="round"/>
<line x1="237.30" y1="102.80" x2="247.00" y2="104.60" stroke="#74d274" stroke-width="1.1" stroke-linecap="round"/>
<line x1="289.50" y1="105.30" x2="299.80" y2="106.70" stroke="#74d274" stroke-width="1.1" stroke-linecap="round"/>
<line x1="296.20" y1="89.40" x2="303.70" y2="91.20" stroke="#74d274" stroke-width="1.1" stroke-linecap="round"/>
<line x1="312.50" y1="66.90" x2="332.00" y2="65.10" stroke="#74d274" stroke-width="1.1" stroke-linecap="round"/>
<line x1="345.90" y1="112.00" x2="347.70" y2="113.30" stroke="#74d274" stroke-width="1.1" stroke-linecap="round"/>
<line x1="369.30" y1="109.00" x2="372.80" y2="110.80" stroke="#74d274" stroke-width="1.1" stroke-linecap="round"/>
<line x1="407.30" y1="111.70" x2="410.50" y2="112.90" stroke="#74d274" stroke-width="1.1" stroke-linecap="round"/>
<line x1="434.20" y1="118.80" x2="452.40" y2="117.00" stroke="#74d274" stroke-width="1.1" stroke-linecap="round"/>
<line x1="46.20" y1="224.50" x2="51.50" y2="222.70" stroke="#74d274" stroke-width="1.1" stroke-linecap="round"/>
<line x1="108.10" y1="222.70" x2="112.60" y2="225.00" stroke="#74d274" stroke-width="1.1" stroke-linecap="round"/>
<line x1="132.00" y1="217.40" x2="135.20" y2="219.70" stroke="#74d274" stroke-width="1.1" stroke-linecap="round"/>
<line x1="130.30" y1="199.20" x2="146.40" y2="200.60" stroke="#74d274" stroke-width="1.1" stroke-linecap="round"/>
<line x1="152.60" y1="195.30" x2="160.50" y2="197.00" stroke="#74d274" stroke-width="1.1" stroke-linecap="round"/>
<line x1="190.60" y1="208.00" x2="199.80" y2="209.80" stroke="#74d274" stroke-width="1.1" stroke-linecap="round"/>
<line x1="201.60" y1="170.10" x2="203.40" y2="171.90" stroke="#74d274" stroke-width="1.1" stroke-linecap="round"/>
<line x1="223.90" y1="182.90" x2="230.50" y2="180.70" stroke="#74d274" stroke-width="1.1" stroke-linecap="round"/>
<line x1="237.30" y1="208.50" x2="246.20" y2="209.80" stroke="#74d274" stroke-width="1.1" stroke-linecap="round"/>
<line x1="311.60" y1="215.60" x2="315.20" y2="213.80" stroke="#74d274" stroke-width="1.1" stroke-linecap="round"/>
<line x1="335.30" y1="214.70" x2="344.20" y2="213.30" stroke="#74d274" stroke-width="1.1" stroke-linecap="round"/>
<line x1="369.80" y1="211.20" x2="371.10" y2="213.00" stroke="#74d274" stroke-width="1.1" stroke-linecap="round"/>
<line x1="509.40" y1="226.80" x2="519.20" y2="225.00" stroke="#74d274" stroke-width="1.1" stroke-linecap="round"/>
<line x1="44.40" y1="333.10" x2="51.50" y2="331.20" stroke="#74d274" stroke-width="1.1" stroke-linecap="round"/>
<line x1="104.10" y1="332.60" x2="124.60" y2="334.30" stroke="#74d274" stroke-width="1.1" stroke-linecap="round"/>
<line x1="127.10" y1="323.70" x2="130.30" y2="325.00" stroke="#74d274" stroke-width="1.1" stroke-linecap="round"/>
<line x1="126.70" y1="311.30" x2="141.10" y2="313.50" stroke="#74d274" stroke-width="1.1" stroke-linecap="round"/>
<line x1="183.60" y1="319.30" x2="187.10" y2="318.10" stroke="#74d274" stroke-width="1.1" stroke-linecap="round"/>
<line x1="191.50" y1="252.90" x2="202.10" y2="254.30" stroke="#74d274" stroke-width="1.1" stroke-linecap="round"/>
<line x1="223.40" y1="291.90" x2="228.70" y2="290.10" stroke="#74d274" stroke-width="1.1" stroke-linecap="round"/>
<line x1="237.30" y1="318.80" x2="246.20" y2="320.50" stroke="#74d274" stroke-width="1.1" stroke-linecap="round"/>
<line x1="309.50" y1="322.80" x2="315.20" y2="321.10" stroke="#74d274" stroke-width="1.1" stroke-linecap="round"/>
<line x1="338.80" y1="322.30" x2="342.40" y2="321.10" stroke="#74d274" stroke-width="1.1" stroke-linecap="round"/>
<line x1="368.90" y1="316.60" x2="370.40" y2="318.40" stroke="#74d274" stroke-width="1.1" stroke-linecap="round"/>
<line x1="411.80" y1="307.80" x2="422.00" y2="306.00" stroke="#74d274" stroke-width="1.1" stroke-linecap="round"/>
<line x1="429.80" y1="313.10" x2="446.60" y2="311.30" stroke="#74d274" stroke-width="1.1" stroke-linecap="round"/>
<line x1="509.40" y1="335.80" x2="518.30" y2="334.00" stroke="#74d274" stroke-width="1.1" stroke-linecap="round"/>
<line x1="46.20" y1="441.60" x2="50.60" y2="439.80" stroke="#74d274" stroke-width="1.1" stroke-linecap="round"/>
<line x1="104.60" y1="441.60" x2="118.80" y2="443.30" stroke="#74d274" stroke-width="1.1" stroke-linecap="round"/>
<line x1="129.40" y1="431.80" x2="132.00" y2="433.60" stroke="#74d274" stroke-width="1.1" stroke-linecap="round"/>
<line x1="126.70" y1="417.70" x2="143.20" y2="419.50" stroke="#74d274" stroke-width="1.1" stroke-linecap="round"/>
<line x1="149.90" y1="413.60" x2="156.70" y2="415.40" stroke="#74d274" stroke-width="1.1" stroke-linecap="round"/>
<line x1="187.10" y1="424.20" x2="198.10" y2="426.50" stroke="#74d274" stroke-width="1.1" stroke-linecap="round"/>
<line x1="200.40" y1="378.70" x2="202.10" y2="380.50" stroke="#74d274" stroke-width="1.1" stroke-linecap="round"/>
<line x1="221.10" y1="393.40" x2="226.40" y2="391.70" stroke="#74d274" stroke-width="1.1" stroke-linecap="round"/>
<line x1="235.50" y1="425.60" x2="244.70" y2="427.80" stroke="#74d274" stroke-width="1.1" stroke-linecap="round"/>
<line x1="263.90" y1="422.50" x2="280.70" y2="424.20" stroke="#74d274" stroke-width="1.1" stroke-linecap="round"/>
<line x1="287.80" y1="415.90" x2="298.70" y2="417.70" stroke="#74d274" stroke-width="1.1" stroke-linecap="round"/>
<line x1="352.10" y1="432.70" x2="353.90" y2="431.30" stroke="#74d274" stroke-width="1.1" stroke-linecap="round"/>
<line x1="359.20" y1="418.60" x2="369.80" y2="420.30" stroke="#74d274" stroke-width="1.1" stroke-linecap="round"/>
<line x1="429.80" y1="418.60" x2="431.90" y2="416.80" stroke="#74d274" stroke-width="1.1" stroke-linecap="round"/>
<line x1="542.10" y1="443.30" x2="553.60" y2="445.50" stroke="#74d274" stroke-width="1.1" stroke-linecap="round"/>
<line x1="570.40" y1="443.30" x2="587.30" y2="445.60" stroke="#74d274" stroke-width="1.1" stroke-linecap="round"/>
<line x1="55.90" y1="544.40" x2="65.70" y2="546.70" stroke="#74d274" stroke-width="1.1" stroke-linecap="round"/>
<line x1="76.30" y1="541.40" x2="94.00" y2="539.60" stroke="#74d274" stroke-width="1.1" stroke-linecap="round"/>
<line x1="132.90" y1="536.80" x2="143.70" y2="538.20" stroke="#74d274" stroke-width="1.1" stroke-linecap="round"/>
<line x1="136.70" y1="521.40" x2="145.50" y2="522.60" stroke="#74d274" stroke-width="1.1" stroke-linecap="round"/>
<line x1="201.60" y1="475.90" x2="203.40" y2="477.70" stroke="#74d274" stroke-width="1.1" stroke-linecap="round"/>
<line x1="223.40" y1="486.90" x2="228.70" y2="485.10" stroke="#74d274" stroke-width="1.1" stroke-linecap="round"/>
<line x1="237.30" y1="523.10" x2="246.20" y2="524.60" stroke="#74d274" stroke-width="1.1" stroke-linecap="round"/>
<line x1="250.10" y1="492.50" x2="251.50" y2="491.30" stroke="#74d274" stroke-width="1.1" stroke-linecap="round"/>
<line x1="267.00" y1="531.10" x2="281.00" y2="532.50" stroke="#74d274" stroke-width="1.1" stroke-linecap="round"/>
<line x1="289.50" y1="527.60" x2="298.70" y2="529.00" stroke="#74d274" stroke-width="1.1" stroke-linecap="round"/>
<line x1="335.00" y1="537.30" x2="343.80" y2="535.50" stroke="#74d274" stroke-width="1.1" stroke-linecap="round"/>
<line x1="369.30" y1="539.10" x2="370.70" y2="540.80" stroke="#74d274" stroke-width="1.1" stroke-linecap="round"/>
<line x1="428.20" y1="519.10" x2="430.00" y2="518.40" stroke="#74d274" stroke-width="1.1" stroke-linecap="round"/>
<line x1="464.30" y1="552.30" x2="484.60" y2="550.60" stroke="#74d274" stroke-width="1.1" stroke-linecap="round"/>
<line x1="509.10" y1="553.20" x2="512.10" y2="552.00" stroke="#74d274" stroke-width="1.1" stroke-linecap="round"/>
<line x1="566.90" y1="552.00" x2="587.30" y2="554.10" stroke="#74d274" stroke-width="1.1" stroke-linecap="round"/>
</svg>
</body></html>
